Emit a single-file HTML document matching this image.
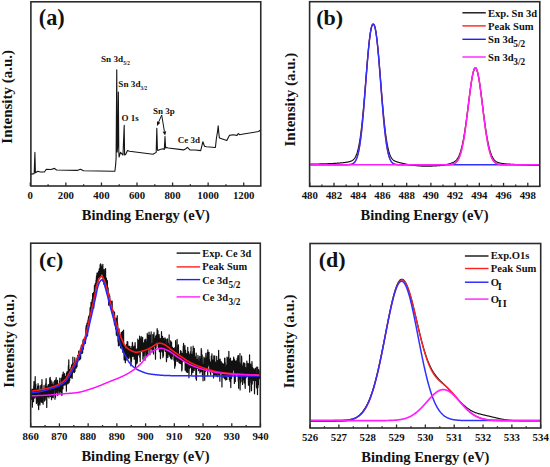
<!DOCTYPE html>
<html><head><meta charset="utf-8"><style>html,body{margin:0;padding:0;background:#fff;width:550px;height:467px;overflow:hidden}</style></head>
<body><svg width="550" height="467" viewBox="0 0 550 467" style="display:block">
<rect width="550" height="467" fill="#fff"/>
<g font-family='"Liberation Serif", serif' font-weight="bold" fill="#111">
<path d="M30.80,174.10 L34.20,173.60 L34.90,152.40 L35.40,172.80 L37.80,171.20 L40.30,172.00 L44.40,172.00 L46.30,169.20 L50.90,169.50 L54.50,168.40 L56.60,170.00 L77.10,170.40 L80.40,169.20 L83.60,170.70 L113.10,171.20 L114.90,171.30 L115.60,165.00 L116.10,158.00 L116.75,69.80 L117.20,152.00 L117.80,145.00 L118.35,92.00 L118.80,152.00 L119.10,157.00 L120.40,152.40 L123.00,155.00 L124.20,125.20 L124.60,155.00 L125.60,154.60 L127.50,150.50 L129.50,151.20 L153.00,154.30 L156.20,152.40 L156.80,128.30 L157.40,149.00 L157.80,150.50 L160.00,149.50 L163.00,148.80 L164.30,149.50 L165.00,136.50 L165.60,148.00 L166.50,147.40 L168.30,148.00 L183.50,149.90 L185.50,149.00 L187.40,147.40 L189.90,149.90 L195.00,150.00 L200.70,150.60 L202.90,141.70 L204.50,146.20 L206.50,146.80 L215.40,147.50 L216.40,138.50 L217.60,131.00 L218.20,125.80 L218.80,133.00 L219.40,137.90 L226.80,140.50 L229.40,135.40 L233.00,134.80 L237.00,135.40 L238.30,133.50 L239.50,134.70 L245.00,133.80 L258.60,131.50 L260.20,130.30" fill="none" stroke="#151515" stroke-width="1.1" stroke-linejoin="round" />
<path d="M161.70,115.00 L158.66,122.04" stroke="#111" stroke-width="1.0" fill="none"/>
<path d="M157.00,125.90 L157.01,121.33 L160.32,122.76 Z" fill="#111"/>
<path d="M161.70,115.00 L164.42,131.46" stroke="#111" stroke-width="1.0" fill="none"/>
<path d="M165.10,135.60 L162.64,131.75 L166.19,131.16 Z" fill="#111"/>
<rect x="30.9" y="1.8" width="229.85" height="184.2" fill="none" stroke="#2b2b2b" stroke-width="1.6"/>
<line x1="30.30" y1="186.0" x2="30.30" y2="182.5" stroke="#2b2b2b" stroke-width="1.3"/>
<text x="30.30" y="199.40" font-size="10.8" text-anchor="middle" >0</text>
<line x1="48.09" y1="186.0" x2="48.09" y2="184.2" stroke="#2b2b2b" stroke-width="1.3"/>
<line x1="65.87" y1="186.0" x2="65.87" y2="182.5" stroke="#2b2b2b" stroke-width="1.3"/>
<text x="65.87" y="199.40" font-size="10.8" text-anchor="middle" >200</text>
<line x1="83.66" y1="186.0" x2="83.66" y2="184.2" stroke="#2b2b2b" stroke-width="1.3"/>
<line x1="101.44" y1="186.0" x2="101.44" y2="182.5" stroke="#2b2b2b" stroke-width="1.3"/>
<text x="101.44" y="199.40" font-size="10.8" text-anchor="middle" >400</text>
<line x1="119.22" y1="186.0" x2="119.22" y2="184.2" stroke="#2b2b2b" stroke-width="1.3"/>
<line x1="137.01" y1="186.0" x2="137.01" y2="182.5" stroke="#2b2b2b" stroke-width="1.3"/>
<text x="137.01" y="199.40" font-size="10.8" text-anchor="middle" >600</text>
<line x1="154.80" y1="186.0" x2="154.80" y2="184.2" stroke="#2b2b2b" stroke-width="1.3"/>
<line x1="172.58" y1="186.0" x2="172.58" y2="182.5" stroke="#2b2b2b" stroke-width="1.3"/>
<text x="172.58" y="199.40" font-size="10.8" text-anchor="middle" >800</text>
<line x1="190.37" y1="186.0" x2="190.37" y2="184.2" stroke="#2b2b2b" stroke-width="1.3"/>
<line x1="208.15" y1="186.0" x2="208.15" y2="182.5" stroke="#2b2b2b" stroke-width="1.3"/>
<text x="208.15" y="199.40" font-size="10.8" text-anchor="middle" >1000</text>
<line x1="225.94" y1="186.0" x2="225.94" y2="184.2" stroke="#2b2b2b" stroke-width="1.3"/>
<line x1="243.72" y1="186.0" x2="243.72" y2="182.5" stroke="#2b2b2b" stroke-width="1.3"/>
<text x="243.72" y="199.40" font-size="10.8" text-anchor="middle" >1200</text>
<text x="145.90" y="219.60" font-size="14.5" text-anchor="middle" >Binding Energy (eV)</text>
<text x="0" y="0" font-size="15" text-anchor="middle" transform="translate(11.60,96.80) rotate(-90)">Intensity (a.u.)</text>
<text x="51.80" y="24.90" font-size="22.3" text-anchor="middle" >(a)</text>
<text x="101" y="61.7" font-size="9.2">Sn 3d<tspan font-size="5.2" dy="3.4">5/2</tspan></text>
<text x="118.3" y="86.8" font-size="9.2">Sn 3d<tspan font-size="5.2" dy="3.4">3/2</tspan></text>
<text x="121.40" y="121.40" font-size="9" text-anchor="start" >O 1s</text>
<text x="153.00" y="113.70" font-size="9" text-anchor="start" >Sn 3p</text>
<text x="177.70" y="143.20" font-size="9" text-anchor="start" >Ce 3d</text>
<path d="M310.40,164.15 L310.73,164.15 L311.05,164.14 L311.38,164.14 L311.71,164.13 L312.04,164.13 L312.36,164.12 L312.69,164.12 L313.02,164.11 L313.34,164.10 L313.67,164.10 L314.00,164.09 L314.32,164.09 L314.65,164.08 L314.98,164.07 L315.31,164.07 L315.63,164.06 L315.96,164.05 L316.29,164.05 L316.61,164.04 L316.94,164.03 L317.27,164.03 L317.59,164.02 L317.92,164.01 L318.25,164.00 L318.58,164.00 L318.90,163.99 L319.23,163.98 L319.56,163.97 L319.88,163.97 L320.21,163.96 L320.54,163.95 L320.87,163.94 L321.19,163.93 L321.52,163.92 L321.85,163.91 L322.17,163.90 L322.50,163.90 L322.83,163.89 L323.15,163.88 L323.48,163.87 L323.81,163.86 L324.14,163.85 L324.46,163.84 L324.79,163.83 L325.12,163.81 L325.44,163.80 L325.77,163.79 L326.10,163.78 L326.42,163.77 L326.75,163.76 L327.08,163.75 L327.41,163.73 L327.73,163.72 L328.06,163.71 L328.39,163.70 L328.71,163.68 L329.04,163.67 L329.37,163.66 L329.70,163.64 L330.02,163.63 L330.35,163.61 L330.68,163.60 L331.00,163.58 L331.33,163.57 L331.66,163.55 L331.98,163.53 L332.31,163.52 L332.64,163.50 L332.97,163.48 L333.29,163.47 L333.62,163.45 L333.95,163.43 L334.27,163.41 L334.60,163.39 L334.93,163.37 L335.25,163.35 L335.58,163.33 L335.91,163.31 L336.24,163.29 L336.56,163.27 L336.89,163.24 L337.22,163.22 L337.54,163.20 L337.87,163.17 L338.20,163.15 L338.53,163.12 L338.85,163.10 L339.18,163.07 L339.51,163.04 L339.83,163.02 L340.16,162.99 L340.49,162.96 L340.81,162.93 L341.14,162.90 L341.47,162.86 L341.80,162.83 L342.12,162.80 L342.45,162.76 L342.78,162.73 L343.10,162.69 L343.43,162.66 L343.76,162.62 L344.08,162.58 L344.41,162.54 L344.74,162.50 L345.07,162.45 L345.39,162.41 L345.72,162.36 L346.05,162.31 L346.37,162.26 L346.70,162.21 L347.03,162.15 L347.36,162.10 L347.68,162.04 L348.01,161.97 L348.34,161.90 L348.66,161.83 L348.99,161.75 L349.32,161.67 L349.64,161.58 L349.97,161.48 L350.30,161.38 L350.63,161.26 L350.95,161.13 L351.28,160.99 L351.61,160.84 L351.93,160.67 L352.26,160.47 L352.59,160.26 L352.92,160.02 L353.24,159.75 L353.57,159.45 L353.90,159.12 L354.22,158.74 L354.55,158.32 L354.88,157.85 L355.20,157.33 L355.53,156.74 L355.86,156.09 L356.19,155.37 L356.51,154.56 L356.84,153.67 L357.17,152.69 L357.49,151.61 L357.82,150.42 L358.15,149.12 L358.47,147.70 L358.80,146.15 L359.13,144.47 L359.46,142.65 L359.78,140.69 L360.11,138.58 L360.44,136.32 L360.76,133.91 L361.09,131.34 L361.42,128.62 L361.75,125.75 L362.07,122.72 L362.40,119.55 L362.73,116.24 L363.05,112.79 L363.38,109.22 L363.71,105.53 L364.03,101.74 L364.36,97.86 L364.69,93.90 L365.02,89.88 L365.34,85.82 L365.67,81.74 L366.00,77.66 L366.32,73.59 L366.65,69.56 L366.98,65.59 L367.30,61.70 L367.63,57.91 L367.96,54.24 L368.29,50.71 L368.61,47.35 L368.94,44.16 L369.27,41.17 L369.59,38.40 L369.92,35.85 L370.25,33.54 L370.58,31.48 L370.90,29.68 L371.23,28.13 L371.56,26.85 L371.88,25.83 L372.21,25.06 L372.54,24.54 L372.86,24.25 L373.19,24.17 L373.52,24.24 L373.85,24.52 L374.17,25.03 L374.50,25.79 L374.83,26.80 L375.15,28.07 L375.48,29.61 L375.81,31.40 L376.13,33.45 L376.46,35.75 L376.79,38.29 L377.12,41.05 L377.44,44.03 L377.77,47.21 L378.10,50.57 L378.42,54.09 L378.75,57.75 L379.08,61.54 L379.41,65.43 L379.73,69.40 L380.06,73.43 L380.39,77.50 L380.71,81.59 L381.04,85.67 L381.37,89.73 L381.69,93.75 L382.02,97.72 L382.35,101.61 L382.68,105.41 L383.00,109.10 L383.33,112.68 L383.66,116.14 L383.98,119.46 L384.31,122.64 L384.64,125.68 L384.96,128.56 L385.29,131.30 L385.62,133.87 L385.95,136.30 L386.27,138.57 L386.60,140.69 L386.93,142.66 L387.25,144.49 L387.58,146.18 L387.91,147.73 L388.24,149.17 L388.56,150.48 L388.89,151.67 L389.22,152.76 L389.54,153.75 L389.87,154.65 L390.20,155.46 L390.52,156.19 L390.85,156.85 L391.18,157.44 L391.51,157.97 L391.83,158.44 L392.16,158.87 L392.49,159.25 L392.81,159.59 L393.14,159.89 L393.47,160.16 L393.79,160.41 L394.12,160.62 L394.45,160.82 L394.78,161.00 L395.10,161.16 L395.43,161.30 L395.76,161.44 L396.08,161.56 L396.41,161.68 L396.74,161.79 L397.07,161.90 L397.39,162.00 L397.72,162.10 L398.05,162.19 L398.37,162.28 L398.70,162.37 L399.03,162.46 L399.35,162.55 L399.68,162.63 L400.01,162.71 L400.34,162.80 L400.66,162.88 L400.99,162.96 L401.32,163.04 L401.64,163.12 L401.97,163.20 L402.30,163.28 L402.62,163.36 L402.95,163.43 L403.28,163.51 L403.61,163.59 L403.93,163.66 L404.26,163.74 L404.59,163.81 L404.91,163.88 L405.24,163.95 L405.57,164.02 L405.90,164.09 L406.22,164.16 L406.55,164.23 L406.88,164.30 L407.20,164.36 L407.53,164.43 L407.86,164.49 L408.18,164.55 L408.51,164.61 L408.84,164.67 L409.17,164.73 L409.49,164.78 L409.82,164.84 L410.15,164.89 L410.47,164.94 L410.80,164.98 L411.13,165.03 L411.45,165.07 L411.78,165.11 L412.11,165.15 L412.44,165.19 L412.76,165.23 L413.09,165.26 L413.42,165.30 L413.74,165.34 L414.07,165.38 L414.40,165.41 L414.73,165.45 L415.05,165.48 L415.38,165.52 L415.71,165.56 L416.03,165.59 L416.36,165.62 L416.69,165.66 L417.01,165.69 L417.34,165.72 L417.67,165.75 L418.00,165.78 L418.32,165.81 L418.65,165.84 L418.98,165.87 L419.30,165.90 L419.63,165.92 L419.96,165.95 L420.28,165.97 L420.61,165.99 L420.94,166.01 L421.27,166.03 L421.59,166.05 L421.92,166.07 L422.25,166.09 L422.57,166.10 L422.90,166.12 L423.23,166.13 L423.56,166.14 L423.88,166.15 L424.21,166.15 L424.54,166.16 L424.86,166.16 L425.19,166.17 L425.52,166.17 L425.84,166.17 L426.17,166.17 L426.50,166.17 L426.83,166.16 L427.15,166.16 L427.48,166.16 L427.81,166.15 L428.13,166.15 L428.46,166.14 L428.79,166.14 L429.12,166.13 L429.44,166.12 L429.77,166.12 L430.10,166.11 L430.42,166.10 L430.75,166.09 L431.08,166.08 L431.40,166.06 L431.73,166.05 L432.06,166.04 L432.39,166.03 L432.71,166.01 L433.04,166.00 L433.37,165.98 L433.69,165.97 L434.02,165.95 L434.35,165.94 L434.67,165.92 L435.00,165.90 L435.33,165.88 L435.66,165.86 L435.98,165.84 L436.31,165.82 L436.64,165.80 L436.96,165.78 L437.29,165.76 L437.62,165.74 L437.95,165.72 L438.27,165.69 L438.60,165.67 L438.93,165.64 L439.25,165.62 L439.58,165.59 L439.91,165.57 L440.23,165.54 L440.56,165.51 L440.89,165.48 L441.22,165.44 L441.54,165.40 L441.87,165.36 L442.20,165.31 L442.52,165.27 L442.85,165.22 L443.18,165.16 L443.50,165.11 L443.83,165.05 L444.16,164.99 L444.49,164.93 L444.81,164.87 L445.14,164.80 L445.47,164.74 L445.79,164.67 L446.12,164.60 L446.45,164.52 L446.78,164.45 L447.10,164.37 L447.43,164.30 L447.76,164.22 L448.08,164.14 L448.41,164.05 L448.74,163.97 L449.06,163.88 L449.39,163.79 L449.72,163.70 L450.05,163.60 L450.37,163.50 L450.70,163.40 L451.03,163.29 L451.35,163.18 L451.68,163.06 L452.01,162.93 L452.33,162.80 L452.66,162.66 L452.99,162.51 L453.32,162.35 L453.64,162.18 L453.97,161.99 L454.30,161.79 L454.62,161.57 L454.95,161.34 L455.28,161.08 L455.61,160.80 L455.93,160.50 L456.26,160.16 L456.59,159.79 L456.91,159.38 L457.24,158.93 L457.57,158.45 L457.89,157.92 L458.22,157.34 L458.55,156.71 L458.88,156.03 L459.20,155.29 L459.53,154.48 L459.86,153.62 L460.18,152.69 L460.51,151.68 L460.84,150.61 L461.16,149.46 L461.49,148.23 L461.82,146.92 L462.15,145.53 L462.47,144.05 L462.80,142.49 L463.13,140.84 L463.45,139.11 L463.78,137.29 L464.11,135.39 L464.44,133.40 L464.76,131.33 L465.09,129.18 L465.42,126.96 L465.74,124.67 L466.07,122.31 L466.40,119.89 L466.72,117.42 L467.05,114.91 L467.38,112.35 L467.71,109.77 L468.03,107.17 L468.36,104.56 L468.69,101.95 L469.01,99.36 L469.34,96.79 L469.67,94.25 L469.99,91.77 L470.32,89.34 L470.65,86.99 L470.98,84.73 L471.30,82.57 L471.63,80.52 L471.96,78.59 L472.28,76.79 L472.61,75.14 L472.94,73.65 L473.27,72.32 L473.59,71.16 L473.92,70.19 L474.25,69.40 L474.57,68.80 L474.90,68.39 L475.23,68.19 L475.55,68.18 L475.88,68.38 L476.21,68.77 L476.54,69.36 L476.86,70.14 L477.19,71.10 L477.52,72.25 L477.84,73.57 L478.17,75.05 L478.50,76.69 L478.82,78.48 L479.15,80.40 L479.48,82.44 L479.81,84.60 L480.13,86.86 L480.46,89.20 L480.79,91.62 L481.11,94.10 L481.44,96.63 L481.77,99.20 L482.10,101.80 L482.42,104.40 L482.75,107.01 L483.08,109.61 L483.40,112.20 L483.73,114.75 L484.06,117.27 L484.38,119.74 L484.71,122.16 L485.04,124.52 L485.37,126.82 L485.69,129.04 L486.02,131.20 L486.35,133.27 L486.67,135.26 L487.00,137.17 L487.33,138.99 L487.65,140.73 L487.98,142.38 L488.31,143.95 L488.64,145.43 L488.96,146.82 L489.29,148.13 L489.62,149.37 L489.94,150.52 L490.27,151.60 L490.60,152.61 L490.93,153.54 L491.25,154.41 L491.58,155.21 L491.91,155.96 L492.23,156.64 L492.56,157.27 L492.89,157.85 L493.21,158.39 L493.54,158.88 L493.87,159.32 L494.20,159.73 L494.52,160.10 L494.85,160.44 L495.18,160.75 L495.50,161.03 L495.83,161.29 L496.16,161.52 L496.48,161.73 L496.81,161.93 L497.14,162.10 L497.47,162.26 L497.79,162.40 L498.12,162.53 L498.45,162.65 L498.77,162.76 L499.10,162.86 L499.43,162.95 L499.76,163.04 L500.08,163.11 L500.41,163.18 L500.74,163.25 L501.06,163.31 L501.39,163.37 L501.72,163.42 L502.04,163.47 L502.37,163.52 L502.70,163.56 L503.03,163.60 L503.35,163.64 L503.68,163.68 L504.01,163.71 L504.33,163.75 L504.66,163.78 L504.99,163.81 L505.32,163.84 L505.64,163.87 L505.97,163.90 L506.30,163.93 L506.62,163.96 L506.95,163.98 L507.28,164.01 L507.60,164.03 L507.93,164.06 L508.26,164.08 L508.59,164.10 L508.91,164.13 L509.24,164.15 L509.57,164.17 L509.89,164.19 L510.22,164.21 L510.55,164.23 L510.87,164.25 L511.20,164.27 L511.53,164.29 L511.86,164.31 L512.18,164.33 L512.51,164.35 L512.84,164.37 L513.16,164.39 L513.49,164.41 L513.82,164.43 L514.15,164.44 L514.47,164.46 L514.80,164.48 L515.13,164.50 L515.45,164.51 L515.78,164.53 L516.11,164.55 L516.43,164.56 L516.76,164.58 L517.09,164.59 L517.42,164.61 L517.74,164.63 L518.07,164.64 L518.40,164.66 L518.72,164.67 L519.05,164.69 L519.38,164.70 L519.70,164.72 L520.03,164.73 L520.36,164.75 L520.69,164.76 L521.01,164.78 L521.34,164.79 L521.67,164.80 L521.99,164.82 L522.32,164.83 L522.65,164.85 L522.98,164.86 L523.30,164.87 L523.63,164.89 L523.96,164.90 L524.28,164.92 L524.61,164.93 L524.94,164.94 L525.26,164.96 L525.59,164.97 L525.92,164.98 L526.25,165.00 L526.57,165.01 L526.90,165.02 L527.23,165.03 L527.55,165.05 L527.88,165.06 L528.21,165.07 L528.53,165.09 L528.86,165.10 L529.19,165.11 L529.52,165.12 L529.84,165.14 L530.17,165.15 L530.50,165.16 L530.82,165.17 L531.15,165.19 L531.48,165.20 L531.81,165.21 L532.13,165.22 L532.46,165.23 L532.79,165.25 L533.11,165.26 L533.44,165.27 L533.77,165.28 L534.09,165.29 L534.42,165.31 L534.75,165.32 L535.08,165.33 L535.40,165.34 L535.73,165.35 L536.06,165.37 L536.38,165.38 L536.71,165.39 L537.04,165.40 L537.36,165.41 L537.69,165.42 L538.02,165.43 L538.35,165.45 L538.67,165.46 L539.00,165.47" fill="none" stroke="#111" stroke-width="1.2" stroke-linejoin="round" />
<path d="M310.40,164.70 L310.73,164.70 L311.05,164.70 L311.38,164.70 L311.71,164.70 L312.04,164.70 L312.36,164.70 L312.69,164.70 L313.02,164.70 L313.34,164.70 L313.67,164.70 L314.00,164.70 L314.32,164.70 L314.65,164.70 L314.98,164.70 L315.31,164.70 L315.63,164.70 L315.96,164.70 L316.29,164.70 L316.61,164.70 L316.94,164.70 L317.27,164.70 L317.59,164.70 L317.92,164.70 L318.25,164.70 L318.58,164.70 L318.90,164.70 L319.23,164.70 L319.56,164.70 L319.88,164.70 L320.21,164.70 L320.54,164.70 L320.87,164.70 L321.19,164.70 L321.52,164.70 L321.85,164.70 L322.17,164.70 L322.50,164.70 L322.83,164.70 L323.15,164.70 L323.48,164.70 L323.81,164.70 L324.14,164.70 L324.46,164.70 L324.79,164.70 L325.12,164.70 L325.44,164.70 L325.77,164.70 L326.10,164.70 L326.42,164.70 L326.75,164.70 L327.08,164.70 L327.41,164.70 L327.73,164.70 L328.06,164.70 L328.39,164.70 L328.71,164.70 L329.04,164.70 L329.37,164.70 L329.70,164.70 L330.02,164.70 L330.35,164.70 L330.68,164.70 L331.00,164.70 L331.33,164.70 L331.66,164.70 L331.98,164.70 L332.31,164.70 L332.64,164.70 L332.97,164.70 L333.29,164.70 L333.62,164.70 L333.95,164.70 L334.27,164.70 L334.60,164.70 L334.93,164.70 L335.25,164.70 L335.58,164.70 L335.91,164.70 L336.24,164.70 L336.56,164.70 L336.89,164.70 L337.22,164.70 L337.54,164.70 L337.87,164.70 L338.20,164.70 L338.53,164.70 L338.85,164.70 L339.18,164.70 L339.51,164.70 L339.83,164.70 L340.16,164.70 L340.49,164.70 L340.81,164.70 L341.14,164.70 L341.47,164.70 L341.80,164.70 L342.12,164.70 L342.45,164.70 L342.78,164.70 L343.10,164.70 L343.43,164.70 L343.76,164.70 L344.08,164.70 L344.41,164.70 L344.74,164.70 L345.07,164.69 L345.39,164.69 L345.72,164.69 L346.05,164.69 L346.37,164.68 L346.70,164.68 L347.03,164.67 L347.36,164.67 L347.68,164.66 L348.01,164.65 L348.34,164.63 L348.66,164.62 L348.99,164.60 L349.32,164.57 L349.64,164.54 L349.97,164.50 L350.30,164.46 L350.63,164.41 L350.95,164.35 L351.28,164.27 L351.61,164.18 L351.93,164.08 L352.26,163.95 L352.59,163.81 L352.92,163.64 L353.24,163.44 L353.57,163.20 L353.90,162.94 L354.22,162.63 L354.55,162.27 L354.88,161.87 L355.20,161.40 L355.53,160.87 L355.86,160.28 L356.19,159.60 L356.51,158.84 L356.84,157.99 L357.17,157.05 L357.49,155.99 L357.82,154.83 L358.15,153.54 L358.47,152.12 L358.80,150.57 L359.13,148.87 L359.46,147.03 L359.78,145.04 L360.11,142.88 L360.44,140.57 L360.76,138.09 L361.09,135.45 L361.42,132.64 L361.75,129.66 L362.07,126.52 L362.40,123.23 L362.73,119.78 L363.05,116.20 L363.38,112.47 L363.71,108.63 L364.03,104.67 L364.36,100.62 L364.69,96.48 L365.02,92.29 L365.34,88.05 L365.67,83.79 L366.00,79.53 L366.32,75.28 L366.65,71.08 L366.98,66.94 L367.30,62.89 L367.63,58.94 L367.96,55.13 L368.29,51.47 L368.61,47.98 L368.94,44.69 L369.27,41.60 L369.59,38.74 L369.92,36.11 L370.25,33.74 L370.58,31.63 L370.90,29.78 L371.23,28.20 L371.56,26.90 L371.88,25.86 L372.21,25.09 L372.54,24.57 L372.86,24.28 L373.19,24.20 L373.52,24.27 L373.85,24.55 L374.17,25.06 L374.50,25.82 L374.83,26.84 L375.15,28.13 L375.48,29.69 L375.81,31.52 L376.13,33.62 L376.46,35.98 L376.79,38.59 L377.12,41.44 L377.44,44.52 L377.77,47.80 L378.10,51.28 L378.42,54.93 L378.75,58.74 L379.08,62.68 L379.41,66.72 L379.73,70.86 L380.06,75.06 L380.39,79.30 L380.71,83.57 L381.04,87.83 L381.37,92.07 L381.69,96.27 L382.02,100.40 L382.35,104.46 L382.68,108.42 L383.00,112.27 L383.33,116.00 L383.66,119.60 L383.98,123.05 L384.31,126.36 L384.64,129.50 L384.96,132.48 L385.29,135.30 L385.62,137.96 L385.95,140.44 L386.27,142.77 L386.60,144.93 L386.93,146.93 L387.25,148.78 L387.58,150.48 L387.91,152.04 L388.24,153.47 L388.56,154.76 L388.89,155.93 L389.22,156.99 L389.54,157.95 L389.87,158.80 L390.20,159.56 L390.52,160.24 L390.85,160.84 L391.18,161.37 L391.51,161.84 L391.83,162.25 L392.16,162.61 L392.49,162.92 L392.81,163.19 L393.14,163.42 L393.47,163.63 L393.79,163.80 L394.12,163.94 L394.45,164.07 L394.78,164.18 L395.10,164.27 L395.43,164.34 L395.76,164.41 L396.08,164.46 L396.41,164.50 L396.74,164.54 L397.07,164.57 L397.39,164.59 L397.72,164.61 L398.05,164.63 L398.37,164.65 L398.70,164.66 L399.03,164.67 L399.35,164.67 L399.68,164.68 L400.01,164.68 L400.34,164.69 L400.66,164.69 L400.99,164.69 L401.32,164.69 L401.64,164.70 L401.97,164.70 L402.30,164.70 L402.62,164.70 L402.95,164.70 L403.28,164.70 L403.61,164.70 L403.93,164.70 L404.26,164.70 L404.59,164.70 L404.91,164.70 L405.24,164.70 L405.57,164.70 L405.90,164.70 L406.22,164.70 L406.55,164.70 L406.88,164.70 L407.20,164.70 L407.53,164.70 L407.86,164.70 L408.18,164.70 L408.51,164.70 L408.84,164.70 L409.17,164.70 L409.49,164.70 L409.82,164.70 L410.15,164.70 L410.47,164.70 L410.80,164.70 L411.13,164.70 L411.45,164.70 L411.78,164.70 L412.11,164.70 L412.44,164.70 L412.76,164.70 L413.09,164.70 L413.42,164.70 L413.74,164.70 L414.07,164.70 L414.40,164.70 L414.73,164.70 L415.05,164.70 L415.38,164.70 L415.71,164.70 L416.03,164.70 L416.36,164.70 L416.69,164.70 L417.01,164.70 L417.34,164.70 L417.67,164.70 L418.00,164.70 L418.32,164.70 L418.65,164.70 L418.98,164.70 L419.30,164.70 L419.63,164.70 L419.96,164.70 L420.28,164.70 L420.61,164.70 L420.94,164.70 L421.27,164.70 L421.59,164.70 L421.92,164.70 L422.25,164.70 L422.57,164.70 L422.90,164.70 L423.23,164.70 L423.56,164.70 L423.88,164.70 L424.21,164.70 L424.54,164.70 L424.86,164.70 L425.19,164.70 L425.52,164.70 L425.84,164.70 L426.17,164.70 L426.50,164.70 L426.83,164.70 L427.15,164.70 L427.48,164.70 L427.81,164.70 L428.13,164.70 L428.46,164.70 L428.79,164.70 L429.12,164.70 L429.44,164.70 L429.77,164.70 L430.10,164.70 L430.42,164.70 L430.75,164.70 L431.08,164.70 L431.40,164.70 L431.73,164.70 L432.06,164.70 L432.39,164.70 L432.71,164.70 L433.04,164.70 L433.37,164.70 L433.69,164.70 L434.02,164.70 L434.35,164.70 L434.67,164.70 L435.00,164.70 L435.33,164.70 L435.66,164.70 L435.98,164.70 L436.31,164.70 L436.64,164.70 L436.96,164.70 L437.29,164.70 L437.62,164.70 L437.95,164.70 L438.27,164.70 L438.60,164.70 L438.93,164.70 L439.25,164.70 L439.58,164.70 L439.91,164.70 L440.23,164.70 L440.56,164.70 L440.89,164.70 L441.22,164.70 L441.54,164.70 L441.87,164.70 L442.20,164.70 L442.52,164.70 L442.85,164.70 L443.18,164.70 L443.50,164.70 L443.83,164.70 L444.16,164.69 L444.49,164.69 L444.81,164.69 L445.14,164.69 L445.47,164.69 L445.79,164.68 L446.12,164.68 L446.45,164.68 L446.78,164.67 L447.10,164.67 L447.43,164.66 L447.76,164.65 L448.08,164.64 L448.41,164.63 L448.74,164.62 L449.06,164.60 L449.39,164.58 L449.72,164.56 L450.05,164.53 L450.37,164.51 L450.70,164.47 L451.03,164.43 L451.35,164.39 L451.68,164.33 L452.01,164.27 L452.33,164.20 L452.66,164.13 L452.99,164.03 L453.32,163.93 L453.64,163.81 L453.97,163.68 L454.30,163.53 L454.62,163.36 L454.95,163.17 L455.28,162.95 L455.61,162.71 L455.93,162.44 L456.26,162.14 L456.59,161.80 L456.91,161.43 L457.24,161.02 L457.57,160.56 L457.89,160.06 L458.22,159.51 L458.55,158.90 L458.88,158.24 L459.20,157.51 L459.53,156.72 L459.86,155.87 L460.18,154.94 L460.51,153.94 L460.84,152.86 L461.16,151.70 L461.49,150.46 L461.82,149.13 L462.15,147.72 L462.47,146.21 L462.80,144.61 L463.13,142.93 L463.45,141.15 L463.78,139.28 L464.11,137.31 L464.44,135.26 L464.76,133.13 L465.09,130.91 L465.42,128.61 L465.74,126.23 L466.07,123.79 L466.40,121.28 L466.72,118.72 L467.05,116.11 L467.38,113.46 L467.71,110.78 L468.03,108.08 L468.36,105.37 L468.69,102.67 L469.01,99.97 L469.34,97.31 L469.67,94.68 L469.99,92.10 L470.32,89.59 L470.65,87.16 L470.98,84.82 L471.30,82.58 L471.63,80.45 L471.96,78.46 L472.28,76.61 L472.61,74.90 L472.94,73.36 L473.27,71.99 L473.59,70.79 L473.92,69.79 L474.25,68.97 L474.57,68.36 L474.90,67.94 L475.23,67.73 L475.55,67.72 L475.88,67.92 L476.21,68.33 L476.54,68.93 L476.86,69.74 L477.19,70.73 L477.52,71.92 L477.84,73.28 L478.17,74.81 L478.50,76.51 L478.82,78.35 L479.15,80.34 L479.48,82.46 L479.81,84.69 L480.13,87.03 L480.46,89.46 L480.79,91.96 L481.11,94.53 L481.44,97.16 L481.77,99.82 L482.10,102.52 L482.42,105.22 L482.75,107.93 L483.08,110.63 L483.40,113.31 L483.73,115.97 L484.06,118.58 L484.38,121.14 L484.71,123.65 L485.04,126.10 L485.37,128.48 L485.69,130.78 L486.02,133.01 L486.35,135.15 L486.67,137.20 L487.00,139.17 L487.33,141.05 L487.65,142.83 L487.98,144.52 L488.31,146.12 L488.64,147.64 L488.96,149.06 L489.29,150.39 L489.62,151.64 L489.94,152.80 L490.27,153.88 L490.60,154.89 L490.93,155.82 L491.25,156.68 L491.58,157.47 L491.91,158.20 L492.23,158.86 L492.56,159.47 L492.89,160.03 L493.21,160.53 L493.54,160.99 L493.87,161.41 L494.20,161.78 L494.52,162.12 L494.85,162.42 L495.18,162.70 L495.50,162.94 L495.83,163.16 L496.16,163.35 L496.48,163.52 L496.81,163.67 L497.14,163.81 L497.47,163.92 L497.79,164.03 L498.12,164.12 L498.45,164.20 L498.77,164.27 L499.10,164.33 L499.43,164.38 L499.76,164.43 L500.08,164.47 L500.41,164.50 L500.74,164.53 L501.06,164.56 L501.39,164.58 L501.72,164.60 L502.04,164.62 L502.37,164.63 L502.70,164.64 L503.03,164.65 L503.35,164.66 L503.68,164.67 L504.01,164.67 L504.33,164.68 L504.66,164.68 L504.99,164.68 L505.32,164.69 L505.64,164.69 L505.97,164.69 L506.30,164.69 L506.62,164.69 L506.95,164.70 L507.28,164.70 L507.60,164.70 L507.93,164.70 L508.26,164.70 L508.59,164.70 L508.91,164.70 L509.24,164.70 L509.57,164.70 L509.89,164.70 L510.22,164.70 L510.55,164.70 L510.87,164.70 L511.20,164.70 L511.53,164.70 L511.86,164.70 L512.18,164.70 L512.51,164.70 L512.84,164.70 L513.16,164.70 L513.49,164.70 L513.82,164.70 L514.15,164.70 L514.47,164.70 L514.80,164.70 L515.13,164.70 L515.45,164.70 L515.78,164.70 L516.11,164.70 L516.43,164.70 L516.76,164.70 L517.09,164.70 L517.42,164.70 L517.74,164.70 L518.07,164.70 L518.40,164.70 L518.72,164.70 L519.05,164.70 L519.38,164.70 L519.70,164.70 L520.03,164.70 L520.36,164.70 L520.69,164.70 L521.01,164.70 L521.34,164.70 L521.67,164.70 L521.99,164.70 L522.32,164.70 L522.65,164.70 L522.98,164.70 L523.30,164.70 L523.63,164.70 L523.96,164.70 L524.28,164.70 L524.61,164.70 L524.94,164.70 L525.26,164.70 L525.59,164.70 L525.92,164.70 L526.25,164.70 L526.57,164.70 L526.90,164.70 L527.23,164.70 L527.55,164.70 L527.88,164.70 L528.21,164.70 L528.53,164.70 L528.86,164.70 L529.19,164.70 L529.52,164.70 L529.84,164.70 L530.17,164.70 L530.50,164.70 L530.82,164.70 L531.15,164.70 L531.48,164.70 L531.81,164.70 L532.13,164.70 L532.46,164.70 L532.79,164.70 L533.11,164.70 L533.44,164.70 L533.77,164.70 L534.09,164.70 L534.42,164.70 L534.75,164.70 L535.08,164.70 L535.40,164.70 L535.73,164.70 L536.06,164.70 L536.38,164.70 L536.71,164.70 L537.04,164.70 L537.36,164.70 L537.69,164.70 L538.02,164.70 L538.35,164.70 L538.67,164.70 L539.00,164.70" fill="none" stroke="#ff2020" stroke-width="1.2" stroke-linejoin="round" />
<path d="M310.40,164.70 L310.73,164.70 L311.05,164.70 L311.38,164.70 L311.71,164.70 L312.04,164.70 L312.36,164.70 L312.69,164.70 L313.02,164.70 L313.34,164.70 L313.67,164.70 L314.00,164.70 L314.32,164.70 L314.65,164.70 L314.98,164.70 L315.31,164.70 L315.63,164.70 L315.96,164.70 L316.29,164.70 L316.61,164.70 L316.94,164.70 L317.27,164.70 L317.59,164.70 L317.92,164.70 L318.25,164.70 L318.58,164.70 L318.90,164.70 L319.23,164.70 L319.56,164.70 L319.88,164.70 L320.21,164.70 L320.54,164.70 L320.87,164.70 L321.19,164.70 L321.52,164.70 L321.85,164.70 L322.17,164.70 L322.50,164.70 L322.83,164.70 L323.15,164.70 L323.48,164.70 L323.81,164.70 L324.14,164.70 L324.46,164.70 L324.79,164.70 L325.12,164.70 L325.44,164.70 L325.77,164.70 L326.10,164.70 L326.42,164.70 L326.75,164.70 L327.08,164.70 L327.41,164.70 L327.73,164.70 L328.06,164.70 L328.39,164.70 L328.71,164.70 L329.04,164.70 L329.37,164.70 L329.70,164.70 L330.02,164.70 L330.35,164.70 L330.68,164.70 L331.00,164.70 L331.33,164.70 L331.66,164.70 L331.98,164.70 L332.31,164.70 L332.64,164.70 L332.97,164.70 L333.29,164.70 L333.62,164.70 L333.95,164.70 L334.27,164.70 L334.60,164.70 L334.93,164.70 L335.25,164.70 L335.58,164.70 L335.91,164.70 L336.24,164.70 L336.56,164.70 L336.89,164.70 L337.22,164.70 L337.54,164.70 L337.87,164.70 L338.20,164.70 L338.53,164.70 L338.85,164.70 L339.18,164.70 L339.51,164.70 L339.83,164.70 L340.16,164.70 L340.49,164.70 L340.81,164.70 L341.14,164.70 L341.47,164.70 L341.80,164.70 L342.12,164.70 L342.45,164.70 L342.78,164.70 L343.10,164.70 L343.43,164.70 L343.76,164.70 L344.08,164.70 L344.41,164.70 L344.74,164.70 L345.07,164.69 L345.39,164.69 L345.72,164.69 L346.05,164.69 L346.37,164.68 L346.70,164.68 L347.03,164.67 L347.36,164.67 L347.68,164.66 L348.01,164.65 L348.34,164.63 L348.66,164.62 L348.99,164.60 L349.32,164.57 L349.64,164.54 L349.97,164.50 L350.30,164.46 L350.63,164.41 L350.95,164.35 L351.28,164.27 L351.61,164.18 L351.93,164.08 L352.26,163.95 L352.59,163.81 L352.92,163.64 L353.24,163.44 L353.57,163.20 L353.90,162.94 L354.22,162.63 L354.55,162.27 L354.88,161.87 L355.20,161.40 L355.53,160.87 L355.86,160.28 L356.19,159.60 L356.51,158.84 L356.84,157.99 L357.17,157.05 L357.49,155.99 L357.82,154.83 L358.15,153.54 L358.47,152.12 L358.80,150.57 L359.13,148.87 L359.46,147.03 L359.78,145.04 L360.11,142.88 L360.44,140.57 L360.76,138.09 L361.09,135.45 L361.42,132.64 L361.75,129.66 L362.07,126.52 L362.40,123.23 L362.73,119.78 L363.05,116.20 L363.38,112.47 L363.71,108.63 L364.03,104.67 L364.36,100.62 L364.69,96.48 L365.02,92.29 L365.34,88.05 L365.67,83.79 L366.00,79.53 L366.32,75.28 L366.65,71.08 L366.98,66.94 L367.30,62.89 L367.63,58.94 L367.96,55.13 L368.29,51.47 L368.61,47.98 L368.94,44.69 L369.27,41.60 L369.59,38.74 L369.92,36.11 L370.25,33.74 L370.58,31.63 L370.90,29.78 L371.23,28.20 L371.56,26.90 L371.88,25.86 L372.21,25.09 L372.54,24.57 L372.86,24.28 L373.19,24.20 L373.52,24.27 L373.85,24.55 L374.17,25.06 L374.50,25.82 L374.83,26.84 L375.15,28.13 L375.48,29.69 L375.81,31.52 L376.13,33.62 L376.46,35.98 L376.79,38.59 L377.12,41.44 L377.44,44.52 L377.77,47.80 L378.10,51.28 L378.42,54.93 L378.75,58.74 L379.08,62.68 L379.41,66.72 L379.73,70.86 L380.06,75.06 L380.39,79.30 L380.71,83.57 L381.04,87.83 L381.37,92.07 L381.69,96.27 L382.02,100.40 L382.35,104.46 L382.68,108.42 L383.00,112.27 L383.33,116.00 L383.66,119.60 L383.98,123.05 L384.31,126.36 L384.64,129.50 L384.96,132.48 L385.29,135.30 L385.62,137.96 L385.95,140.44 L386.27,142.77 L386.60,144.93 L386.93,146.93 L387.25,148.78 L387.58,150.48 L387.91,152.04 L388.24,153.47 L388.56,154.76 L388.89,155.93 L389.22,156.99 L389.54,157.95 L389.87,158.80 L390.20,159.56 L390.52,160.24 L390.85,160.84 L391.18,161.37 L391.51,161.84 L391.83,162.25 L392.16,162.61 L392.49,162.92 L392.81,163.19 L393.14,163.42 L393.47,163.63 L393.79,163.80 L394.12,163.94 L394.45,164.07 L394.78,164.18 L395.10,164.27 L395.43,164.34 L395.76,164.41 L396.08,164.46 L396.41,164.50 L396.74,164.54 L397.07,164.57 L397.39,164.59 L397.72,164.61 L398.05,164.63 L398.37,164.65 L398.70,164.66 L399.03,164.67 L399.35,164.67 L399.68,164.68 L400.01,164.68 L400.34,164.69 L400.66,164.69 L400.99,164.69 L401.32,164.69 L401.64,164.70 L401.97,164.70 L402.30,164.70 L402.62,164.70 L402.95,164.70 L403.28,164.70 L403.61,164.70 L403.93,164.70 L404.26,164.70 L404.59,164.70 L404.91,164.70 L405.24,164.70 L405.57,164.70 L405.90,164.70 L406.22,164.70 L406.55,164.70 L406.88,164.70 L407.20,164.70 L407.53,164.70 L407.86,164.70 L408.18,164.70 L408.51,164.70 L408.84,164.70 L409.17,164.70 L409.49,164.70 L409.82,164.70 L410.15,164.70 L410.47,164.70 L410.80,164.70 L411.13,164.70 L411.45,164.70 L411.78,164.70 L412.11,164.70 L412.44,164.70 L412.76,164.70 L413.09,164.70 L413.42,164.70 L413.74,164.70 L414.07,164.70 L414.40,164.70 L414.73,164.70 L415.05,164.70 L415.38,164.70 L415.71,164.70 L416.03,164.70 L416.36,164.70 L416.69,164.70 L417.01,164.70 L417.34,164.70 L417.67,164.70 L418.00,164.70 L418.32,164.70 L418.65,164.70 L418.98,164.70 L419.30,164.70 L419.63,164.70 L419.96,164.70 L420.28,164.70 L420.61,164.70 L420.94,164.70 L421.27,164.70 L421.59,164.70 L421.92,164.70 L422.25,164.70 L422.57,164.70 L422.90,164.70 L423.23,164.70 L423.56,164.70 L423.88,164.70 L424.21,164.70 L424.54,164.70 L424.86,164.70 L425.19,164.70 L425.52,164.70 L425.84,164.70 L426.17,164.70 L426.50,164.70 L426.83,164.70 L427.15,164.70 L427.48,164.70 L427.81,164.70 L428.13,164.70 L428.46,164.70 L428.79,164.70 L429.12,164.70 L429.44,164.70 L429.77,164.70 L430.10,164.70 L430.42,164.70 L430.75,164.70 L431.08,164.70 L431.40,164.70 L431.73,164.70 L432.06,164.70 L432.39,164.70 L432.71,164.70 L433.04,164.70 L433.37,164.70 L433.69,164.70 L434.02,164.70 L434.35,164.70 L434.67,164.70 L435.00,164.70 L435.33,164.70 L435.66,164.70 L435.98,164.70 L436.31,164.70 L436.64,164.70 L436.96,164.70 L437.29,164.70 L437.62,164.70 L437.95,164.70 L438.27,164.70 L438.60,164.70 L438.93,164.70 L439.25,164.70 L439.58,164.70 L439.91,164.70 L440.23,164.70 L440.56,164.70 L440.89,164.70 L441.22,164.70 L441.54,164.70 L441.87,164.70 L442.20,164.70 L442.52,164.70 L442.85,164.70 L443.18,164.70 L443.50,164.70 L443.83,164.70 L444.16,164.70 L444.49,164.70 L444.81,164.70 L445.14,164.70 L445.47,164.70 L445.79,164.70 L446.12,164.70 L446.45,164.70 L446.78,164.70 L447.10,164.70 L447.43,164.70 L447.76,164.70 L448.08,164.70 L448.41,164.70 L448.74,164.70 L449.06,164.70 L449.39,164.70 L449.72,164.70 L450.05,164.70 L450.37,164.70 L450.70,164.70 L451.03,164.70 L451.35,164.70 L451.68,164.70 L452.01,164.70 L452.33,164.70 L452.66,164.70 L452.99,164.70 L453.32,164.70 L453.64,164.70 L453.97,164.70 L454.30,164.70 L454.62,164.70 L454.95,164.70 L455.28,164.70 L455.61,164.70 L455.93,164.70 L456.26,164.70 L456.59,164.70 L456.91,164.70 L457.24,164.70 L457.57,164.70 L457.89,164.70 L458.22,164.70 L458.55,164.70 L458.88,164.70 L459.20,164.70 L459.53,164.70 L459.86,164.70 L460.18,164.70 L460.51,164.70 L460.84,164.70 L461.16,164.70 L461.49,164.70 L461.82,164.70 L462.15,164.70 L462.47,164.70 L462.80,164.70 L463.13,164.70 L463.45,164.70 L463.78,164.70 L464.11,164.70 L464.44,164.70 L464.76,164.70 L465.09,164.70 L465.42,164.70 L465.74,164.70 L466.07,164.70 L466.40,164.70 L466.72,164.70 L467.05,164.70 L467.38,164.70 L467.71,164.70 L468.03,164.70 L468.36,164.70 L468.69,164.70 L469.01,164.70 L469.34,164.70 L469.67,164.70 L469.99,164.70 L470.32,164.70 L470.65,164.70 L470.98,164.70 L471.30,164.70 L471.63,164.70 L471.96,164.70 L472.28,164.70 L472.61,164.70 L472.94,164.70 L473.27,164.70 L473.59,164.70 L473.92,164.70 L474.25,164.70 L474.57,164.70 L474.90,164.70 L475.23,164.70 L475.55,164.70 L475.88,164.70 L476.21,164.70 L476.54,164.70 L476.86,164.70 L477.19,164.70 L477.52,164.70 L477.84,164.70 L478.17,164.70 L478.50,164.70 L478.82,164.70 L479.15,164.70 L479.48,164.70 L479.81,164.70 L480.13,164.70 L480.46,164.70 L480.79,164.70 L481.11,164.70 L481.44,164.70 L481.77,164.70 L482.10,164.70 L482.42,164.70 L482.75,164.70 L483.08,164.70 L483.40,164.70 L483.73,164.70 L484.06,164.70 L484.38,164.70 L484.71,164.70 L485.04,164.70 L485.37,164.70 L485.69,164.70 L486.02,164.70 L486.35,164.70 L486.67,164.70 L487.00,164.70 L487.33,164.70 L487.65,164.70 L487.98,164.70 L488.31,164.70 L488.64,164.70 L488.96,164.70 L489.29,164.70 L489.62,164.70 L489.94,164.70 L490.27,164.70 L490.60,164.70 L490.93,164.70 L491.25,164.70 L491.58,164.70 L491.91,164.70 L492.23,164.70 L492.56,164.70 L492.89,164.70 L493.21,164.70 L493.54,164.70 L493.87,164.70 L494.20,164.70 L494.52,164.70 L494.85,164.70 L495.18,164.70 L495.50,164.70 L495.83,164.70 L496.16,164.70 L496.48,164.70 L496.81,164.70 L497.14,164.70 L497.47,164.70 L497.79,164.70 L498.12,164.70 L498.45,164.70 L498.77,164.70 L499.10,164.70 L499.43,164.70 L499.76,164.70 L500.08,164.70 L500.41,164.70 L500.74,164.70 L501.06,164.70 L501.39,164.70 L501.72,164.70 L502.04,164.70 L502.37,164.70 L502.70,164.70 L503.03,164.70 L503.35,164.70 L503.68,164.70 L504.01,164.70 L504.33,164.70 L504.66,164.70 L504.99,164.70 L505.32,164.70 L505.64,164.70 L505.97,164.70 L506.30,164.70 L506.62,164.70 L506.95,164.70 L507.28,164.70 L507.60,164.70 L507.93,164.70 L508.26,164.70 L508.59,164.70 L508.91,164.70 L509.24,164.70 L509.57,164.70 L509.89,164.70 L510.22,164.70 L510.55,164.70 L510.87,164.70 L511.20,164.70 L511.53,164.70 L511.86,164.70 L512.18,164.70 L512.51,164.70 L512.84,164.70 L513.16,164.70 L513.49,164.70 L513.82,164.70 L514.15,164.70 L514.47,164.70 L514.80,164.70 L515.13,164.70 L515.45,164.70 L515.78,164.70 L516.11,164.70 L516.43,164.70 L516.76,164.70 L517.09,164.70 L517.42,164.70 L517.74,164.70 L518.07,164.70 L518.40,164.70 L518.72,164.70 L519.05,164.70 L519.38,164.70 L519.70,164.70 L520.03,164.70 L520.36,164.70 L520.69,164.70 L521.01,164.70 L521.34,164.70 L521.67,164.70 L521.99,164.70 L522.32,164.70 L522.65,164.70 L522.98,164.70 L523.30,164.70 L523.63,164.70 L523.96,164.70 L524.28,164.70 L524.61,164.70 L524.94,164.70 L525.26,164.70 L525.59,164.70 L525.92,164.70 L526.25,164.70 L526.57,164.70 L526.90,164.70 L527.23,164.70 L527.55,164.70 L527.88,164.70 L528.21,164.70 L528.53,164.70 L528.86,164.70 L529.19,164.70 L529.52,164.70 L529.84,164.70 L530.17,164.70 L530.50,164.70 L530.82,164.70 L531.15,164.70 L531.48,164.70 L531.81,164.70 L532.13,164.70 L532.46,164.70 L532.79,164.70 L533.11,164.70 L533.44,164.70 L533.77,164.70 L534.09,164.70 L534.42,164.70 L534.75,164.70 L535.08,164.70 L535.40,164.70 L535.73,164.70 L536.06,164.70 L536.38,164.70 L536.71,164.70 L537.04,164.70 L537.36,164.70 L537.69,164.70 L538.02,164.70 L538.35,164.70 L538.67,164.70 L539.00,164.70" fill="none" stroke="#3030ff" stroke-width="1.45" stroke-linejoin="round" />
<path d="M310.40,164.70 L310.73,164.70 L311.05,164.70 L311.38,164.70 L311.71,164.70 L312.04,164.70 L312.36,164.70 L312.69,164.70 L313.02,164.70 L313.34,164.70 L313.67,164.70 L314.00,164.70 L314.32,164.70 L314.65,164.70 L314.98,164.70 L315.31,164.70 L315.63,164.70 L315.96,164.70 L316.29,164.70 L316.61,164.70 L316.94,164.70 L317.27,164.70 L317.59,164.70 L317.92,164.70 L318.25,164.70 L318.58,164.70 L318.90,164.70 L319.23,164.70 L319.56,164.70 L319.88,164.70 L320.21,164.70 L320.54,164.70 L320.87,164.70 L321.19,164.70 L321.52,164.70 L321.85,164.70 L322.17,164.70 L322.50,164.70 L322.83,164.70 L323.15,164.70 L323.48,164.70 L323.81,164.70 L324.14,164.70 L324.46,164.70 L324.79,164.70 L325.12,164.70 L325.44,164.70 L325.77,164.70 L326.10,164.70 L326.42,164.70 L326.75,164.70 L327.08,164.70 L327.41,164.70 L327.73,164.70 L328.06,164.70 L328.39,164.70 L328.71,164.70 L329.04,164.70 L329.37,164.70 L329.70,164.70 L330.02,164.70 L330.35,164.70 L330.68,164.70 L331.00,164.70 L331.33,164.70 L331.66,164.70 L331.98,164.70 L332.31,164.70 L332.64,164.70 L332.97,164.70 L333.29,164.70 L333.62,164.70 L333.95,164.70 L334.27,164.70 L334.60,164.70 L334.93,164.70 L335.25,164.70 L335.58,164.70 L335.91,164.70 L336.24,164.70 L336.56,164.70 L336.89,164.70 L337.22,164.70 L337.54,164.70 L337.87,164.70 L338.20,164.70 L338.53,164.70 L338.85,164.70 L339.18,164.70 L339.51,164.70 L339.83,164.70 L340.16,164.70 L340.49,164.70 L340.81,164.70 L341.14,164.70 L341.47,164.70 L341.80,164.70 L342.12,164.70 L342.45,164.70 L342.78,164.70 L343.10,164.70 L343.43,164.70 L343.76,164.70 L344.08,164.70 L344.41,164.70 L344.74,164.70 L345.07,164.70 L345.39,164.70 L345.72,164.70 L346.05,164.70 L346.37,164.70 L346.70,164.70 L347.03,164.70 L347.36,164.70 L347.68,164.70 L348.01,164.70 L348.34,164.70 L348.66,164.70 L348.99,164.70 L349.32,164.70 L349.64,164.70 L349.97,164.70 L350.30,164.70 L350.63,164.70 L350.95,164.70 L351.28,164.70 L351.61,164.70 L351.93,164.70 L352.26,164.70 L352.59,164.70 L352.92,164.70 L353.24,164.70 L353.57,164.70 L353.90,164.70 L354.22,164.70 L354.55,164.70 L354.88,164.70 L355.20,164.70 L355.53,164.70 L355.86,164.70 L356.19,164.70 L356.51,164.70 L356.84,164.70 L357.17,164.70 L357.49,164.70 L357.82,164.70 L358.15,164.70 L358.47,164.70 L358.80,164.70 L359.13,164.70 L359.46,164.70 L359.78,164.70 L360.11,164.70 L360.44,164.70 L360.76,164.70 L361.09,164.70 L361.42,164.70 L361.75,164.70 L362.07,164.70 L362.40,164.70 L362.73,164.70 L363.05,164.70 L363.38,164.70 L363.71,164.70 L364.03,164.70 L364.36,164.70 L364.69,164.70 L365.02,164.70 L365.34,164.70 L365.67,164.70 L366.00,164.70 L366.32,164.70 L366.65,164.70 L366.98,164.70 L367.30,164.70 L367.63,164.70 L367.96,164.70 L368.29,164.70 L368.61,164.70 L368.94,164.70 L369.27,164.70 L369.59,164.70 L369.92,164.70 L370.25,164.70 L370.58,164.70 L370.90,164.70 L371.23,164.70 L371.56,164.70 L371.88,164.70 L372.21,164.70 L372.54,164.70 L372.86,164.70 L373.19,164.70 L373.52,164.70 L373.85,164.70 L374.17,164.70 L374.50,164.70 L374.83,164.70 L375.15,164.70 L375.48,164.70 L375.81,164.70 L376.13,164.70 L376.46,164.70 L376.79,164.70 L377.12,164.70 L377.44,164.70 L377.77,164.70 L378.10,164.70 L378.42,164.70 L378.75,164.70 L379.08,164.70 L379.41,164.70 L379.73,164.70 L380.06,164.70 L380.39,164.70 L380.71,164.70 L381.04,164.70 L381.37,164.70 L381.69,164.70 L382.02,164.70 L382.35,164.70 L382.68,164.70 L383.00,164.70 L383.33,164.70 L383.66,164.70 L383.98,164.70 L384.31,164.70 L384.64,164.70 L384.96,164.70 L385.29,164.70 L385.62,164.70 L385.95,164.70 L386.27,164.70 L386.60,164.70 L386.93,164.70 L387.25,164.70 L387.58,164.70 L387.91,164.70 L388.24,164.70 L388.56,164.70 L388.89,164.70 L389.22,164.70 L389.54,164.70 L389.87,164.70 L390.20,164.70 L390.52,164.70 L390.85,164.70 L391.18,164.70 L391.51,164.70 L391.83,164.70 L392.16,164.70 L392.49,164.70 L392.81,164.70 L393.14,164.70 L393.47,164.70 L393.79,164.70 L394.12,164.70 L394.45,164.70 L394.78,164.70 L395.10,164.70 L395.43,164.70 L395.76,164.70 L396.08,164.70 L396.41,164.70 L396.74,164.70 L397.07,164.70 L397.39,164.70 L397.72,164.70 L398.05,164.70 L398.37,164.70 L398.70,164.70 L399.03,164.70 L399.35,164.70 L399.68,164.70 L400.01,164.70 L400.34,164.70 L400.66,164.70 L400.99,164.70 L401.32,164.70 L401.64,164.70 L401.97,164.70 L402.30,164.70 L402.62,164.70 L402.95,164.70 L403.28,164.70 L403.61,164.70 L403.93,164.70 L404.26,164.70 L404.59,164.70 L404.91,164.70 L405.24,164.70 L405.57,164.70 L405.90,164.70 L406.22,164.70 L406.55,164.70 L406.88,164.70 L407.20,164.70 L407.53,164.70 L407.86,164.70 L408.18,164.70 L408.51,164.70 L408.84,164.70 L409.17,164.70 L409.49,164.70 L409.82,164.70 L410.15,164.70 L410.47,164.70 L410.80,164.70 L411.13,164.70 L411.45,164.70 L411.78,164.70 L412.11,164.70 L412.44,164.70 L412.76,164.70 L413.09,164.70 L413.42,164.70 L413.74,164.70 L414.07,164.70 L414.40,164.70 L414.73,164.70 L415.05,164.70 L415.38,164.70 L415.71,164.70 L416.03,164.70 L416.36,164.70 L416.69,164.70 L417.01,164.70 L417.34,164.70 L417.67,164.70 L418.00,164.70 L418.32,164.70 L418.65,164.70 L418.98,164.70 L419.30,164.70 L419.63,164.70 L419.96,164.70 L420.28,164.70 L420.61,164.70 L420.94,164.70 L421.27,164.70 L421.59,164.70 L421.92,164.70 L422.25,164.70 L422.57,164.70 L422.90,164.70 L423.23,164.70 L423.56,164.70 L423.88,164.70 L424.21,164.70 L424.54,164.70 L424.86,164.70 L425.19,164.70 L425.52,164.70 L425.84,164.70 L426.17,164.70 L426.50,164.70 L426.83,164.70 L427.15,164.70 L427.48,164.70 L427.81,164.70 L428.13,164.70 L428.46,164.70 L428.79,164.70 L429.12,164.70 L429.44,164.70 L429.77,164.70 L430.10,164.70 L430.42,164.70 L430.75,164.70 L431.08,164.70 L431.40,164.70 L431.73,164.70 L432.06,164.70 L432.39,164.70 L432.71,164.70 L433.04,164.70 L433.37,164.70 L433.69,164.70 L434.02,164.70 L434.35,164.70 L434.67,164.70 L435.00,164.70 L435.33,164.70 L435.66,164.70 L435.98,164.70 L436.31,164.70 L436.64,164.70 L436.96,164.70 L437.29,164.70 L437.62,164.70 L437.95,164.70 L438.27,164.70 L438.60,164.70 L438.93,164.70 L439.25,164.70 L439.58,164.70 L439.91,164.70 L440.23,164.70 L440.56,164.70 L440.89,164.70 L441.22,164.70 L441.54,164.70 L441.87,164.70 L442.20,164.70 L442.52,164.70 L442.85,164.70 L443.18,164.70 L443.50,164.70 L443.83,164.70 L444.16,164.69 L444.49,164.69 L444.81,164.69 L445.14,164.69 L445.47,164.69 L445.79,164.68 L446.12,164.68 L446.45,164.68 L446.78,164.67 L447.10,164.67 L447.43,164.66 L447.76,164.65 L448.08,164.64 L448.41,164.63 L448.74,164.62 L449.06,164.60 L449.39,164.58 L449.72,164.56 L450.05,164.53 L450.37,164.51 L450.70,164.47 L451.03,164.43 L451.35,164.39 L451.68,164.33 L452.01,164.27 L452.33,164.20 L452.66,164.13 L452.99,164.03 L453.32,163.93 L453.64,163.81 L453.97,163.68 L454.30,163.53 L454.62,163.36 L454.95,163.17 L455.28,162.95 L455.61,162.71 L455.93,162.44 L456.26,162.14 L456.59,161.80 L456.91,161.43 L457.24,161.02 L457.57,160.56 L457.89,160.06 L458.22,159.51 L458.55,158.90 L458.88,158.24 L459.20,157.51 L459.53,156.72 L459.86,155.87 L460.18,154.94 L460.51,153.94 L460.84,152.86 L461.16,151.70 L461.49,150.46 L461.82,149.13 L462.15,147.72 L462.47,146.21 L462.80,144.61 L463.13,142.93 L463.45,141.15 L463.78,139.28 L464.11,137.31 L464.44,135.26 L464.76,133.13 L465.09,130.91 L465.42,128.61 L465.74,126.23 L466.07,123.79 L466.40,121.28 L466.72,118.72 L467.05,116.11 L467.38,113.46 L467.71,110.78 L468.03,108.08 L468.36,105.37 L468.69,102.67 L469.01,99.97 L469.34,97.31 L469.67,94.68 L469.99,92.10 L470.32,89.59 L470.65,87.16 L470.98,84.82 L471.30,82.58 L471.63,80.45 L471.96,78.46 L472.28,76.61 L472.61,74.90 L472.94,73.36 L473.27,71.99 L473.59,70.79 L473.92,69.79 L474.25,68.97 L474.57,68.36 L474.90,67.94 L475.23,67.73 L475.55,67.72 L475.88,67.92 L476.21,68.33 L476.54,68.93 L476.86,69.74 L477.19,70.73 L477.52,71.92 L477.84,73.28 L478.17,74.81 L478.50,76.51 L478.82,78.35 L479.15,80.34 L479.48,82.46 L479.81,84.69 L480.13,87.03 L480.46,89.46 L480.79,91.96 L481.11,94.53 L481.44,97.16 L481.77,99.82 L482.10,102.52 L482.42,105.22 L482.75,107.93 L483.08,110.63 L483.40,113.31 L483.73,115.97 L484.06,118.58 L484.38,121.14 L484.71,123.65 L485.04,126.10 L485.37,128.48 L485.69,130.78 L486.02,133.01 L486.35,135.15 L486.67,137.20 L487.00,139.17 L487.33,141.05 L487.65,142.83 L487.98,144.52 L488.31,146.12 L488.64,147.64 L488.96,149.06 L489.29,150.39 L489.62,151.64 L489.94,152.80 L490.27,153.88 L490.60,154.89 L490.93,155.82 L491.25,156.68 L491.58,157.47 L491.91,158.20 L492.23,158.86 L492.56,159.47 L492.89,160.03 L493.21,160.53 L493.54,160.99 L493.87,161.41 L494.20,161.78 L494.52,162.12 L494.85,162.42 L495.18,162.70 L495.50,162.94 L495.83,163.16 L496.16,163.35 L496.48,163.52 L496.81,163.67 L497.14,163.81 L497.47,163.92 L497.79,164.03 L498.12,164.12 L498.45,164.20 L498.77,164.27 L499.10,164.33 L499.43,164.38 L499.76,164.43 L500.08,164.47 L500.41,164.50 L500.74,164.53 L501.06,164.56 L501.39,164.58 L501.72,164.60 L502.04,164.62 L502.37,164.63 L502.70,164.64 L503.03,164.65 L503.35,164.66 L503.68,164.67 L504.01,164.67 L504.33,164.68 L504.66,164.68 L504.99,164.68 L505.32,164.69 L505.64,164.69 L505.97,164.69 L506.30,164.69 L506.62,164.69 L506.95,164.70 L507.28,164.70 L507.60,164.70 L507.93,164.70 L508.26,164.70 L508.59,164.70 L508.91,164.70 L509.24,164.70 L509.57,164.70 L509.89,164.70 L510.22,164.70 L510.55,164.70 L510.87,164.70 L511.20,164.70 L511.53,164.70 L511.86,164.70 L512.18,164.70 L512.51,164.70 L512.84,164.70 L513.16,164.70 L513.49,164.70 L513.82,164.70 L514.15,164.70 L514.47,164.70 L514.80,164.70 L515.13,164.70 L515.45,164.70 L515.78,164.70 L516.11,164.70 L516.43,164.70 L516.76,164.70 L517.09,164.70 L517.42,164.70 L517.74,164.70 L518.07,164.70 L518.40,164.70 L518.72,164.70 L519.05,164.70 L519.38,164.70 L519.70,164.70 L520.03,164.70 L520.36,164.70 L520.69,164.70 L521.01,164.70 L521.34,164.70 L521.67,164.70 L521.99,164.70 L522.32,164.70 L522.65,164.70 L522.98,164.70 L523.30,164.70 L523.63,164.70 L523.96,164.70 L524.28,164.70 L524.61,164.70 L524.94,164.70 L525.26,164.70 L525.59,164.70 L525.92,164.70 L526.25,164.70 L526.57,164.70 L526.90,164.70 L527.23,164.70 L527.55,164.70 L527.88,164.70 L528.21,164.70 L528.53,164.70 L528.86,164.70 L529.19,164.70 L529.52,164.70 L529.84,164.70 L530.17,164.70 L530.50,164.70 L530.82,164.70 L531.15,164.70 L531.48,164.70 L531.81,164.70 L532.13,164.70 L532.46,164.70 L532.79,164.70 L533.11,164.70 L533.44,164.70 L533.77,164.70 L534.09,164.70 L534.42,164.70 L534.75,164.70 L535.08,164.70 L535.40,164.70 L535.73,164.70 L536.06,164.70 L536.38,164.70 L536.71,164.70 L537.04,164.70 L537.36,164.70 L537.69,164.70 L538.02,164.70 L538.35,164.70 L538.67,164.70 L539.00,164.70" fill="none" stroke="#ff20ff" stroke-width="1.5" stroke-linejoin="round" />
<rect x="309.6" y="1.7" width="230.19999999999993" height="184.65" fill="none" stroke="#2b2b2b" stroke-width="1.6"/>
<line x1="309.80" y1="186.35" x2="309.80" y2="182.85" stroke="#2b2b2b" stroke-width="1.3"/>
<text x="309.80" y="199.10" font-size="10.8" text-anchor="middle" >480</text>
<line x1="321.91" y1="186.35" x2="321.91" y2="184.54999999999998" stroke="#2b2b2b" stroke-width="1.3"/>
<line x1="334.02" y1="186.35" x2="334.02" y2="182.85" stroke="#2b2b2b" stroke-width="1.3"/>
<text x="334.02" y="199.10" font-size="10.8" text-anchor="middle" >482</text>
<line x1="346.13" y1="186.35" x2="346.13" y2="184.54999999999998" stroke="#2b2b2b" stroke-width="1.3"/>
<line x1="358.24" y1="186.35" x2="358.24" y2="182.85" stroke="#2b2b2b" stroke-width="1.3"/>
<text x="358.24" y="199.10" font-size="10.8" text-anchor="middle" >484</text>
<line x1="370.35" y1="186.35" x2="370.35" y2="184.54999999999998" stroke="#2b2b2b" stroke-width="1.3"/>
<line x1="382.46" y1="186.35" x2="382.46" y2="182.85" stroke="#2b2b2b" stroke-width="1.3"/>
<text x="382.46" y="199.10" font-size="10.8" text-anchor="middle" >486</text>
<line x1="394.57" y1="186.35" x2="394.57" y2="184.54999999999998" stroke="#2b2b2b" stroke-width="1.3"/>
<line x1="406.68" y1="186.35" x2="406.68" y2="182.85" stroke="#2b2b2b" stroke-width="1.3"/>
<text x="406.68" y="199.10" font-size="10.8" text-anchor="middle" >488</text>
<line x1="418.79" y1="186.35" x2="418.79" y2="184.54999999999998" stroke="#2b2b2b" stroke-width="1.3"/>
<line x1="430.90" y1="186.35" x2="430.90" y2="182.85" stroke="#2b2b2b" stroke-width="1.3"/>
<text x="430.90" y="199.10" font-size="10.8" text-anchor="middle" >490</text>
<line x1="443.01" y1="186.35" x2="443.01" y2="184.54999999999998" stroke="#2b2b2b" stroke-width="1.3"/>
<line x1="455.12" y1="186.35" x2="455.12" y2="182.85" stroke="#2b2b2b" stroke-width="1.3"/>
<text x="455.12" y="199.10" font-size="10.8" text-anchor="middle" >492</text>
<line x1="467.23" y1="186.35" x2="467.23" y2="184.54999999999998" stroke="#2b2b2b" stroke-width="1.3"/>
<line x1="479.34" y1="186.35" x2="479.34" y2="182.85" stroke="#2b2b2b" stroke-width="1.3"/>
<text x="479.34" y="199.10" font-size="10.8" text-anchor="middle" >494</text>
<line x1="491.45" y1="186.35" x2="491.45" y2="184.54999999999998" stroke="#2b2b2b" stroke-width="1.3"/>
<line x1="503.56" y1="186.35" x2="503.56" y2="182.85" stroke="#2b2b2b" stroke-width="1.3"/>
<text x="503.56" y="199.10" font-size="10.8" text-anchor="middle" >496</text>
<line x1="515.67" y1="186.35" x2="515.67" y2="184.54999999999998" stroke="#2b2b2b" stroke-width="1.3"/>
<line x1="527.78" y1="186.35" x2="527.78" y2="182.85" stroke="#2b2b2b" stroke-width="1.3"/>
<text x="527.78" y="199.10" font-size="10.8" text-anchor="middle" >498</text>
<line x1="539.89" y1="186.35" x2="539.89" y2="184.54999999999998" stroke="#2b2b2b" stroke-width="1.3"/>
<text x="424.60" y="219.80" font-size="14.5" text-anchor="middle" >Binding Energy (eV)</text>
<text x="0" y="0" font-size="15" text-anchor="middle" transform="translate(294.60,99.60) rotate(-90)">Intensity (a.u.)</text>
<text x="329.60" y="24.90" font-size="22" text-anchor="middle" >(b)</text>
<line x1="462.4" y1="12.8" x2="485.8" y2="12.8" stroke="#111" stroke-width="1.4"/>
<text transform="translate(488.0,16.9) scale(0.93,1)" x="0" y="0" font-size="11.4">Exp. Sn 3d</text>
<line x1="462.4" y1="25.9" x2="485.8" y2="25.9" stroke="#ff2020" stroke-width="1.4"/>
<text transform="translate(488.0,30.3) scale(0.93,1)" x="0" y="0" font-size="11.4">Peak Sum</text>
<line x1="462.4" y1="39.3" x2="485.8" y2="39.3" stroke="#2020ff" stroke-width="1.4"/>
<text transform="translate(488.0,43.4) scale(0.93,1)" x="0" y="0" font-size="11.4">Sn 3d</text>
<text x="513.3" y="47.0" font-size="9.3" letter-spacing="0">5/2</text>
<line x1="462.4" y1="57.0" x2="485.8" y2="57.0" stroke="#ff20ff" stroke-width="1.4"/>
<text transform="translate(488.0,60.6) scale(0.93,1)" x="0" y="0" font-size="11.4">Sn 3d</text>
<text x="513.3" y="65.0" font-size="9.3" letter-spacing="0">3/2</text>
<path d="M31.30,396.97 L31.45,399.28 L31.60,394.72 L31.75,389.83 L31.90,393.23 L32.05,388.98 L32.20,397.19 L32.35,407.16 L32.50,392.79 L32.65,391.76 L32.80,400.37 L32.95,399.29 L33.10,397.29 L33.25,389.21 L33.40,396.16 L33.55,401.72 L33.70,385.92 L33.85,392.73 L34.00,381.58 L34.15,386.26 L34.30,381.99 L34.45,394.29 L34.60,386.35 L34.75,398.08 L34.90,397.16 L35.05,394.49 L35.20,376.72 L35.35,391.74 L35.50,395.42 L35.65,396.60 L35.80,384.13 L35.95,392.05 L36.10,388.23 L36.25,389.48 L36.40,403.50 L36.55,389.42 L36.70,395.19 L36.85,402.01 L37.00,390.98 L37.15,394.47 L37.30,396.08 L37.45,395.69 L37.60,386.07 L37.75,395.69 L37.90,405.14 L38.05,383.59 L38.20,401.33 L38.35,395.82 L38.50,390.17 L38.65,409.56 L38.80,400.40 L38.95,385.97 L39.10,395.26 L39.25,398.88 L39.40,393.24 L39.55,399.55 L39.70,394.05 L39.85,399.33 L40.00,404.87 L40.15,389.50 L40.30,395.81 L40.45,390.96 L40.60,395.17 L40.75,385.67 L40.90,390.00 L41.05,392.71 L41.20,400.50 L41.35,402.21 L41.50,384.53 L41.65,388.26 L41.80,398.48 L41.95,379.68 L42.10,390.50 L42.25,393.05 L42.40,402.58 L42.55,398.51 L42.70,391.29 L42.85,390.96 L43.00,391.75 L43.15,404.14 L43.30,390.42 L43.45,391.24 L43.60,395.78 L43.75,392.43 L43.90,391.85 L44.05,385.44 L44.20,393.05 L44.35,390.01 L44.50,401.10 L44.65,397.49 L44.80,392.77 L44.95,397.49 L45.10,390.51 L45.25,400.01 L45.40,392.71 L45.55,396.68 L45.70,383.84 L45.85,394.96 L46.00,381.07 L46.15,378.68 L46.30,390.39 L46.45,386.31 L46.60,393.46 L46.75,407.43 L46.90,386.65 L47.05,388.00 L47.20,393.52 L47.35,395.39 L47.50,390.86 L47.65,390.61 L47.80,396.61 L47.95,395.33 L48.10,384.96 L48.25,391.24 L48.40,391.95 L48.55,384.69 L48.70,393.32 L48.85,385.90 L49.00,397.88 L49.15,392.70 L49.30,391.96 L49.45,387.45 L49.60,390.49 L49.75,378.18 L49.90,383.78 L50.05,393.45 L50.20,377.23 L50.35,396.45 L50.50,379.63 L50.65,395.73 L50.80,385.34 L50.95,395.74 L51.10,391.51 L51.25,380.76 L51.40,398.54 L51.55,399.69 L51.70,390.00 L51.85,388.61 L52.00,389.28 L52.15,384.04 L52.30,397.12 L52.45,386.67 L52.60,389.71 L52.75,384.97 L52.90,385.97 L53.05,381.81 L53.20,397.66 L53.35,388.74 L53.50,395.68 L53.65,389.65 L53.80,385.18 L53.95,387.40 L54.10,385.89 L54.25,389.34 L54.40,386.90 L54.55,387.30 L54.70,380.58 L54.85,384.04 L55.00,399.12 L55.15,384.74 L55.30,382.33 L55.45,390.78 L55.60,397.25 L55.75,379.70 L55.90,387.22 L56.05,384.57 L56.20,377.65 L56.35,392.72 L56.50,388.04 L56.65,388.54 L56.80,383.49 L56.95,390.69 L57.10,384.62 L57.25,386.93 L57.40,381.06 L57.55,380.34 L57.70,395.51 L57.85,384.43 L58.00,389.10 L58.15,387.08 L58.30,384.57 L58.45,384.09 L58.60,390.74 L58.75,385.14 L58.90,385.95 L59.05,386.88 L59.20,393.57 L59.35,390.56 L59.50,388.71 L59.65,383.08 L59.80,378.22 L59.95,391.72 L60.10,391.71 L60.25,385.18 L60.40,389.03 L60.55,390.31 L60.70,390.49 L60.85,390.90 L61.00,382.87 L61.15,394.08 L61.30,378.13 L61.45,390.10 L61.60,387.89 L61.75,389.94 L61.90,395.54 L62.05,393.16 L62.20,378.13 L62.35,374.95 L62.50,389.00 L62.65,378.55 L62.80,384.09 L62.95,388.75 L63.10,374.71 L63.25,372.00 L63.40,385.12 L63.55,383.79 L63.70,382.05 L63.85,383.51 L64.00,378.40 L64.15,374.67 L64.30,381.98 L64.45,377.42 L64.60,373.61 L64.75,385.26 L64.90,382.02 L65.05,384.43 L65.20,376.67 L65.35,378.31 L65.50,376.30 L65.65,376.73 L65.80,382.38 L65.95,376.91 L66.10,382.81 L66.25,382.50 L66.40,391.27 L66.55,372.80 L66.70,384.70 L66.85,379.27 L67.00,379.42 L67.15,371.59 L67.30,376.57 L67.45,382.63 L67.60,378.04 L67.75,378.64 L67.90,376.44 L68.05,383.69 L68.20,377.33 L68.35,365.82 L68.50,373.36 L68.65,366.57 L68.80,359.78 L68.95,373.47 L69.10,382.71 L69.25,375.90 L69.40,369.47 L69.55,370.40 L69.70,380.57 L69.85,375.40 L70.00,374.58 L70.15,373.81 L70.30,373.99 L70.45,377.51 L70.60,375.98 L70.75,374.03 L70.90,367.60 L71.05,374.90 L71.20,368.82 L71.35,377.13 L71.50,365.47 L71.65,370.63 L71.80,370.96 L71.95,364.46 L72.10,378.51 L72.25,376.95 L72.40,367.70 L72.55,373.12 L72.70,371.01 L72.85,357.08 L73.00,369.82 L73.15,368.13 L73.30,368.48 L73.45,363.05 L73.60,366.35 L73.75,366.46 L73.90,372.11 L74.05,368.11 L74.20,366.35 L74.35,372.59 L74.50,363.45 L74.65,363.87 L74.80,357.66 L74.95,371.40 L75.10,368.58 L75.25,368.07 L75.40,366.74 L75.55,364.18 L75.70,364.30 L75.85,362.14 L76.00,362.04 L76.15,362.74 L76.30,368.08 L76.45,364.05 L76.60,361.37 L76.75,359.08 L76.90,358.57 L77.05,366.65 L77.20,362.20 L77.35,360.23 L77.50,358.37 L77.65,355.25 L77.80,358.73 L77.95,361.80 L78.10,356.86 L78.25,357.10 L78.40,356.77 L78.55,357.58 L78.70,351.16 L78.85,355.61 L79.00,353.05 L79.15,358.81 L79.30,352.60 L79.45,356.95 L79.60,359.87 L79.75,353.04 L79.90,351.64 L80.05,354.02 L80.20,352.94 L80.35,349.06 L80.50,353.75 L80.65,358.79 L80.80,350.40 L80.95,350.18 L81.10,346.80 L81.25,351.17 L81.40,345.22 L81.55,345.28 L81.70,353.28 L81.85,345.12 L82.00,351.72 L82.15,352.86 L82.30,347.92 L82.45,348.52 L82.60,353.08 L82.75,344.92 L82.90,343.03 L83.05,339.81 L83.20,344.36 L83.35,349.09 L83.50,346.73 L83.65,339.30 L83.80,339.10 L83.95,339.87 L84.10,342.28 L84.25,339.91 L84.40,340.93 L84.55,340.70 L84.70,337.93 L84.85,338.34 L85.00,338.70 L85.15,337.03 L85.30,338.67 L85.45,343.29 L85.60,337.84 L85.75,335.19 L85.90,327.88 L86.05,335.23 L86.20,325.56 L86.35,326.98 L86.50,335.14 L86.65,333.91 L86.80,329.87 L86.95,323.02 L87.10,327.59 L87.25,325.64 L87.40,330.14 L87.55,335.90 L87.70,326.98 L87.85,322.21 L88.00,319.86 L88.15,323.61 L88.30,322.35 L88.45,317.60 L88.60,322.03 L88.75,316.05 L88.90,324.65 L89.05,323.71 L89.20,323.09 L89.35,315.86 L89.50,319.27 L89.65,315.83 L89.80,314.02 L89.95,313.51 L90.10,308.71 L90.25,307.36 L90.40,316.19 L90.55,311.26 L90.70,312.30 L90.85,314.97 L91.00,302.44 L91.15,305.82 L91.30,309.27 L91.45,309.50 L91.60,305.43 L91.75,310.86 L91.90,306.56 L92.05,299.58 L92.20,300.09 L92.35,307.03 L92.50,304.79 L92.65,293.59 L92.80,307.26 L92.95,303.20 L93.10,305.79 L93.25,297.34 L93.40,296.99 L93.55,292.52 L93.70,308.17 L93.85,295.27 L94.00,302.42 L94.15,291.62 L94.30,294.50 L94.45,285.48 L94.60,290.49 L94.75,295.84 L94.90,284.95 L95.05,294.57 L95.20,290.41 L95.35,283.33 L95.50,284.92 L95.65,284.26 L95.80,285.27 L95.95,282.26 L96.10,280.15 L96.25,281.74 L96.40,277.76 L96.55,275.88 L96.70,280.82 L96.85,284.42 L97.00,272.98 L97.15,279.30 L97.30,275.80 L97.45,273.78 L97.60,281.48 L97.75,274.80 L97.90,283.39 L98.05,272.68 L98.20,277.49 L98.35,274.32 L98.50,271.58 L98.65,277.28 L98.80,273.64 L98.95,276.79 L99.10,273.64 L99.25,268.75 L99.40,272.95 L99.55,273.44 L99.70,277.31 L99.85,268.71 L100.00,272.42 L100.15,264.67 L100.30,275.17 L100.45,267.21 L100.60,263.80 L100.75,271.52 L100.90,276.64 L101.05,264.70 L101.20,266.57 L101.35,268.05 L101.50,266.26 L101.65,273.02 L101.80,267.67 L101.95,268.08 L102.10,274.03 L102.25,268.14 L102.40,273.68 L102.55,267.61 L102.70,266.81 L102.85,264.32 L103.00,281.36 L103.15,271.91 L103.30,274.88 L103.45,274.07 L103.60,275.39 L103.75,275.35 L103.90,284.25 L104.05,271.32 L104.20,269.41 L104.35,272.38 L104.50,271.41 L104.65,281.47 L104.80,282.37 L104.95,274.76 L105.10,273.37 L105.25,278.75 L105.40,287.44 L105.55,268.56 L105.70,284.71 L105.85,277.90 L106.00,288.41 L106.15,279.16 L106.30,283.53 L106.45,278.46 L106.60,281.62 L106.75,293.47 L106.90,291.50 L107.05,286.41 L107.20,284.87 L107.35,280.68 L107.50,288.54 L107.65,290.98 L107.80,291.42 L107.95,292.06 L108.10,287.78 L108.25,293.58 L108.40,294.42 L108.55,301.61 L108.70,305.17 L108.85,296.09 L109.00,293.72 L109.15,297.90 L109.30,295.95 L109.45,296.01 L109.60,300.13 L109.75,295.95 L109.90,304.90 L110.05,302.08 L110.20,304.58 L110.35,303.12 L110.50,301.08 L110.65,300.66 L110.80,304.94 L110.95,304.04 L111.10,308.70 L111.25,308.14 L111.40,301.81 L111.55,309.81 L111.70,303.14 L111.85,307.52 L112.00,309.82 L112.15,301.09 L112.30,313.08 L112.45,314.01 L112.60,312.99 L112.75,312.18 L112.90,313.05 L113.05,310.41 L113.20,314.81 L113.35,313.88 L113.50,317.97 L113.65,311.48 L113.80,319.96 L113.95,320.04 L114.10,319.05 L114.25,317.96 L114.40,324.08 L114.55,312.18 L114.70,324.71 L114.85,324.04 L115.00,324.83 L115.15,325.95 L115.30,320.54 L115.45,323.34 L115.60,329.08 L115.75,328.42 L115.90,327.66 L116.05,318.07 L116.20,330.68 L116.35,334.96 L116.50,334.55 L116.65,330.46 L116.80,320.22 L116.95,335.76 L117.10,329.69 L117.25,315.70 L117.40,333.88 L117.55,322.95 L117.70,324.60 L117.85,329.14 L118.00,341.40 L118.15,331.71 L118.30,336.17 L118.45,345.87 L118.60,345.41 L118.75,335.23 L118.90,334.82 L119.05,328.83 L119.20,332.84 L119.35,340.39 L119.50,340.65 L119.65,339.27 L119.80,345.36 L119.95,334.48 L120.10,339.50 L120.25,344.98 L120.40,344.46 L120.55,348.02 L120.70,344.08 L120.85,339.91 L121.00,344.66 L121.15,336.20 L121.30,332.45 L121.45,347.23 L121.60,343.47 L121.75,346.19 L121.90,333.51 L122.05,342.51 L122.20,341.32 L122.35,339.94 L122.50,331.23 L122.65,344.04 L122.80,352.36 L122.95,349.32 L123.10,343.25 L123.25,347.35 L123.40,352.63 L123.55,330.11 L123.70,347.45 L123.85,352.02 L124.00,353.15 L124.15,359.94 L124.30,356.47 L124.45,351.33 L124.60,351.42 L124.75,354.68 L124.90,346.27 L125.05,349.62 L125.20,355.82 L125.35,362.68 L125.50,349.22 L125.65,350.04 L125.80,351.72 L125.95,359.14 L126.10,350.46 L126.25,360.11 L126.40,344.68 L126.55,349.73 L126.70,349.74 L126.85,356.06 L127.00,357.77 L127.15,341.67 L127.30,345.50 L127.45,353.47 L127.60,347.25 L127.75,341.88 L127.90,358.04 L128.05,354.66 L128.20,354.70 L128.35,348.68 L128.50,358.13 L128.65,350.24 L128.80,358.61 L128.95,346.14 L129.10,346.53 L129.25,353.14 L129.40,347.55 L129.55,356.11 L129.70,353.56 L129.85,346.28 L130.00,352.45 L130.15,349.86 L130.30,357.67 L130.45,348.18 L130.60,349.39 L130.75,359.53 L130.90,365.83 L131.05,364.37 L131.20,352.56 L131.35,353.53 L131.50,361.55 L131.65,351.48 L131.80,346.32 L131.95,352.98 L132.10,355.02 L132.25,347.28 L132.40,342.35 L132.55,343.64 L132.70,356.36 L132.85,347.77 L133.00,351.50 L133.15,353.64 L133.30,356.09 L133.45,350.35 L133.60,355.37 L133.75,347.01 L133.90,350.18 L134.05,346.20 L134.20,359.14 L134.35,352.16 L134.50,347.87 L134.65,350.18 L134.80,350.94 L134.95,356.45 L135.10,342.64 L135.25,345.96 L135.40,349.88 L135.55,367.31 L135.70,357.81 L135.85,351.36 L136.00,356.25 L136.15,364.27 L136.30,350.46 L136.45,349.60 L136.60,359.02 L136.75,354.65 L136.90,355.65 L137.05,348.49 L137.20,363.04 L137.35,361.68 L137.50,354.74 L137.65,355.37 L137.80,338.99 L137.95,354.94 L138.10,349.86 L138.25,353.55 L138.40,354.96 L138.55,348.71 L138.70,340.48 L138.85,352.78 L139.00,345.99 L139.15,348.37 L139.30,346.60 L139.45,348.08 L139.60,336.08 L139.75,357.26 L139.90,351.32 L140.05,356.39 L140.20,361.52 L140.35,349.57 L140.50,338.40 L140.65,343.78 L140.80,341.75 L140.95,345.90 L141.10,349.30 L141.25,336.55 L141.40,350.65 L141.55,339.28 L141.70,350.13 L141.85,347.54 L142.00,346.18 L142.15,347.52 L142.30,344.57 L142.45,344.01 L142.60,337.38 L142.75,347.34 L142.90,358.67 L143.05,359.39 L143.20,355.28 L143.35,351.42 L143.50,342.88 L143.65,355.75 L143.80,346.50 L143.95,346.34 L144.10,344.90 L144.25,347.17 L144.40,343.87 L144.55,345.97 L144.70,339.76 L144.85,344.07 L145.00,360.33 L145.15,345.83 L145.30,344.73 L145.45,349.43 L145.60,350.46 L145.75,339.18 L145.90,344.72 L146.05,351.61 L146.20,347.56 L146.35,346.59 L146.50,355.40 L146.65,341.54 L146.80,346.20 L146.95,342.41 L147.10,354.83 L147.25,333.41 L147.40,341.32 L147.55,342.14 L147.70,349.51 L147.85,349.11 L148.00,353.98 L148.15,335.43 L148.30,349.88 L148.45,343.32 L148.60,340.95 L148.75,348.44 L148.90,339.27 L149.05,331.99 L149.20,342.63 L149.35,335.52 L149.50,340.80 L149.65,347.16 L149.80,346.75 L149.95,354.73 L150.10,343.47 L150.25,335.05 L150.40,339.90 L150.55,338.82 L150.70,336.90 L150.85,347.28 L151.00,340.41 L151.15,331.95 L151.30,348.79 L151.45,343.64 L151.60,346.55 L151.75,344.91 L151.90,348.19 L152.05,344.37 L152.20,351.91 L152.35,346.71 L152.50,346.45 L152.65,346.50 L152.80,334.58 L152.95,342.73 L153.10,342.07 L153.25,344.98 L153.40,334.93 L153.55,353.95 L153.70,344.13 L153.85,335.67 L154.00,332.42 L154.15,341.48 L154.30,342.64 L154.45,338.55 L154.60,343.67 L154.75,338.91 L154.90,346.49 L155.05,338.24 L155.20,342.58 L155.35,349.05 L155.50,359.23 L155.65,336.18 L155.80,339.62 L155.95,337.15 L156.10,347.55 L156.25,335.06 L156.40,339.29 L156.55,342.18 L156.70,336.03 L156.85,336.13 L157.00,339.20 L157.15,328.68 L157.30,332.88 L157.45,339.53 L157.60,343.14 L157.75,340.96 L157.90,330.67 L158.05,339.14 L158.20,347.31 L158.35,345.74 L158.50,341.64 L158.65,336.40 L158.80,346.26 L158.95,338.43 L159.10,334.62 L159.25,337.03 L159.40,351.67 L159.55,343.73 L159.70,349.87 L159.85,339.27 L160.00,348.53 L160.15,338.57 L160.30,341.51 L160.45,358.77 L160.60,347.64 L160.75,339.45 L160.90,342.22 L161.05,344.97 L161.20,350.80 L161.35,339.80 L161.50,331.71 L161.65,341.32 L161.80,343.32 L161.95,344.02 L162.10,351.98 L162.25,345.54 L162.40,348.87 L162.55,336.46 L162.70,349.41 L162.85,357.53 L163.00,348.99 L163.15,345.69 L163.30,345.14 L163.45,355.93 L163.60,338.28 L163.75,343.72 L163.90,347.57 L164.05,349.54 L164.20,341.91 L164.35,346.90 L164.50,343.18 L164.65,345.91 L164.80,344.37 L164.95,337.87 L165.10,345.33 L165.25,351.34 L165.40,339.36 L165.55,344.25 L165.70,350.31 L165.85,339.05 L166.00,347.40 L166.15,339.36 L166.30,353.90 L166.45,361.77 L166.60,359.99 L166.75,345.38 L166.90,351.82 L167.05,347.87 L167.20,347.87 L167.35,357.52 L167.50,338.77 L167.65,354.53 L167.80,347.39 L167.95,357.12 L168.10,349.20 L168.25,343.66 L168.40,350.05 L168.55,353.20 L168.70,348.71 L168.85,351.82 L169.00,345.28 L169.15,334.77 L169.30,354.92 L169.45,353.72 L169.60,350.20 L169.75,349.80 L169.90,356.32 L170.05,346.57 L170.20,345.04 L170.35,348.58 L170.50,357.82 L170.65,340.89 L170.80,358.08 L170.95,346.08 L171.10,343.14 L171.25,358.89 L171.40,350.02 L171.55,342.17 L171.70,348.52 L171.85,357.19 L172.00,359.04 L172.15,348.42 L172.30,354.06 L172.45,356.22 L172.60,347.32 L172.75,354.07 L172.90,351.61 L173.05,348.38 L173.20,348.78 L173.35,352.60 L173.50,352.47 L173.65,348.62 L173.80,349.65 L173.95,359.99 L174.10,354.12 L174.25,358.69 L174.40,360.90 L174.55,356.92 L174.70,368.23 L174.85,347.71 L175.00,358.69 L175.15,351.28 L175.30,365.86 L175.45,364.93 L175.60,340.66 L175.75,347.31 L175.90,358.30 L176.05,359.22 L176.20,358.95 L176.35,353.65 L176.50,357.25 L176.65,358.65 L176.80,353.86 L176.95,361.32 L177.10,339.45 L177.25,358.87 L177.40,347.81 L177.55,361.22 L177.70,353.36 L177.85,349.04 L178.00,357.57 L178.15,349.06 L178.30,349.14 L178.45,344.84 L178.60,355.24 L178.75,358.84 L178.90,362.45 L179.05,354.74 L179.20,362.80 L179.35,355.99 L179.50,355.33 L179.65,359.89 L179.80,363.24 L179.95,353.94 L180.10,354.68 L180.25,355.33 L180.40,357.06 L180.55,350.55 L180.70,363.58 L180.85,354.09 L181.00,359.97 L181.15,351.41 L181.30,359.46 L181.45,359.77 L181.60,354.40 L181.75,370.90 L181.90,359.91 L182.05,369.45 L182.20,364.04 L182.35,353.23 L182.50,355.21 L182.65,360.80 L182.80,358.37 L182.95,358.38 L183.10,356.21 L183.25,346.05 L183.40,356.80 L183.55,343.47 L183.70,361.00 L183.85,353.70 L184.00,353.86 L184.15,357.29 L184.30,360.69 L184.45,349.29 L184.60,347.24 L184.75,351.93 L184.90,345.44 L185.05,352.78 L185.20,370.12 L185.35,352.34 L185.50,363.95 L185.65,350.38 L185.80,361.74 L185.95,357.65 L186.10,359.48 L186.25,363.81 L186.40,371.91 L186.55,361.44 L186.70,361.04 L186.85,353.70 L187.00,364.29 L187.15,358.76 L187.30,366.12 L187.45,360.28 L187.60,372.41 L187.75,347.30 L187.90,358.78 L188.05,366.81 L188.20,358.55 L188.35,355.62 L188.50,359.25 L188.65,351.77 L188.80,361.98 L188.95,377.75 L189.10,369.05 L189.25,353.84 L189.40,355.50 L189.55,358.73 L189.70,368.33 L189.85,356.01 L190.00,356.95 L190.15,367.68 L190.30,367.59 L190.45,359.25 L190.60,354.25 L190.75,351.37 L190.90,357.18 L191.05,346.84 L191.20,367.09 L191.35,357.78 L191.50,365.36 L191.65,374.81 L191.80,370.13 L191.95,354.41 L192.10,368.15 L192.25,370.15 L192.40,357.27 L192.55,355.91 L192.70,361.67 L192.85,351.58 L193.00,372.47 L193.15,346.20 L193.30,355.05 L193.45,360.76 L193.60,361.09 L193.75,363.79 L193.90,364.54 L194.05,361.28 L194.20,370.49 L194.35,348.27 L194.50,362.83 L194.65,358.01 L194.80,363.79 L194.95,364.42 L195.10,356.76 L195.25,358.63 L195.40,368.40 L195.55,365.42 L195.70,358.45 L195.85,376.96 L196.00,378.82 L196.15,353.22 L196.30,365.24 L196.45,380.27 L196.60,368.57 L196.75,364.77 L196.90,361.88 L197.05,359.64 L197.20,361.90 L197.35,359.63 L197.50,368.46 L197.65,360.71 L197.80,360.44 L197.95,355.29 L198.10,363.15 L198.25,357.44 L198.40,362.31 L198.55,370.65 L198.70,366.07 L198.85,367.04 L199.00,366.05 L199.15,364.05 L199.30,362.81 L199.45,361.60 L199.60,368.88 L199.75,356.37 L199.90,372.88 L200.05,364.01 L200.20,358.71 L200.35,360.50 L200.50,359.24 L200.65,364.95 L200.80,359.00 L200.95,371.67 L201.10,358.61 L201.25,348.49 L201.40,358.99 L201.55,350.32 L201.70,363.73 L201.85,371.22 L202.00,368.44 L202.15,354.96 L202.30,358.89 L202.45,376.19 L202.60,366.28 L202.75,364.16 L202.90,371.33 L203.05,380.85 L203.20,373.01 L203.35,365.16 L203.50,366.64 L203.65,368.44 L203.80,360.10 L203.95,357.08 L204.10,364.66 L204.25,357.88 L204.40,363.92 L204.55,365.01 L204.70,380.29 L204.85,358.61 L205.00,363.58 L205.15,363.31 L205.30,367.42 L205.45,371.59 L205.60,361.15 L205.75,358.92 L205.90,353.37 L206.05,358.25 L206.20,368.21 L206.35,364.90 L206.50,357.70 L206.65,362.10 L206.80,364.87 L206.95,368.10 L207.10,360.66 L207.25,363.02 L207.40,352.38 L207.55,356.94 L207.70,375.79 L207.85,349.93 L208.00,362.54 L208.15,366.35 L208.30,362.34 L208.45,359.42 L208.60,364.52 L208.75,364.93 L208.90,364.43 L209.05,352.25 L209.20,364.04 L209.35,359.25 L209.50,361.37 L209.65,366.67 L209.80,369.51 L209.95,371.28 L210.10,361.84 L210.25,371.52 L210.40,373.25 L210.55,373.03 L210.70,374.78 L210.85,364.37 L211.00,364.21 L211.15,371.03 L211.30,356.16 L211.45,366.91 L211.60,361.91 L211.75,363.04 L211.90,353.74 L212.05,359.56 L212.20,365.51 L212.35,371.73 L212.50,372.45 L212.65,365.21 L212.80,364.50 L212.95,360.18 L213.10,368.60 L213.25,364.21 L213.40,370.05 L213.55,377.88 L213.70,365.79 L213.85,355.86 L214.00,360.23 L214.15,356.21 L214.30,358.02 L214.45,375.07 L214.60,367.78 L214.75,355.93 L214.90,370.75 L215.05,374.92 L215.20,363.93 L215.35,361.82 L215.50,364.16 L215.65,368.42 L215.80,370.88 L215.95,374.60 L216.10,374.84 L216.25,374.69 L216.40,375.93 L216.55,371.20 L216.70,356.32 L216.85,365.88 L217.00,368.93 L217.15,364.23 L217.30,373.06 L217.45,364.45 L217.60,360.64 L217.75,376.78 L217.90,371.52 L218.05,368.52 L218.20,373.36 L218.35,374.31 L218.50,369.43 L218.65,350.43 L218.80,362.58 L218.95,364.10 L219.10,360.54 L219.25,368.61 L219.40,375.40 L219.55,364.02 L219.70,359.63 L219.85,381.16 L220.00,364.33 L220.15,359.04 L220.30,369.06 L220.45,370.37 L220.60,362.70 L220.75,372.90 L220.90,364.24 L221.05,361.30 L221.20,368.82 L221.35,372.87 L221.50,363.34 L221.65,369.93 L221.80,367.07 L221.95,386.94 L222.10,362.94 L222.25,377.20 L222.40,367.45 L222.55,366.97 L222.70,372.77 L222.85,373.97 L223.00,376.53 L223.15,370.17 L223.30,363.88 L223.45,364.33 L223.60,371.48 L223.75,371.99 L223.90,377.57 L224.05,370.94 L224.20,375.33 L224.35,378.46 L224.50,369.29 L224.65,358.09 L224.80,360.20 L224.95,358.47 L225.10,379.09 L225.25,362.53 L225.40,376.70 L225.55,372.33 L225.70,380.04 L225.85,375.22 L226.00,367.73 L226.15,367.09 L226.30,369.05 L226.45,369.69 L226.60,364.91 L226.75,368.33 L226.90,379.52 L227.05,357.02 L227.20,370.38 L227.35,362.48 L227.50,369.95 L227.65,374.41 L227.80,368.33 L227.95,374.01 L228.10,357.96 L228.25,376.33 L228.40,364.72 L228.55,373.08 L228.70,370.12 L228.85,351.32 L229.00,363.78 L229.15,370.45 L229.30,379.54 L229.45,370.95 L229.60,370.78 L229.75,359.44 L229.90,378.81 L230.05,381.39 L230.20,369.32 L230.35,367.66 L230.50,358.17 L230.65,375.21 L230.80,387.60 L230.95,374.13 L231.10,377.87 L231.25,372.98 L231.40,362.63 L231.55,378.44 L231.70,360.98 L231.85,367.96 L232.00,371.32 L232.15,375.45 L232.30,372.30 L232.45,372.13 L232.60,364.34 L232.75,360.78 L232.90,369.99 L233.05,364.76 L233.20,360.72 L233.35,361.03 L233.50,366.33 L233.65,357.09 L233.80,360.55 L233.95,358.62 L234.10,371.00 L234.25,372.56 L234.40,383.46 L234.55,359.65 L234.70,365.24 L234.85,376.09 L235.00,368.44 L235.15,367.71 L235.30,381.58 L235.45,367.68 L235.60,362.14 L235.75,361.07 L235.90,372.34 L236.05,372.15 L236.20,360.77 L236.35,363.42 L236.50,373.79 L236.65,374.10 L236.80,365.82 L236.95,374.45 L237.10,374.13 L237.25,358.14 L237.40,368.17 L237.55,373.14 L237.70,366.44 L237.85,355.82 L238.00,368.46 L238.15,375.52 L238.30,381.18 L238.45,355.56 L238.60,388.25 L238.75,362.84 L238.90,377.04 L239.05,378.94 L239.20,377.26 L239.35,371.62 L239.50,362.72 L239.65,374.91 L239.80,365.81 L239.95,353.54 L240.10,389.95 L240.25,375.56 L240.40,383.13 L240.55,364.60 L240.70,380.80 L240.85,381.67 L241.00,381.46 L241.15,370.77 L241.30,362.77 L241.45,369.78 L241.60,356.04 L241.75,359.48 L241.90,371.73 L242.05,364.40 L242.20,370.06 L242.35,370.48 L242.50,384.40 L242.65,380.14 L242.80,371.05 L242.95,379.63 L243.10,366.14 L243.25,369.20 L243.40,377.74 L243.55,363.13 L243.70,369.74 L243.85,362.69 L244.00,372.54 L244.15,382.91 L244.30,366.72 L244.45,373.43 L244.60,365.83 L244.75,364.17 L244.90,363.63 L245.05,382.03 L245.20,388.28 L245.35,375.52 L245.50,367.39 L245.65,377.14 L245.80,370.11 L245.95,377.92 L246.10,374.49 L246.25,374.48 L246.40,376.77 L246.55,368.73 L246.70,369.98 L246.85,361.04 L247.00,369.84 L247.15,363.20 L247.30,371.99 L247.45,366.49 L247.60,373.79 L247.75,376.25 L247.90,363.50 L248.05,367.71 L248.20,366.87 L248.35,378.50 L248.50,385.13 L248.65,379.33 L248.80,371.17 L248.95,383.65 L249.10,363.30 L249.25,384.01 L249.40,369.29 L249.55,354.78 L249.70,392.08 L249.85,384.78 L250.00,366.93 L250.15,375.23 L250.30,372.65 L250.45,374.87 L250.60,364.04 L250.75,369.60 L250.90,377.54 L251.05,375.91 L251.20,382.67 L251.35,375.03 L251.50,390.69 L251.65,369.65 L251.80,376.41 L251.95,361.48 L252.10,366.09 L252.25,383.91 L252.40,368.31 L252.55,378.50 L252.70,374.46 L252.85,367.73 L253.00,372.57 L253.15,371.46 L253.30,371.68 L253.45,380.28 L253.60,379.62 L253.75,371.16 L253.90,368.92 L254.05,377.16 L254.20,374.55 L254.35,382.38 L254.50,393.66 L254.65,381.16 L254.80,375.11 L254.95,374.18 L255.10,369.47 L255.25,369.14 L255.40,368.49 L255.55,372.72 L255.70,372.52 L255.85,380.66 L256.00,372.76 L256.15,374.17 L256.30,367.11 L256.45,387.00 L256.60,379.12 L256.75,388.05 L256.90,381.18 L257.05,386.01 L257.20,373.95 L257.35,380.68 L257.50,394.53 L257.65,367.22 L257.80,383.93 L257.95,387.58 L258.10,378.71 L258.25,381.13 L258.40,384.73 L258.55,371.16 L258.70,378.75 L258.85,369.67 L259.00,371.05 L259.15,371.48 L259.30,374.87 L259.45,376.95 L259.60,379.15" fill="none" stroke="#111" stroke-width="1.2" stroke-linejoin="round" />
<path d="M31.50,391.13 L31.75,391.10 L32.01,391.07 L32.26,391.04 L32.51,391.00 L32.77,390.97 L33.02,390.94 L33.28,390.90 L33.53,390.87 L33.78,390.83 L34.04,390.80 L34.29,390.76 L34.54,390.73 L34.80,390.69 L35.05,390.65 L35.30,390.61 L35.56,390.57 L35.81,390.54 L36.07,390.50 L36.32,390.46 L36.57,390.42 L36.83,390.37 L37.08,390.33 L37.33,390.29 L37.59,390.25 L37.84,390.21 L38.09,390.16 L38.35,390.12 L38.60,390.08 L38.85,390.03 L39.11,389.99 L39.36,389.95 L39.62,389.90 L39.87,389.86 L40.12,389.81 L40.38,389.76 L40.63,389.72 L40.88,389.67 L41.14,389.62 L41.39,389.58 L41.64,389.53 L41.90,389.48 L42.15,389.43 L42.41,389.39 L42.66,389.34 L42.91,389.29 L43.17,389.24 L43.42,389.19 L43.67,389.14 L43.93,389.09 L44.18,389.04 L44.43,388.99 L44.69,388.94 L44.94,388.89 L45.20,388.84 L45.45,388.78 L45.70,388.73 L45.96,388.67 L46.21,388.62 L46.46,388.56 L46.72,388.51 L46.97,388.45 L47.22,388.39 L47.48,388.34 L47.73,388.28 L47.98,388.22 L48.24,388.16 L48.49,388.09 L48.75,388.03 L49.00,387.97 L49.25,387.90 L49.51,387.84 L49.76,387.77 L50.01,387.70 L50.27,387.63 L50.52,387.56 L50.77,387.49 L51.03,387.42 L51.28,387.34 L51.54,387.27 L51.79,387.19 L52.04,387.11 L52.30,387.03 L52.55,386.95 L52.80,386.87 L53.06,386.78 L53.31,386.70 L53.56,386.61 L53.82,386.52 L54.07,386.43 L54.33,386.34 L54.58,386.25 L54.83,386.15 L55.09,386.05 L55.34,385.95 L55.59,385.85 L55.85,385.75 L56.10,385.64 L56.35,385.53 L56.61,385.42 L56.86,385.30 L57.12,385.19 L57.37,385.07 L57.62,384.94 L57.88,384.82 L58.13,384.69 L58.38,384.56 L58.64,384.43 L58.89,384.29 L59.14,384.15 L59.40,384.01 L59.65,383.86 L59.90,383.71 L60.16,383.56 L60.41,383.40 L60.67,383.24 L60.92,383.08 L61.17,382.91 L61.43,382.74 L61.68,382.57 L61.93,382.39 L62.19,382.21 L62.44,382.02 L62.69,381.83 L62.95,381.64 L63.20,381.44 L63.46,381.24 L63.71,381.03 L63.96,380.82 L64.22,380.60 L64.47,380.38 L64.72,380.16 L64.98,379.93 L65.23,379.67 L65.48,379.38 L65.74,379.07 L65.99,378.72 L66.25,378.36 L66.50,377.98 L66.75,377.58 L67.01,377.16 L67.26,376.74 L67.51,376.31 L67.77,375.88 L68.02,375.44 L68.27,375.01 L68.53,374.59 L68.78,374.17 L69.04,373.74 L69.29,373.31 L69.54,372.88 L69.80,372.43 L70.05,371.98 L70.30,371.53 L70.56,371.07 L70.81,370.60 L71.06,370.13 L71.32,369.66 L71.57,369.18 L71.82,368.71 L72.08,368.22 L72.33,367.74 L72.59,367.26 L72.84,366.77 L73.09,366.29 L73.35,365.80 L73.60,365.32 L73.85,364.83 L74.11,364.35 L74.36,363.87 L74.61,363.38 L74.87,362.90 L75.12,362.41 L75.38,361.91 L75.63,361.42 L75.88,360.91 L76.14,360.41 L76.39,359.89 L76.64,359.37 L76.90,358.84 L77.15,358.30 L77.40,357.75 L77.66,357.19 L77.91,356.62 L78.17,356.04 L78.42,355.44 L78.67,354.83 L78.93,354.21 L79.18,353.58 L79.43,352.94 L79.69,352.29 L79.94,351.64 L80.19,350.98 L80.45,350.31 L80.70,349.65 L80.95,348.98 L81.21,348.31 L81.46,347.65 L81.72,346.98 L81.97,346.31 L82.22,345.63 L82.48,344.95 L82.73,344.26 L82.98,343.55 L83.24,342.84 L83.49,342.12 L83.74,341.37 L84.00,340.62 L84.25,339.84 L84.51,339.04 L84.76,338.23 L85.01,337.40 L85.27,336.55 L85.52,335.68 L85.77,334.79 L86.03,333.87 L86.28,332.93 L86.53,331.97 L86.79,330.96 L87.04,329.92 L87.30,328.83 L87.55,327.72 L87.80,326.59 L88.06,325.44 L88.31,324.29 L88.56,323.14 L88.82,321.99 L89.07,320.87 L89.32,319.76 L89.58,318.66 L89.83,317.57 L90.09,316.48 L90.34,315.39 L90.59,314.30 L90.85,313.20 L91.10,312.11 L91.35,311.00 L91.61,309.89 L91.86,308.78 L92.11,307.65 L92.37,306.52 L92.62,305.39 L92.87,304.26 L93.13,303.12 L93.38,301.97 L93.64,300.81 L93.89,299.65 L94.14,298.47 L94.40,297.29 L94.65,296.08 L94.90,294.80 L95.16,293.47 L95.41,292.12 L95.66,290.77 L95.92,289.46 L96.17,288.20 L96.43,287.03 L96.68,285.96 L96.93,285.01 L97.19,284.09 L97.44,283.18 L97.69,282.31 L97.95,281.50 L98.20,280.75 L98.45,280.08 L98.71,279.52 L98.96,279.06 L99.22,278.68 L99.47,278.32 L99.72,277.96 L99.98,277.63 L100.23,277.32 L100.48,277.04 L100.74,276.80 L100.99,276.60 L101.24,276.45 L101.50,276.34 L101.75,276.30 L102.01,276.35 L102.26,276.53 L102.51,276.82 L102.77,277.21 L103.02,277.68 L103.27,278.20 L103.53,278.75 L103.78,279.31 L104.03,279.86 L104.29,280.41 L104.54,281.03 L104.79,281.70 L105.05,282.43 L105.30,283.21 L105.56,284.03 L105.81,284.89 L106.06,285.78 L106.32,286.69 L106.57,287.61 L106.82,288.56 L107.08,289.50 L107.33,290.45 L107.58,291.39 L107.84,292.32 L108.09,293.23 L108.35,294.16 L108.60,295.11 L108.85,296.08 L109.11,297.07 L109.36,298.07 L109.61,299.07 L109.87,300.08 L110.12,301.09 L110.37,302.10 L110.63,303.10 L110.88,304.09 L111.14,305.07 L111.39,306.04 L111.64,307.00 L111.90,307.96 L112.15,308.92 L112.40,309.88 L112.66,310.84 L112.91,311.80 L113.16,312.74 L113.42,313.68 L113.67,314.61 L113.92,315.53 L114.18,316.44 L114.43,317.33 L114.69,318.21 L114.94,319.07 L115.19,319.93 L115.45,320.78 L115.70,321.62 L115.95,322.45 L116.21,323.28 L116.46,324.10 L116.71,324.92 L116.97,325.72 L117.22,326.52 L117.48,327.31 L117.73,328.09 L117.98,328.86 L118.24,329.62 L118.49,330.38 L118.74,331.12 L119.00,331.85 L119.25,332.58 L119.50,333.29 L119.76,334.00 L120.01,334.70 L120.27,335.40 L120.52,336.08 L120.77,336.75 L121.03,337.40 L121.28,338.05 L121.53,338.67 L121.79,339.28 L122.04,339.87 L122.29,340.44 L122.55,341.02 L122.80,341.59 L123.06,342.16 L123.31,342.70 L123.56,343.23 L123.82,343.72 L124.07,344.18 L124.32,344.60 L124.58,344.97 L124.83,345.30 L125.08,345.62 L125.34,345.94 L125.59,346.24 L125.84,346.54 L126.10,346.82 L126.35,347.10 L126.61,347.36 L126.86,347.62 L127.11,347.87 L127.37,348.11 L127.62,348.33 L127.87,348.55 L128.13,348.76 L128.38,348.96 L128.63,349.15 L128.89,349.33 L129.14,349.50 L129.40,349.66 L129.65,349.81 L129.90,349.95 L130.16,350.08 L130.41,350.21 L130.66,350.34 L130.92,350.48 L131.17,350.61 L131.42,350.73 L131.68,350.86 L131.93,350.98 L132.19,351.10 L132.44,351.22 L132.69,351.33 L132.95,351.44 L133.20,351.54 L133.45,351.64 L133.71,351.73 L133.96,351.81 L134.21,351.89 L134.47,351.96 L134.72,352.02 L134.97,352.08 L135.23,352.12 L135.48,352.16 L135.74,352.18 L135.99,352.20 L136.24,352.20 L136.50,352.20 L136.75,352.19 L137.00,352.17 L137.26,352.16 L137.51,352.13 L137.76,352.11 L138.02,352.08 L138.27,352.04 L138.53,352.00 L138.78,351.96 L139.03,351.92 L139.29,351.87 L139.54,351.82 L139.79,351.76 L140.05,351.71 L140.30,351.65 L140.55,351.59 L140.81,351.52 L141.06,351.46 L141.32,351.39 L141.57,351.32 L141.82,351.25 L142.08,351.18 L142.33,351.11 L142.58,351.03 L142.84,350.96 L143.09,350.88 L143.34,350.81 L143.60,350.73 L143.85,350.66 L144.11,350.59 L144.36,350.51 L144.61,350.44 L144.87,350.35 L145.12,350.27 L145.37,350.17 L145.63,350.07 L145.88,349.97 L146.13,349.86 L146.39,349.75 L146.64,349.64 L146.89,349.52 L147.15,349.40 L147.40,349.28 L147.66,349.15 L147.91,349.03 L148.16,348.90 L148.42,348.78 L148.67,348.65 L148.92,348.52 L149.18,348.40 L149.43,348.27 L149.68,348.15 L149.94,348.03 L150.19,347.91 L150.45,347.78 L150.70,347.65 L150.95,347.50 L151.21,347.36 L151.46,347.21 L151.71,347.05 L151.97,346.89 L152.22,346.73 L152.47,346.57 L152.73,346.40 L152.98,346.23 L153.24,346.06 L153.49,345.90 L153.74,345.73 L154.00,345.56 L154.25,345.39 L154.50,345.23 L154.76,345.06 L155.01,344.90 L155.26,344.75 L155.52,344.60 L155.77,344.45 L156.03,344.31 L156.28,344.17 L156.53,344.04 L156.79,343.92 L157.04,343.81 L157.29,343.70 L157.55,343.60 L157.80,343.51 L158.05,343.44 L158.31,343.37 L158.56,343.31 L158.81,343.26 L159.07,343.23 L159.32,343.21 L159.58,343.20 L159.83,343.20 L160.08,343.22 L160.34,343.24 L160.59,343.27 L160.84,343.31 L161.10,343.35 L161.35,343.41 L161.60,343.47 L161.86,343.54 L162.11,343.62 L162.37,343.70 L162.62,343.79 L162.87,343.89 L163.13,343.99 L163.38,344.10 L163.63,344.22 L163.89,344.34 L164.14,344.47 L164.39,344.60 L164.65,344.74 L164.90,344.89 L165.16,345.04 L165.41,345.19 L165.66,345.35 L165.92,345.51 L166.17,345.68 L166.42,345.85 L166.68,346.02 L166.93,346.20 L167.18,346.38 L167.44,346.56 L167.69,346.75 L167.94,346.94 L168.20,347.13 L168.45,347.33 L168.71,347.52 L168.96,347.72 L169.21,347.92 L169.47,348.12 L169.72,348.32 L169.97,348.53 L170.23,348.73 L170.48,348.94 L170.73,349.14 L170.99,349.35 L171.24,349.55 L171.50,349.76 L171.75,349.96 L172.00,350.17 L172.26,350.37 L172.51,350.57 L172.76,350.77 L173.02,350.97 L173.27,351.17 L173.52,351.37 L173.78,351.56 L174.03,351.75 L174.29,351.94 L174.54,352.13 L174.79,352.31 L175.05,352.49 L175.30,352.67 L175.55,352.85 L175.81,353.02 L176.06,353.18 L176.31,353.35 L176.57,353.51 L176.82,353.67 L177.08,353.83 L177.33,353.99 L177.58,354.16 L177.84,354.33 L178.09,354.49 L178.34,354.66 L178.60,354.84 L178.85,355.01 L179.10,355.18 L179.36,355.35 L179.61,355.53 L179.86,355.70 L180.12,355.88 L180.37,356.05 L180.63,356.23 L180.88,356.41 L181.13,356.59 L181.39,356.76 L181.64,356.94 L181.89,357.12 L182.15,357.30 L182.40,357.47 L182.65,357.65 L182.91,357.83 L183.16,358.01 L183.42,358.18 L183.67,358.36 L183.92,358.53 L184.18,358.71 L184.43,358.88 L184.68,359.05 L184.94,359.23 L185.19,359.40 L185.44,359.57 L185.70,359.74 L185.95,359.90 L186.21,360.07 L186.46,360.23 L186.71,360.40 L186.97,360.56 L187.22,360.72 L187.47,360.88 L187.73,361.03 L187.98,361.19 L188.23,361.34 L188.49,361.49 L188.74,361.64 L188.99,361.78 L189.25,361.93 L189.50,362.07 L189.76,362.21 L190.01,362.34 L190.26,362.48 L190.52,362.61 L190.77,362.74 L191.02,362.86 L191.28,362.99 L191.53,363.11 L191.78,363.23 L192.04,363.35 L192.29,363.47 L192.55,363.59 L192.80,363.71 L193.05,363.83 L193.31,363.94 L193.56,364.06 L193.81,364.18 L194.07,364.29 L194.32,364.40 L194.57,364.52 L194.83,364.63 L195.08,364.74 L195.34,364.85 L195.59,364.96 L195.84,365.07 L196.10,365.17 L196.35,365.28 L196.60,365.39 L196.86,365.49 L197.11,365.59 L197.36,365.70 L197.62,365.80 L197.87,365.90 L198.13,366.00 L198.38,366.10 L198.63,366.20 L198.89,366.30 L199.14,366.40 L199.39,366.49 L199.65,366.59 L199.90,366.69 L200.15,366.78 L200.41,366.87 L200.66,366.97 L200.91,367.06 L201.17,367.15 L201.42,367.24 L201.68,367.33 L201.93,367.42 L202.18,367.51 L202.44,367.60 L202.69,367.68 L202.94,367.77 L203.20,367.86 L203.45,367.94 L203.70,368.02 L203.96,368.11 L204.21,368.19 L204.47,368.27 L204.72,368.35 L204.97,368.43 L205.23,368.51 L205.48,368.59 L205.73,368.67 L205.99,368.75 L206.24,368.83 L206.49,368.91 L206.75,368.99 L207.00,369.07 L207.26,369.14 L207.51,369.22 L207.76,369.30 L208.02,369.38 L208.27,369.46 L208.52,369.53 L208.78,369.61 L209.03,369.69 L209.28,369.76 L209.54,369.84 L209.79,369.91 L210.05,369.99 L210.30,370.06 L210.55,370.14 L210.81,370.21 L211.06,370.28 L211.31,370.36 L211.57,370.43 L211.82,370.50 L212.07,370.57 L212.33,370.64 L212.58,370.71 L212.83,370.78 L213.09,370.85 L213.34,370.91 L213.60,370.98 L213.85,371.04 L214.10,371.11 L214.36,371.17 L214.61,371.24 L214.86,371.30 L215.12,371.36 L215.37,371.42 L215.62,371.48 L215.88,371.53 L216.13,371.59 L216.39,371.65 L216.64,371.70 L216.89,371.75 L217.15,371.81 L217.40,371.86 L217.65,371.91 L217.91,371.95 L218.16,372.00 L218.41,372.05 L218.67,372.09 L218.92,372.13 L219.18,372.18 L219.43,372.22 L219.68,372.25 L219.94,372.29 L220.19,372.33 L220.44,372.36 L220.70,372.40 L220.95,372.43 L221.20,372.47 L221.46,372.50 L221.71,372.54 L221.96,372.57 L222.22,372.60 L222.47,372.63 L222.73,372.67 L222.98,372.70 L223.23,372.73 L223.49,372.76 L223.74,372.79 L223.99,372.83 L224.25,372.86 L224.50,372.89 L224.75,372.92 L225.01,372.95 L225.26,372.98 L225.52,373.00 L225.77,373.03 L226.02,373.06 L226.28,373.09 L226.53,373.12 L226.78,373.14 L227.04,373.17 L227.29,373.20 L227.54,373.23 L227.80,373.25 L228.05,373.28 L228.31,373.30 L228.56,373.33 L228.81,373.35 L229.07,373.38 L229.32,373.40 L229.57,373.43 L229.83,373.45 L230.08,373.48 L230.33,373.50 L230.59,373.52 L230.84,373.55 L231.10,373.57 L231.35,373.59 L231.60,373.61 L231.86,373.63 L232.11,373.66 L232.36,373.68 L232.62,373.70 L232.87,373.72 L233.12,373.74 L233.38,373.76 L233.63,373.78 L233.88,373.80 L234.14,373.82 L234.39,373.84 L234.65,373.86 L234.90,373.88 L235.15,373.89 L235.41,373.91 L235.66,373.93 L235.91,373.95 L236.17,373.96 L236.42,373.98 L236.67,374.00 L236.93,374.02 L237.18,374.03 L237.44,374.05 L237.69,374.06 L237.94,374.08 L238.20,374.10 L238.45,374.11 L238.70,374.13 L238.96,374.14 L239.21,374.16 L239.46,374.17 L239.72,374.18 L239.97,374.20 L240.23,374.21 L240.48,374.23 L240.73,374.24 L240.99,374.25 L241.24,374.27 L241.49,374.28 L241.75,374.29 L242.00,374.31 L242.25,374.32 L242.51,374.34 L242.76,374.35 L243.02,374.36 L243.27,374.38 L243.52,374.39 L243.78,374.40 L244.03,374.42 L244.28,374.43 L244.54,374.44 L244.79,374.45 L245.04,374.47 L245.30,374.48 L245.55,374.49 L245.80,374.51 L246.06,374.52 L246.31,374.53 L246.57,374.54 L246.82,374.55 L247.07,374.57 L247.33,374.58 L247.58,374.59 L247.83,374.60 L248.09,374.61 L248.34,374.63 L248.59,374.64 L248.85,374.65 L249.10,374.66 L249.36,374.67 L249.61,374.68 L249.86,374.69 L250.12,374.70 L250.37,374.71 L250.62,374.72 L250.88,374.74 L251.13,374.75 L251.38,374.76 L251.64,374.77 L251.89,374.77 L252.15,374.78 L252.40,374.79 L252.65,374.80 L252.91,374.81 L253.16,374.82 L253.41,374.83 L253.67,374.84 L253.92,374.85 L254.17,374.86 L254.43,374.86 L254.68,374.87 L254.93,374.88 L255.19,374.89 L255.44,374.89 L255.70,374.90 L255.95,374.91 L256.20,374.91 L256.46,374.92 L256.71,374.93 L256.96,374.93 L257.22,374.94 L257.47,374.94 L257.72,374.95 L257.98,374.96 L258.23,374.96 L258.49,374.97 L258.74,374.97 L258.99,374.97 L259.25,374.98 L259.50,374.98" fill="none" stroke="#ff1818" stroke-width="1.6" stroke-linejoin="round" />
<path d="M31.50,392.67 L31.75,392.66 L32.01,392.65 L32.26,392.64 L32.51,392.63 L32.77,392.61 L33.02,392.59 L33.28,392.58 L33.53,392.56 L33.78,392.53 L34.04,392.51 L34.29,392.49 L34.54,392.46 L34.80,392.44 L35.05,392.41 L35.30,392.38 L35.56,392.35 L35.81,392.32 L36.07,392.29 L36.32,392.25 L36.57,392.22 L36.83,392.18 L37.08,392.15 L37.33,392.11 L37.59,392.07 L37.84,392.03 L38.09,391.99 L38.35,391.94 L38.60,391.90 L38.85,391.86 L39.11,391.81 L39.36,391.76 L39.62,391.72 L39.87,391.67 L40.12,391.62 L40.38,391.57 L40.63,391.52 L40.88,391.46 L41.14,391.41 L41.39,391.36 L41.64,391.30 L41.90,391.24 L42.15,391.19 L42.41,391.13 L42.66,391.07 L42.91,391.01 L43.17,390.95 L43.42,390.89 L43.67,390.83 L43.93,390.77 L44.18,390.71 L44.43,390.64 L44.69,390.58 L44.94,390.51 L45.20,390.45 L45.45,390.38 L45.70,390.31 L45.96,390.25 L46.21,390.18 L46.46,390.11 L46.72,390.04 L46.97,389.97 L47.22,389.90 L47.48,389.83 L47.73,389.76 L47.98,389.68 L48.24,389.61 L48.49,389.54 L48.75,389.47 L49.00,389.39 L49.25,389.32 L49.51,389.24 L49.76,389.17 L50.01,389.09 L50.27,389.02 L50.52,388.94 L50.77,388.87 L51.03,388.79 L51.28,388.71 L51.54,388.64 L51.79,388.56 L52.04,388.48 L52.30,388.40 L52.55,388.32 L52.80,388.25 L53.06,388.17 L53.31,388.09 L53.56,388.01 L53.82,387.93 L54.07,387.85 L54.33,387.77 L54.58,387.68 L54.83,387.59 L55.09,387.50 L55.34,387.41 L55.59,387.32 L55.85,387.22 L56.10,387.12 L56.35,387.02 L56.61,386.91 L56.86,386.81 L57.12,386.70 L57.37,386.59 L57.62,386.47 L57.88,386.35 L58.13,386.23 L58.38,386.11 L58.64,385.99 L58.89,385.86 L59.14,385.73 L59.40,385.59 L59.65,385.45 L59.90,385.31 L60.16,385.17 L60.41,385.02 L60.67,384.87 L60.92,384.72 L61.17,384.57 L61.43,384.41 L61.68,384.24 L61.93,384.08 L62.19,383.91 L62.44,383.73 L62.69,383.56 L62.95,383.38 L63.20,383.19 L63.46,383.00 L63.71,382.81 L63.96,382.62 L64.22,382.42 L64.47,382.22 L64.72,382.01 L64.98,381.80 L65.23,381.59 L65.48,381.37 L65.74,381.14 L65.99,380.92 L66.25,380.66 L66.50,380.37 L66.75,380.05 L67.01,379.71 L67.26,379.34 L67.51,378.96 L67.77,378.56 L68.02,378.14 L68.27,377.72 L68.53,377.29 L68.78,376.85 L69.04,376.42 L69.29,375.99 L69.54,375.56 L69.80,375.14 L70.05,374.72 L70.30,374.29 L70.56,373.85 L70.81,373.41 L71.06,372.96 L71.32,372.50 L71.57,372.04 L71.82,371.57 L72.08,371.11 L72.33,370.63 L72.59,370.16 L72.84,369.68 L73.09,369.20 L73.35,368.71 L73.60,368.23 L73.85,367.75 L74.11,367.26 L74.36,366.77 L74.61,366.29 L74.87,365.81 L75.12,365.32 L75.38,364.84 L75.63,364.36 L75.88,363.87 L76.14,363.38 L76.39,362.89 L76.64,362.39 L76.90,361.89 L77.15,361.38 L77.40,360.86 L77.66,360.34 L77.91,359.81 L78.17,359.27 L78.42,358.72 L78.67,358.16 L78.93,357.59 L79.18,357.00 L79.43,356.40 L79.69,355.79 L79.94,355.17 L80.19,354.54 L80.45,353.90 L80.70,353.25 L80.95,352.60 L81.21,351.94 L81.46,351.28 L81.72,350.61 L81.97,349.94 L82.22,349.28 L82.48,348.61 L82.73,347.94 L82.98,347.27 L83.24,346.59 L83.49,345.91 L83.74,345.22 L84.00,344.51 L84.25,343.80 L84.51,343.07 L84.76,342.33 L85.01,341.57 L85.27,340.79 L85.52,340.00 L85.77,339.19 L86.03,338.35 L86.28,337.50 L86.53,336.63 L86.79,335.73 L87.04,334.82 L87.30,333.88 L87.55,332.91 L87.80,331.91 L88.06,330.86 L88.31,329.77 L88.56,328.66 L88.82,327.52 L89.07,326.38 L89.32,325.22 L89.58,324.07 L89.83,322.93 L90.09,321.80 L90.34,320.70 L90.59,319.60 L90.85,318.51 L91.10,317.41 L91.35,316.32 L91.61,315.23 L91.86,314.14 L92.11,313.04 L92.37,311.94 L92.62,310.83 L92.87,309.71 L93.13,308.58 L93.38,307.45 L93.64,306.31 L93.89,305.17 L94.14,304.02 L94.40,302.86 L94.65,301.71 L94.90,300.54 L95.16,299.38 L95.41,298.21 L95.66,297.02 L95.92,295.77 L96.17,294.47 L96.43,293.16 L96.68,291.86 L96.93,290.60 L97.19,289.42 L97.44,288.33 L97.69,287.36 L97.95,286.53 L98.20,285.73 L98.45,284.97 L98.71,284.25 L98.96,283.58 L99.22,282.97 L99.47,282.42 L99.72,281.94 L99.98,281.53 L100.23,281.17 L100.48,280.82 L100.74,280.48 L100.99,280.18 L101.24,279.94 L101.50,279.78 L101.75,279.70 L102.01,279.75 L102.26,279.92 L102.51,280.17 L102.77,280.46 L103.02,280.80 L103.27,281.24 L103.53,281.80 L103.78,282.44 L104.03,283.16 L104.29,283.96 L104.54,284.81 L104.79,285.71 L105.05,286.65 L105.30,287.61 L105.56,288.59 L105.81,289.58 L106.06,290.55 L106.32,291.51 L106.57,292.44 L106.82,293.34 L107.08,294.26 L107.33,295.20 L107.58,296.17 L107.84,297.16 L108.09,298.16 L108.35,299.17 L108.60,300.18 L108.85,301.20 L109.11,302.21 L109.36,303.22 L109.61,304.22 L109.87,305.19 L110.12,306.16 L110.37,307.11 L110.63,308.06 L110.88,309.01 L111.14,309.95 L111.39,310.89 L111.64,311.82 L111.90,312.75 L112.15,313.68 L112.40,314.61 L112.66,315.54 L112.91,316.46 L113.16,317.38 L113.42,318.30 L113.67,319.22 L113.92,320.13 L114.18,321.03 L114.43,321.92 L114.69,322.81 L114.94,323.70 L115.19,324.58 L115.45,325.47 L115.70,326.36 L115.95,327.25 L116.21,328.15 L116.46,329.06 L116.71,329.97 L116.97,330.90 L117.22,331.83 L117.48,332.79 L117.73,333.78 L117.98,334.82 L118.24,335.89 L118.49,336.97 L118.74,338.06 L119.00,339.14 L119.25,340.19 L119.50,341.20 L119.76,342.17 L120.01,343.07 L120.27,343.89 L120.52,344.65 L120.77,345.39 L121.03,346.10 L121.28,346.79 L121.53,347.46 L121.79,348.11 L122.04,348.74 L122.29,349.35 L122.55,349.95 L122.80,350.53 L123.06,351.09 L123.31,351.65 L123.56,352.19 L123.82,352.72 L124.07,353.24 L124.32,353.75 L124.58,354.25 L124.83,354.75 L125.08,355.25 L125.34,355.75 L125.59,356.24 L125.84,356.73 L126.10,357.21 L126.35,357.68 L126.61,358.15 L126.86,358.61 L127.11,359.07 L127.37,359.51 L127.62,359.95 L127.87,360.37 L128.13,360.79 L128.38,361.19 L128.63,361.58 L128.89,361.96 L129.14,362.32 L129.40,362.67 L129.65,363.01 L129.90,363.32 L130.16,363.63 L130.41,363.91 L130.66,364.18 L130.92,364.45 L131.17,364.71 L131.42,364.97 L131.68,365.22 L131.93,365.47 L132.19,365.71 L132.44,365.95 L132.69,366.18 L132.95,366.41 L133.20,366.63 L133.45,366.85 L133.71,367.06 L133.96,367.26 L134.21,367.46 L134.47,367.66 L134.72,367.85 L134.97,368.04 L135.23,368.22 L135.48,368.39 L135.74,368.56 L135.99,368.72 L136.24,368.88 L136.50,369.04 L136.75,369.19 L137.00,369.33 L137.26,369.47 L137.51,369.60 L137.76,369.73 L138.02,369.86 L138.27,369.98 L138.53,370.11 L138.78,370.23 L139.03,370.35 L139.29,370.48 L139.54,370.59 L139.79,370.71 L140.05,370.83 L140.30,370.95 L140.55,371.06 L140.81,371.17 L141.06,371.28 L141.32,371.39 L141.57,371.50 L141.82,371.61 L142.08,371.72 L142.33,371.82 L142.58,371.92 L142.84,372.02 L143.09,372.12 L143.34,372.22 L143.60,372.31 L143.85,372.40 L144.11,372.50 L144.36,372.58 L144.61,372.67 L144.87,372.76 L145.12,372.84 L145.37,372.92 L145.63,373.00 L145.88,373.08 L146.13,373.15 L146.39,373.23 L146.64,373.30 L146.89,373.36 L147.15,373.43 L147.40,373.49 L147.66,373.55 L147.91,373.61 L148.16,373.67 L148.42,373.72 L148.67,373.77 L148.92,373.82 L149.18,373.87 L149.43,373.91 L149.68,373.95 L149.94,373.99 L150.19,374.03 L150.45,374.06 L150.70,374.10 L150.95,374.13 L151.21,374.17 L151.46,374.20 L151.71,374.24 L151.97,374.27 L152.22,374.30 L152.47,374.33 L152.73,374.37 L152.98,374.40 L153.24,374.43 L153.49,374.46 L153.74,374.49 L154.00,374.52 L154.25,374.55 L154.50,374.58 L154.76,374.61 L155.01,374.64 L155.26,374.67 L155.52,374.70 L155.77,374.73 L156.03,374.76 L156.28,374.78 L156.53,374.81 L156.79,374.84 L157.04,374.86 L157.29,374.89 L157.55,374.91 L157.80,374.94 L158.05,374.96 L158.31,374.99 L158.56,375.01 L158.81,375.03 L159.07,375.06 L159.32,375.08 L159.58,375.10 L159.83,375.12 L160.08,375.14 L160.34,375.16 L160.59,375.18 L160.84,375.20 L161.10,375.22 L161.35,375.24 L161.60,375.26 L161.86,375.28 L162.11,375.30 L162.37,375.31 L162.62,375.33 L162.87,375.35 L163.13,375.36 L163.38,375.38 L163.63,375.39 L163.89,375.41 L164.14,375.42 L164.39,375.43 L164.65,375.45 L164.90,375.46 L165.16,375.47 L165.41,375.48 L165.66,375.50 L165.92,375.51 L166.17,375.52 L166.42,375.53 L166.68,375.54 L166.93,375.55 L167.18,375.55 L167.44,375.56 L167.69,375.57 L167.94,375.58 L168.20,375.58 L168.45,375.59 L168.71,375.59 L168.96,375.60 L169.21,375.60 L169.47,375.61 L169.72,375.61 L169.97,375.62 L170.23,375.62 L170.48,375.63 L170.73,375.63 L170.99,375.64 L171.24,375.64 L171.50,375.64 L171.75,375.65 L172.00,375.65 L172.26,375.66 L172.51,375.66 L172.76,375.67 L173.02,375.67 L173.27,375.67 L173.52,375.68 L173.78,375.68 L174.03,375.69 L174.29,375.69 L174.54,375.69 L174.79,375.70 L175.05,375.70 L175.30,375.71 L175.55,375.71 L175.81,375.71 L176.06,375.72 L176.31,375.72 L176.57,375.73 L176.82,375.73 L177.08,375.73 L177.33,375.74 L177.58,375.74 L177.84,375.74 L178.09,375.75 L178.34,375.75 L178.60,375.75 L178.85,375.76 L179.10,375.76 L179.36,375.76 L179.61,375.77 L179.86,375.77 L180.12,375.77 L180.37,375.78 L180.63,375.78 L180.88,375.78 L181.13,375.79 L181.39,375.79 L181.64,375.79 L181.89,375.79 L182.15,375.80 L182.40,375.80 L182.65,375.80 L182.91,375.81 L183.16,375.81 L183.42,375.81 L183.67,375.81 L183.92,375.82 L184.18,375.82 L184.43,375.82 L184.68,375.82 L184.94,375.83 L185.19,375.83 L185.44,375.83 L185.70,375.83 L185.95,375.84 L186.21,375.84 L186.46,375.84 L186.71,375.84 L186.97,375.84 L187.22,375.85 L187.47,375.85 L187.73,375.85 L187.98,375.85 L188.23,375.85 L188.49,375.86 L188.74,375.86 L188.99,375.86 L189.25,375.86 L189.50,375.86 L189.76,375.87 L190.01,375.87 L190.26,375.87 L190.52,375.87 L190.77,375.87 L191.02,375.87 L191.28,375.87 L191.53,375.88 L191.78,375.88 L192.04,375.88 L192.29,375.88 L192.55,375.88 L192.80,375.88 L193.05,375.88 L193.31,375.89 L193.56,375.89 L193.81,375.89 L194.07,375.89 L194.32,375.89 L194.57,375.89 L194.83,375.89 L195.08,375.89 L195.34,375.89 L195.59,375.89 L195.84,375.89 L196.10,375.89 L196.35,375.90 L196.60,375.90 L196.86,375.90 L197.11,375.90 L197.36,375.90 L197.62,375.90 L197.87,375.90 L198.13,375.90 L198.38,375.90 L198.63,375.90 L198.89,375.90 L199.14,375.90 L199.39,375.90 L199.65,375.90 L199.90,375.90 L200.15,375.90 L200.41,375.90 L200.66,375.90 L200.91,375.90 L201.17,375.90 L201.42,375.90 L201.68,375.90 L201.93,375.90 L202.18,375.90 L202.44,375.90 L202.69,375.90 L202.94,375.90 L203.20,375.90 L203.45,375.90 L203.70,375.90 L203.96,375.90 L204.21,375.90 L204.47,375.90 L204.72,375.90 L204.97,375.90 L205.23,375.90 L205.48,375.90 L205.73,375.90 L205.99,375.90 L206.24,375.90 L206.49,375.90 L206.75,375.90 L207.00,375.90 L207.26,375.90 L207.51,375.90 L207.76,375.90 L208.02,375.90 L208.27,375.90 L208.52,375.90 L208.78,375.90 L209.03,375.90 L209.28,375.90 L209.54,375.90 L209.79,375.90 L210.05,375.90 L210.30,375.90 L210.55,375.90 L210.81,375.90 L211.06,375.90 L211.31,375.90 L211.57,375.90 L211.82,375.90 L212.07,375.90 L212.33,375.90 L212.58,375.90 L212.83,375.90 L213.09,375.90 L213.34,375.90 L213.60,375.90 L213.85,375.90 L214.10,375.90 L214.36,375.90 L214.61,375.90 L214.86,375.90 L215.12,375.90 L215.37,375.90 L215.62,375.90 L215.88,375.90 L216.13,375.90 L216.39,375.90 L216.64,375.90 L216.89,375.90 L217.15,375.90 L217.40,375.90 L217.65,375.90 L217.91,375.90 L218.16,375.90 L218.41,375.90 L218.67,375.90 L218.92,375.90 L219.18,375.90 L219.43,375.90 L219.68,375.90 L219.94,375.90 L220.19,375.90 L220.44,375.90 L220.70,375.90 L220.95,375.90 L221.20,375.90 L221.46,375.90 L221.71,375.90 L221.96,375.90 L222.22,375.90 L222.47,375.90 L222.73,375.90 L222.98,375.90 L223.23,375.90 L223.49,375.90 L223.74,375.90 L223.99,375.90 L224.25,375.90 L224.50,375.90 L224.75,375.90 L225.01,375.90 L225.26,375.90 L225.52,375.90 L225.77,375.90 L226.02,375.90 L226.28,375.90 L226.53,375.90 L226.78,375.90 L227.04,375.90 L227.29,375.90 L227.54,375.90 L227.80,375.90 L228.05,375.90 L228.31,375.90 L228.56,375.90 L228.81,375.90 L229.07,375.90 L229.32,375.90 L229.57,375.90 L229.83,375.90 L230.08,375.90 L230.33,375.90 L230.59,375.90 L230.84,375.90 L231.10,375.90 L231.35,375.90 L231.60,375.90 L231.86,375.90 L232.11,375.90 L232.36,375.90 L232.62,375.90 L232.87,375.90 L233.12,375.90 L233.38,375.90 L233.63,375.90 L233.88,375.90 L234.14,375.90 L234.39,375.90 L234.65,375.90 L234.90,375.90 L235.15,375.90 L235.41,375.90 L235.66,375.90 L235.91,375.90 L236.17,375.90 L236.42,375.90 L236.67,375.90 L236.93,375.90 L237.18,375.90 L237.44,375.90 L237.69,375.90 L237.94,375.90 L238.20,375.90 L238.45,375.90 L238.70,375.90 L238.96,375.90 L239.21,375.90 L239.46,375.90 L239.72,375.90 L239.97,375.90 L240.23,375.90 L240.48,375.90 L240.73,375.90 L240.99,375.90 L241.24,375.90 L241.49,375.90 L241.75,375.90 L242.00,375.90 L242.25,375.90 L242.51,375.90 L242.76,375.90 L243.02,375.90 L243.27,375.90 L243.52,375.90 L243.78,375.90 L244.03,375.90 L244.28,375.90 L244.54,375.90 L244.79,375.90 L245.04,375.90 L245.30,375.90 L245.55,375.90 L245.80,375.90 L246.06,375.90 L246.31,375.90 L246.57,375.90 L246.82,375.90 L247.07,375.90 L247.33,375.90 L247.58,375.90 L247.83,375.90 L248.09,375.90 L248.34,375.90 L248.59,375.90 L248.85,375.90 L249.10,375.90 L249.36,375.90 L249.61,375.90 L249.86,375.90 L250.12,375.90 L250.37,375.90 L250.62,375.90 L250.88,375.90 L251.13,375.90 L251.38,375.90 L251.64,375.90 L251.89,375.90 L252.15,375.90 L252.40,375.90 L252.65,375.90 L252.91,375.90 L253.16,375.90 L253.41,375.90 L253.67,375.90 L253.92,375.90 L254.17,375.90 L254.43,375.90 L254.68,375.90 L254.93,375.90 L255.19,375.90 L255.44,375.90 L255.70,375.90 L255.95,375.90 L256.20,375.90 L256.46,375.90 L256.71,375.90 L256.96,375.90 L257.22,375.90 L257.47,375.90 L257.72,375.90 L257.98,375.90 L258.23,375.90 L258.49,375.90 L258.74,375.90 L258.99,375.90 L259.25,375.90 L259.50,375.90" fill="none" stroke="#2a2aff" stroke-width="1.5" stroke-linejoin="round" />
<path d="M31.50,395.78 L31.75,395.78 L32.01,395.78 L32.26,395.77 L32.51,395.77 L32.77,395.76 L33.02,395.76 L33.28,395.75 L33.53,395.75 L33.78,395.74 L34.04,395.73 L34.29,395.73 L34.54,395.72 L34.80,395.71 L35.05,395.71 L35.30,395.70 L35.56,395.69 L35.81,395.68 L36.07,395.68 L36.32,395.67 L36.57,395.66 L36.83,395.65 L37.08,395.64 L37.33,395.63 L37.59,395.62 L37.84,395.62 L38.09,395.61 L38.35,395.60 L38.60,395.59 L38.85,395.58 L39.11,395.57 L39.36,395.56 L39.62,395.55 L39.87,395.53 L40.12,395.52 L40.38,395.51 L40.63,395.50 L40.88,395.49 L41.14,395.48 L41.39,395.47 L41.64,395.46 L41.90,395.45 L42.15,395.43 L42.41,395.42 L42.66,395.41 L42.91,395.40 L43.17,395.39 L43.42,395.38 L43.67,395.36 L43.93,395.35 L44.18,395.34 L44.43,395.33 L44.69,395.32 L44.94,395.30 L45.20,395.29 L45.45,395.28 L45.70,395.26 L45.96,395.25 L46.21,395.23 L46.46,395.22 L46.72,395.20 L46.97,395.19 L47.22,395.17 L47.48,395.15 L47.73,395.13 L47.98,395.11 L48.24,395.09 L48.49,395.07 L48.75,395.05 L49.00,395.03 L49.25,395.01 L49.51,394.99 L49.76,394.97 L50.01,394.95 L50.27,394.92 L50.52,394.90 L50.77,394.88 L51.03,394.86 L51.28,394.83 L51.54,394.81 L51.79,394.78 L52.04,394.76 L52.30,394.73 L52.55,394.71 L52.80,394.69 L53.06,394.66 L53.31,394.64 L53.56,394.61 L53.82,394.59 L54.07,394.56 L54.33,394.53 L54.58,394.51 L54.83,394.48 L55.09,394.46 L55.34,394.43 L55.59,394.41 L55.85,394.38 L56.10,394.36 L56.35,394.33 L56.61,394.31 L56.86,394.28 L57.12,394.26 L57.37,394.24 L57.62,394.21 L57.88,394.19 L58.13,394.16 L58.38,394.14 L58.64,394.12 L58.89,394.10 L59.14,394.07 L59.40,394.05 L59.65,394.03 L59.90,394.01 L60.16,393.99 L60.41,393.97 L60.67,393.95 L60.92,393.93 L61.17,393.91 L61.43,393.89 L61.68,393.87 L61.93,393.85 L62.19,393.83 L62.44,393.81 L62.69,393.80 L62.95,393.78 L63.20,393.76 L63.46,393.74 L63.71,393.73 L63.96,393.71 L64.22,393.69 L64.47,393.68 L64.72,393.66 L64.98,393.64 L65.23,393.63 L65.48,393.61 L65.74,393.59 L65.99,393.58 L66.25,393.56 L66.50,393.54 L66.75,393.53 L67.01,393.51 L67.26,393.49 L67.51,393.48 L67.77,393.46 L68.02,393.44 L68.27,393.43 L68.53,393.41 L68.78,393.39 L69.04,393.37 L69.29,393.36 L69.54,393.34 L69.80,393.32 L70.05,393.30 L70.30,393.28 L70.56,393.26 L70.81,393.24 L71.06,393.22 L71.32,393.20 L71.57,393.18 L71.82,393.16 L72.08,393.14 L72.33,393.12 L72.59,393.10 L72.84,393.07 L73.09,393.05 L73.35,393.03 L73.60,393.00 L73.85,392.98 L74.11,392.95 L74.36,392.93 L74.61,392.90 L74.87,392.88 L75.12,392.85 L75.38,392.82 L75.63,392.79 L75.88,392.76 L76.14,392.73 L76.39,392.70 L76.64,392.67 L76.90,392.64 L77.15,392.60 L77.40,392.56 L77.66,392.52 L77.91,392.48 L78.17,392.44 L78.42,392.39 L78.67,392.35 L78.93,392.30 L79.18,392.25 L79.43,392.20 L79.69,392.15 L79.94,392.09 L80.19,392.04 L80.45,391.98 L80.70,391.93 L80.95,391.87 L81.21,391.81 L81.46,391.74 L81.72,391.68 L81.97,391.62 L82.22,391.55 L82.48,391.48 L82.73,391.42 L82.98,391.35 L83.24,391.28 L83.49,391.21 L83.74,391.14 L84.00,391.06 L84.25,390.99 L84.51,390.92 L84.76,390.84 L85.01,390.77 L85.27,390.69 L85.52,390.61 L85.77,390.54 L86.03,390.46 L86.28,390.38 L86.53,390.30 L86.79,390.22 L87.04,390.14 L87.30,390.06 L87.55,389.98 L87.80,389.90 L88.06,389.81 L88.31,389.73 L88.56,389.65 L88.82,389.57 L89.07,389.48 L89.32,389.40 L89.58,389.32 L89.83,389.24 L90.09,389.15 L90.34,389.07 L90.59,388.99 L90.85,388.90 L91.10,388.82 L91.35,388.74 L91.61,388.65 L91.86,388.57 L92.11,388.49 L92.37,388.41 L92.62,388.33 L92.87,388.24 L93.13,388.16 L93.38,388.08 L93.64,387.99 L93.89,387.91 L94.14,387.82 L94.40,387.73 L94.65,387.64 L94.90,387.55 L95.16,387.46 L95.41,387.37 L95.66,387.28 L95.92,387.19 L96.17,387.09 L96.43,387.00 L96.68,386.90 L96.93,386.81 L97.19,386.71 L97.44,386.61 L97.69,386.51 L97.95,386.42 L98.20,386.32 L98.45,386.22 L98.71,386.12 L98.96,386.02 L99.22,385.91 L99.47,385.81 L99.72,385.71 L99.98,385.61 L100.23,385.50 L100.48,385.40 L100.74,385.29 L100.99,385.19 L101.24,385.09 L101.50,384.98 L101.75,384.87 L102.01,384.77 L102.26,384.66 L102.51,384.56 L102.77,384.45 L103.02,384.34 L103.27,384.24 L103.53,384.13 L103.78,384.02 L104.03,383.92 L104.29,383.81 L104.54,383.70 L104.79,383.60 L105.05,383.49 L105.30,383.38 L105.56,383.27 L105.81,383.17 L106.06,383.06 L106.32,382.95 L106.57,382.85 L106.82,382.74 L107.08,382.64 L107.33,382.53 L107.58,382.42 L107.84,382.32 L108.09,382.21 L108.35,382.11 L108.60,382.01 L108.85,381.90 L109.11,381.80 L109.36,381.69 L109.61,381.59 L109.87,381.49 L110.12,381.39 L110.37,381.29 L110.63,381.19 L110.88,381.08 L111.14,380.98 L111.39,380.88 L111.64,380.78 L111.90,380.69 L112.15,380.59 L112.40,380.49 L112.66,380.39 L112.91,380.29 L113.16,380.19 L113.42,380.09 L113.67,379.99 L113.92,379.89 L114.18,379.79 L114.43,379.70 L114.69,379.60 L114.94,379.50 L115.19,379.40 L115.45,379.30 L115.70,379.20 L115.95,379.10 L116.21,379.00 L116.46,378.90 L116.71,378.79 L116.97,378.69 L117.22,378.59 L117.48,378.49 L117.73,378.39 L117.98,378.28 L118.24,378.18 L118.49,378.07 L118.74,377.97 L119.00,377.86 L119.25,377.76 L119.50,377.65 L119.76,377.54 L120.01,377.43 L120.27,377.32 L120.52,377.21 L120.77,377.10 L121.03,376.99 L121.28,376.88 L121.53,376.76 L121.79,376.65 L122.04,376.53 L122.29,376.42 L122.55,376.30 L122.80,376.18 L123.06,376.06 L123.31,375.94 L123.56,375.81 L123.82,375.69 L124.07,375.57 L124.32,375.44 L124.58,375.31 L124.83,375.18 L125.08,375.05 L125.34,374.92 L125.59,374.79 L125.84,374.65 L126.10,374.52 L126.35,374.38 L126.61,374.24 L126.86,374.10 L127.11,373.96 L127.37,373.82 L127.62,373.67 L127.87,373.53 L128.13,373.38 L128.38,373.23 L128.63,373.08 L128.89,372.93 L129.14,372.78 L129.40,372.62 L129.65,372.47 L129.90,372.31 L130.16,372.15 L130.41,371.99 L130.66,371.83 L130.92,371.67 L131.17,371.50 L131.42,371.34 L131.68,371.17 L131.93,371.00 L132.19,370.83 L132.44,370.66 L132.69,370.48 L132.95,370.31 L133.20,370.13 L133.45,369.95 L133.71,369.77 L133.96,369.59 L134.21,369.41 L134.47,369.22 L134.72,369.04 L134.97,368.85 L135.23,368.65 L135.48,368.46 L135.74,368.26 L135.99,368.06 L136.24,367.85 L136.50,367.64 L136.75,367.43 L137.00,367.22 L137.26,367.00 L137.51,366.78 L137.76,366.56 L138.02,366.34 L138.27,366.11 L138.53,365.88 L138.78,365.65 L139.03,365.41 L139.29,365.17 L139.54,364.93 L139.79,364.69 L140.05,364.45 L140.30,364.20 L140.55,363.95 L140.81,363.69 L141.06,363.44 L141.32,363.17 L141.57,362.90 L141.82,362.61 L142.08,362.32 L142.33,362.02 L142.58,361.72 L142.84,361.40 L143.09,361.09 L143.34,360.77 L143.60,360.44 L143.85,360.12 L144.11,359.79 L144.36,359.47 L144.61,359.14 L144.87,358.82 L145.12,358.50 L145.37,358.18 L145.63,357.87 L145.88,357.57 L146.13,357.27 L146.39,356.98 L146.64,356.69 L146.89,356.42 L147.15,356.15 L147.40,355.90 L147.66,355.64 L147.91,355.39 L148.16,355.13 L148.42,354.87 L148.67,354.62 L148.92,354.36 L149.18,354.10 L149.43,353.85 L149.68,353.60 L149.94,353.35 L150.19,353.10 L150.45,352.86 L150.70,352.63 L150.95,352.40 L151.21,352.18 L151.46,351.96 L151.71,351.75 L151.97,351.55 L152.22,351.36 L152.47,351.17 L152.73,351.00 L152.98,350.84 L153.24,350.68 L153.49,350.54 L153.74,350.42 L154.00,350.30 L154.25,350.19 L154.50,350.09 L154.76,349.98 L155.01,349.87 L155.26,349.77 L155.52,349.67 L155.77,349.56 L156.03,349.46 L156.28,349.37 L156.53,349.27 L156.79,349.18 L157.04,349.09 L157.29,349.01 L157.55,348.92 L157.80,348.85 L158.05,348.77 L158.31,348.70 L158.56,348.64 L158.81,348.58 L159.07,348.52 L159.32,348.47 L159.58,348.43 L159.83,348.39 L160.08,348.36 L160.34,348.33 L160.59,348.32 L160.84,348.30 L161.10,348.30 L161.35,348.30 L161.60,348.32 L161.86,348.34 L162.11,348.37 L162.37,348.41 L162.62,348.46 L162.87,348.52 L163.13,348.58 L163.38,348.64 L163.63,348.72 L163.89,348.80 L164.14,348.88 L164.39,348.97 L164.65,349.06 L164.90,349.16 L165.16,349.26 L165.41,349.37 L165.66,349.47 L165.92,349.58 L166.17,349.69 L166.42,349.80 L166.68,349.92 L166.93,350.03 L167.18,350.14 L167.44,350.25 L167.69,350.37 L167.94,350.48 L168.20,350.59 L168.45,350.71 L168.71,350.84 L168.96,350.97 L169.21,351.11 L169.47,351.26 L169.72,351.42 L169.97,351.58 L170.23,351.75 L170.48,351.92 L170.73,352.09 L170.99,352.27 L171.24,352.46 L171.50,352.64 L171.75,352.83 L172.00,353.02 L172.26,353.22 L172.51,353.41 L172.76,353.61 L173.02,353.81 L173.27,354.00 L173.52,354.20 L173.78,354.40 L174.03,354.59 L174.29,354.79 L174.54,354.98 L174.79,355.17 L175.05,355.36 L175.30,355.54 L175.55,355.73 L175.81,355.90 L176.06,356.08 L176.31,356.24 L176.57,356.41 L176.82,356.57 L177.08,356.74 L177.33,356.90 L177.58,357.07 L177.84,357.24 L178.09,357.40 L178.34,357.57 L178.60,357.74 L178.85,357.90 L179.10,358.07 L179.36,358.24 L179.61,358.40 L179.86,358.57 L180.12,358.74 L180.37,358.90 L180.63,359.07 L180.88,359.24 L181.13,359.40 L181.39,359.57 L181.64,359.73 L181.89,359.90 L182.15,360.06 L182.40,360.23 L182.65,360.39 L182.91,360.55 L183.16,360.71 L183.42,360.87 L183.67,361.03 L183.92,361.19 L184.18,361.35 L184.43,361.51 L184.68,361.66 L184.94,361.82 L185.19,361.97 L185.44,362.12 L185.70,362.27 L185.95,362.42 L186.21,362.57 L186.46,362.72 L186.71,362.86 L186.97,363.01 L187.22,363.15 L187.47,363.29 L187.73,363.43 L187.98,363.56 L188.23,363.70 L188.49,363.83 L188.74,363.96 L188.99,364.09 L189.25,364.22 L189.50,364.35 L189.76,364.47 L190.01,364.59 L190.26,364.71 L190.52,364.83 L190.77,364.94 L191.02,365.05 L191.28,365.17 L191.53,365.28 L191.78,365.39 L192.04,365.49 L192.29,365.60 L192.55,365.71 L192.80,365.82 L193.05,365.92 L193.31,366.03 L193.56,366.13 L193.81,366.23 L194.07,366.34 L194.32,366.44 L194.57,366.54 L194.83,366.64 L195.08,366.74 L195.34,366.84 L195.59,366.93 L195.84,367.03 L196.10,367.13 L196.35,367.22 L196.60,367.32 L196.86,367.41 L197.11,367.50 L197.36,367.60 L197.62,367.69 L197.87,367.78 L198.13,367.87 L198.38,367.95 L198.63,368.04 L198.89,368.13 L199.14,368.22 L199.39,368.30 L199.65,368.38 L199.90,368.47 L200.15,368.55 L200.41,368.63 L200.66,368.71 L200.91,368.79 L201.17,368.87 L201.42,368.95 L201.68,369.03 L201.93,369.11 L202.18,369.18 L202.44,369.26 L202.69,369.33 L202.94,369.41 L203.20,369.48 L203.45,369.55 L203.70,369.62 L203.96,369.69 L204.21,369.76 L204.47,369.83 L204.72,369.90 L204.97,369.96 L205.23,370.03 L205.48,370.09 L205.73,370.16 L205.99,370.22 L206.24,370.29 L206.49,370.35 L206.75,370.41 L207.00,370.48 L207.26,370.54 L207.51,370.60 L207.76,370.66 L208.02,370.73 L208.27,370.79 L208.52,370.85 L208.78,370.91 L209.03,370.97 L209.28,371.03 L209.54,371.09 L209.79,371.15 L210.05,371.21 L210.30,371.26 L210.55,371.32 L210.81,371.38 L211.06,371.44 L211.31,371.49 L211.57,371.55 L211.82,371.60 L212.07,371.66 L212.33,371.71 L212.58,371.76 L212.83,371.82 L213.09,371.87 L213.34,371.92 L213.60,371.97 L213.85,372.02 L214.10,372.07 L214.36,372.12 L214.61,372.17 L214.86,372.21 L215.12,372.26 L215.37,372.31 L215.62,372.35 L215.88,372.40 L216.13,372.44 L216.39,372.48 L216.64,372.53 L216.89,372.57 L217.15,372.61 L217.40,372.65 L217.65,372.68 L217.91,372.72 L218.16,372.76 L218.41,372.80 L218.67,372.83 L218.92,372.87 L219.18,372.90 L219.43,372.93 L219.68,372.96 L219.94,372.99 L220.19,373.02 L220.44,373.05 L220.70,373.08 L220.95,373.11 L221.20,373.14 L221.46,373.17 L221.71,373.19 L221.96,373.22 L222.22,373.25 L222.47,373.28 L222.73,373.31 L222.98,373.33 L223.23,373.36 L223.49,373.39 L223.74,373.41 L223.99,373.44 L224.25,373.46 L224.50,373.49 L224.75,373.51 L225.01,373.54 L225.26,373.57 L225.52,373.59 L225.77,373.61 L226.02,373.64 L226.28,373.66 L226.53,373.69 L226.78,373.71 L227.04,373.73 L227.29,373.76 L227.54,373.78 L227.80,373.80 L228.05,373.82 L228.31,373.85 L228.56,373.87 L228.81,373.89 L229.07,373.91 L229.32,373.93 L229.57,373.95 L229.83,373.97 L230.08,373.99 L230.33,374.01 L230.59,374.03 L230.84,374.05 L231.10,374.07 L231.35,374.09 L231.60,374.11 L231.86,374.13 L232.11,374.15 L232.36,374.17 L232.62,374.18 L232.87,374.20 L233.12,374.22 L233.38,374.24 L233.63,374.25 L233.88,374.27 L234.14,374.29 L234.39,374.30 L234.65,374.32 L234.90,374.33 L235.15,374.35 L235.41,374.37 L235.66,374.38 L235.91,374.40 L236.17,374.41 L236.42,374.42 L236.67,374.44 L236.93,374.45 L237.18,374.47 L237.44,374.48 L237.69,374.49 L237.94,374.50 L238.20,374.52 L238.45,374.53 L238.70,374.54 L238.96,374.55 L239.21,374.57 L239.46,374.58 L239.72,374.59 L239.97,374.60 L240.23,374.61 L240.48,374.62 L240.73,374.63 L240.99,374.64 L241.24,374.65 L241.49,374.66 L241.75,374.67 L242.00,374.68 L242.25,374.69 L242.51,374.71 L242.76,374.72 L243.02,374.73 L243.27,374.74 L243.52,374.75 L243.78,374.76 L244.03,374.77 L244.28,374.78 L244.54,374.79 L244.79,374.80 L245.04,374.81 L245.30,374.82 L245.55,374.83 L245.80,374.84 L246.06,374.85 L246.31,374.86 L246.57,374.87 L246.82,374.88 L247.07,374.89 L247.33,374.90 L247.58,374.91 L247.83,374.91 L248.09,374.92 L248.34,374.93 L248.59,374.94 L248.85,374.95 L249.10,374.96 L249.36,374.97 L249.61,374.98 L249.86,374.98 L250.12,374.99 L250.37,375.00 L250.62,375.01 L250.88,375.02 L251.13,375.02 L251.38,375.03 L251.64,375.04 L251.89,375.05 L252.15,375.05 L252.40,375.06 L252.65,375.07 L252.91,375.08 L253.16,375.08 L253.41,375.09 L253.67,375.10 L253.92,375.10 L254.17,375.11 L254.43,375.11 L254.68,375.12 L254.93,375.12 L255.19,375.13 L255.44,375.14 L255.70,375.14 L255.95,375.15 L256.20,375.15 L256.46,375.15 L256.71,375.16 L256.96,375.16 L257.22,375.17 L257.47,375.17 L257.72,375.17 L257.98,375.18 L258.23,375.18 L258.49,375.18 L258.74,375.19 L258.99,375.19 L259.25,375.19 L259.50,375.19" fill="none" stroke="#ff10ff" stroke-width="1.5" stroke-linejoin="round" />
<rect x="30.7" y="243.2" width="229.60000000000002" height="183.60000000000002" fill="none" stroke="#2b2b2b" stroke-width="1.6"/>
<line x1="30.70" y1="426.8" x2="30.70" y2="423.3" stroke="#2b2b2b" stroke-width="1.3"/>
<text x="30.70" y="440.00" font-size="10.8" text-anchor="middle" >860</text>
<line x1="45.06" y1="426.8" x2="45.06" y2="425.0" stroke="#2b2b2b" stroke-width="1.3"/>
<line x1="59.42" y1="426.8" x2="59.42" y2="423.3" stroke="#2b2b2b" stroke-width="1.3"/>
<text x="59.42" y="440.00" font-size="10.8" text-anchor="middle" >870</text>
<line x1="73.79" y1="426.8" x2="73.79" y2="425.0" stroke="#2b2b2b" stroke-width="1.3"/>
<line x1="88.15" y1="426.8" x2="88.15" y2="423.3" stroke="#2b2b2b" stroke-width="1.3"/>
<text x="88.15" y="440.00" font-size="10.8" text-anchor="middle" >880</text>
<line x1="102.51" y1="426.8" x2="102.51" y2="425.0" stroke="#2b2b2b" stroke-width="1.3"/>
<line x1="116.88" y1="426.8" x2="116.88" y2="423.3" stroke="#2b2b2b" stroke-width="1.3"/>
<text x="116.88" y="440.00" font-size="10.8" text-anchor="middle" >890</text>
<line x1="131.24" y1="426.8" x2="131.24" y2="425.0" stroke="#2b2b2b" stroke-width="1.3"/>
<line x1="145.60" y1="426.8" x2="145.60" y2="423.3" stroke="#2b2b2b" stroke-width="1.3"/>
<text x="145.60" y="440.00" font-size="10.8" text-anchor="middle" >900</text>
<line x1="159.96" y1="426.8" x2="159.96" y2="425.0" stroke="#2b2b2b" stroke-width="1.3"/>
<line x1="174.32" y1="426.8" x2="174.32" y2="423.3" stroke="#2b2b2b" stroke-width="1.3"/>
<text x="174.32" y="440.00" font-size="10.8" text-anchor="middle" >910</text>
<line x1="188.69" y1="426.8" x2="188.69" y2="425.0" stroke="#2b2b2b" stroke-width="1.3"/>
<line x1="203.05" y1="426.8" x2="203.05" y2="423.3" stroke="#2b2b2b" stroke-width="1.3"/>
<text x="203.05" y="440.00" font-size="10.8" text-anchor="middle" >920</text>
<line x1="217.41" y1="426.8" x2="217.41" y2="425.0" stroke="#2b2b2b" stroke-width="1.3"/>
<line x1="231.78" y1="426.8" x2="231.78" y2="423.3" stroke="#2b2b2b" stroke-width="1.3"/>
<text x="231.78" y="440.00" font-size="10.8" text-anchor="middle" >930</text>
<line x1="246.14" y1="426.8" x2="246.14" y2="425.0" stroke="#2b2b2b" stroke-width="1.3"/>
<line x1="260.50" y1="426.8" x2="260.50" y2="423.3" stroke="#2b2b2b" stroke-width="1.3"/>
<text x="260.50" y="440.00" font-size="10.8" text-anchor="middle" >940</text>
<text x="145.50" y="461.40" font-size="14.5" text-anchor="middle" >Binding Energy (eV)</text>
<text x="0" y="0" font-size="15" text-anchor="middle" transform="translate(14.20,340.80) rotate(-90)">Intensity (a.u.)</text>
<text x="51.10" y="266.80" font-size="22" text-anchor="middle" >(c)</text>
<line x1="176.6" y1="253.1" x2="200.2" y2="253.1" stroke="#111" stroke-width="1.4"/>
<text transform="translate(202.3,257.3) scale(0.915,1)" x="0" y="0" font-size="11.4">Exp. Ce 3d</text>
<line x1="176.6" y1="266.9" x2="200.2" y2="266.9" stroke="#ff2020" stroke-width="1.4"/>
<text transform="translate(202.3,270.1) scale(0.915,1)" x="0" y="0" font-size="11.4">Peak Sum</text>
<line x1="176.6" y1="279.6" x2="200.2" y2="279.6" stroke="#2020ff" stroke-width="1.4"/>
<text transform="translate(202.3,284.0) scale(0.915,1)" x="0" y="0" font-size="11.4">Ce 3d</text>
<text x="228.5" y="287.6" font-size="9.3" letter-spacing="0">5/2</text>
<line x1="176.6" y1="296.9" x2="200.2" y2="296.9" stroke="#ff20ff" stroke-width="1.4"/>
<text transform="translate(202.3,301.0) scale(0.915,1)" x="0" y="0" font-size="11.4">Ce 3d</text>
<text x="228.5" y="304.5" font-size="9.3" letter-spacing="0">3/2</text>
<path d="M310.85,421.40 L311.18,421.40 L311.51,421.40 L311.83,421.40 L312.16,421.40 L312.49,421.40 L312.82,421.40 L313.14,421.40 L313.47,421.40 L313.80,421.40 L314.13,421.40 L314.45,421.40 L314.78,421.40 L315.11,421.40 L315.44,421.40 L315.77,421.40 L316.09,421.39 L316.42,421.39 L316.75,421.39 L317.08,421.39 L317.40,421.39 L317.73,421.39 L318.06,421.39 L318.39,421.39 L318.71,421.39 L319.04,421.39 L319.37,421.39 L319.70,421.39 L320.03,421.39 L320.35,421.39 L320.68,421.39 L321.01,421.38 L321.34,421.38 L321.66,421.38 L321.99,421.38 L322.32,421.38 L322.65,421.38 L322.97,421.38 L323.30,421.38 L323.63,421.38 L323.96,421.38 L324.28,421.37 L324.61,421.37 L324.94,421.37 L325.27,421.37 L325.60,421.37 L325.92,421.37 L326.25,421.37 L326.58,421.36 L326.91,421.36 L327.23,421.36 L327.56,421.36 L327.89,421.36 L328.22,421.35 L328.54,421.35 L328.87,421.35 L329.20,421.35 L329.53,421.35 L329.86,421.34 L330.18,421.34 L330.51,421.34 L330.84,421.34 L331.17,421.33 L331.49,421.33 L331.82,421.33 L332.15,421.32 L332.48,421.32 L332.80,421.32 L333.13,421.31 L333.46,421.31 L333.79,421.31 L334.12,421.30 L334.44,421.30 L334.77,421.29 L335.10,421.29 L335.43,421.28 L335.75,421.28 L336.08,421.27 L336.41,421.27 L336.74,421.26 L337.06,421.25 L337.39,421.24 L337.72,421.24 L338.05,421.23 L338.38,421.22 L338.70,421.21 L339.03,421.20 L339.36,421.19 L339.69,421.18 L340.01,421.17 L340.34,421.16 L340.67,421.15 L341.00,421.13 L341.32,421.12 L341.65,421.10 L341.98,421.09 L342.31,421.07 L342.64,421.05 L342.96,421.03 L343.29,421.01 L343.62,420.99 L343.95,420.97 L344.27,420.95 L344.60,420.92 L344.93,420.89 L345.26,420.87 L345.58,420.84 L345.91,420.80 L346.24,420.77 L346.57,420.73 L346.90,420.70 L347.22,420.66 L347.55,420.61 L347.88,420.57 L348.21,420.52 L348.53,420.47 L348.86,420.42 L349.19,420.36 L349.52,420.31 L349.84,420.24 L350.17,420.18 L350.50,420.10 L350.83,420.02 L351.15,419.94 L351.48,419.84 L351.81,419.74 L352.14,419.63 L352.47,419.51 L352.79,419.39 L353.12,419.26 L353.45,419.12 L353.78,418.97 L354.10,418.82 L354.43,418.65 L354.76,418.48 L355.09,418.30 L355.41,418.12 L355.74,417.92 L356.07,417.72 L356.40,417.51 L356.73,417.29 L357.05,417.06 L357.38,416.82 L357.71,416.57 L358.04,416.31 L358.36,416.05 L358.69,415.77 L359.02,415.48 L359.35,415.19 L359.67,414.88 L360.00,414.56 L360.33,414.23 L360.66,413.90 L360.99,413.54 L361.31,413.18 L361.64,412.81 L361.97,412.42 L362.30,412.03 L362.62,411.62 L362.95,411.19 L363.28,410.76 L363.61,410.31 L363.93,409.85 L364.26,409.37 L364.59,408.88 L364.92,408.37 L365.25,407.85 L365.57,407.32 L365.90,406.76 L366.23,406.18 L366.56,405.59 L366.88,404.97 L367.21,404.34 L367.54,403.68 L367.87,403.00 L368.19,402.30 L368.52,401.58 L368.85,400.84 L369.18,400.08 L369.51,399.29 L369.83,398.48 L370.16,397.64 L370.49,396.79 L370.82,395.91 L371.14,395.00 L371.47,394.07 L371.80,393.12 L372.13,392.14 L372.45,391.14 L372.78,390.11 L373.11,389.06 L373.44,387.98 L373.77,386.88 L374.09,385.75 L374.42,384.60 L374.75,383.42 L375.08,382.22 L375.40,381.00 L375.73,379.75 L376.06,378.48 L376.39,377.18 L376.71,375.86 L377.04,374.52 L377.37,373.15 L377.70,371.76 L378.02,370.35 L378.35,368.92 L378.68,367.47 L379.01,366.00 L379.34,364.50 L379.66,362.99 L379.99,361.46 L380.32,359.92 L380.65,358.35 L380.97,356.77 L381.30,355.18 L381.63,353.57 L381.96,351.95 L382.28,350.32 L382.61,348.67 L382.94,347.02 L383.27,345.35 L383.60,343.68 L383.92,342.00 L384.25,340.32 L384.58,338.63 L384.91,336.94 L385.23,335.24 L385.56,333.55 L385.89,331.85 L386.22,330.16 L386.54,328.47 L386.87,326.79 L387.20,325.11 L387.53,323.43 L387.86,321.77 L388.18,320.12 L388.51,318.47 L388.84,316.84 L389.17,315.23 L389.49,313.63 L389.82,312.05 L390.15,310.49 L390.48,308.95 L390.80,307.43 L391.13,305.94 L391.46,304.47 L391.79,303.03 L392.12,301.61 L392.44,300.23 L392.77,298.88 L393.10,297.57 L393.43,296.29 L393.75,295.04 L394.08,293.84 L394.41,292.67 L394.74,291.55 L395.06,290.47 L395.39,289.43 L395.72,288.44 L396.05,287.49 L396.38,286.60 L396.70,285.75 L397.03,284.95 L397.36,284.20 L397.69,283.50 L398.01,282.85 L398.34,282.26 L398.67,281.72 L399.00,281.23 L399.32,280.79 L399.65,280.41 L399.98,280.08 L400.31,279.81 L400.63,279.59 L400.96,279.43 L401.29,279.31 L401.62,279.26 L401.95,279.25 L402.27,279.30 L402.60,279.40 L402.93,279.55 L403.26,279.75 L403.58,280.01 L403.91,280.31 L404.24,280.67 L404.57,281.07 L404.89,281.52 L405.22,282.02 L405.55,282.57 L405.88,283.16 L406.21,283.80 L406.53,284.48 L406.86,285.21 L407.19,285.98 L407.52,286.78 L407.84,287.63 L408.17,288.52 L408.50,289.45 L408.83,290.41 L409.15,291.40 L409.48,292.44 L409.81,293.50 L410.14,294.59 L410.47,295.72 L410.79,296.87 L411.12,298.05 L411.45,299.26 L411.78,300.49 L412.10,301.74 L412.43,303.01 L412.76,304.31 L413.09,305.62 L413.41,306.94 L413.74,308.28 L414.07,309.64 L414.40,311.01 L414.73,312.38 L415.05,313.77 L415.38,315.16 L415.71,316.55 L416.04,317.95 L416.36,319.36 L416.69,320.76 L417.02,322.16 L417.35,323.57 L417.67,324.96 L418.00,326.36 L418.33,327.74 L418.66,329.12 L418.99,330.49 L419.31,331.85 L419.64,333.20 L419.97,334.54 L420.30,335.86 L420.62,337.17 L420.95,338.46 L421.28,339.74 L421.61,341.00 L421.93,342.24 L422.26,343.47 L422.59,344.67 L422.92,345.85 L423.25,347.02 L423.57,348.16 L423.90,349.28 L424.23,350.38 L424.56,351.45 L424.88,352.51 L425.21,353.54 L425.54,354.54 L425.87,355.53 L426.19,356.49 L426.52,357.43 L426.85,358.34 L427.18,359.23 L427.50,360.10 L427.83,360.95 L428.16,361.77 L428.49,362.57 L428.82,363.35 L429.14,364.11 L429.47,364.85 L429.80,365.57 L430.13,366.27 L430.45,366.94 L430.78,367.60 L431.11,368.24 L431.44,368.86 L431.76,369.47 L432.09,370.06 L432.42,370.63 L432.75,371.18 L433.08,371.72 L433.40,372.25 L433.73,372.76 L434.06,373.26 L434.39,373.74 L434.71,374.22 L435.04,374.68 L435.37,375.12 L435.70,375.56 L436.02,375.99 L436.35,376.41 L436.68,376.81 L437.01,377.21 L437.34,377.60 L437.66,377.98 L437.99,378.36 L438.32,378.73 L438.65,379.09 L438.97,379.44 L439.30,379.79 L439.63,380.13 L439.96,380.47 L440.28,380.80 L440.61,381.13 L440.94,381.46 L441.27,381.78 L441.60,382.10 L441.92,382.42 L442.25,382.74 L442.58,383.05 L442.91,383.37 L443.23,383.68 L443.56,383.99 L443.89,384.30 L444.22,384.62 L444.54,384.93 L444.87,385.25 L445.20,385.57 L445.53,385.89 L445.86,386.21 L446.18,386.53 L446.51,386.86 L446.84,387.19 L447.17,387.53 L447.49,387.86 L447.82,388.21 L448.15,388.55 L448.48,388.90 L448.80,389.25 L449.13,389.60 L449.46,389.96 L449.79,390.32 L450.12,390.69 L450.44,391.05 L450.77,391.42 L451.10,391.80 L451.43,392.17 L451.75,392.54 L452.08,392.92 L452.41,393.29 L452.74,393.67 L453.06,394.04 L453.39,394.42 L453.72,394.79 L454.05,395.16 L454.37,395.54 L454.70,395.90 L455.03,396.27 L455.36,396.64 L455.69,397.00 L456.01,397.36 L456.34,397.71 L456.67,398.07 L457.00,398.42 L457.32,398.77 L457.65,399.11 L457.98,399.45 L458.31,399.79 L458.63,400.13 L458.96,400.46 L459.29,400.79 L459.62,401.12 L459.95,401.45 L460.27,401.77 L460.60,402.09 L460.93,402.41 L461.26,402.72 L461.58,403.04 L461.91,403.35 L462.24,403.66 L462.57,403.96 L462.89,404.27 L463.22,404.57 L463.55,404.86 L463.88,405.16 L464.21,405.45 L464.53,405.74 L464.86,406.02 L465.19,406.30 L465.52,406.58 L465.84,406.85 L466.17,407.12 L466.50,407.38 L466.83,407.64 L467.15,407.90 L467.48,408.15 L467.81,408.39 L468.14,408.63 L468.47,408.87 L468.79,409.10 L469.12,409.32 L469.45,409.54 L469.78,409.75 L470.10,409.96 L470.43,410.16 L470.76,410.36 L471.09,410.55 L471.41,410.73 L471.74,410.92 L472.07,411.09 L472.40,411.26 L472.73,411.43 L473.05,411.59 L473.38,411.74 L473.71,411.89 L474.04,412.04 L474.36,412.18 L474.69,412.32 L475.02,412.45 L475.35,412.58 L475.67,412.70 L476.00,412.82 L476.33,412.94 L476.66,413.05 L476.98,413.17 L477.31,413.27 L477.64,413.38 L477.97,413.48 L478.30,413.58 L478.62,413.67 L478.95,413.77 L479.28,413.86 L479.61,413.95 L479.93,414.03 L480.26,414.12 L480.59,414.20 L480.92,414.28 L481.24,414.37 L481.57,414.45 L481.90,414.52 L482.23,414.60 L482.56,414.68 L482.88,414.76 L483.21,414.83 L483.54,414.91 L483.87,414.98 L484.19,415.06 L484.52,415.13 L484.85,415.20 L485.18,415.28 L485.50,415.35 L485.83,415.43 L486.16,415.50 L486.49,415.57 L486.82,415.65 L487.14,415.72 L487.47,415.80 L487.80,415.87 L488.13,415.95 L488.45,416.03 L488.78,416.10 L489.11,416.18 L489.44,416.26 L489.76,416.33 L490.09,416.41 L490.42,416.49 L490.75,416.57 L491.08,416.65 L491.40,416.73 L491.73,416.81 L492.06,416.89 L492.39,416.97 L492.71,417.05 L493.04,417.13 L493.37,417.21 L493.70,417.29 L494.02,417.37 L494.35,417.45 L494.68,417.53 L495.01,417.61 L495.34,417.68 L495.66,417.76 L495.99,417.84 L496.32,417.92 L496.65,418.00 L496.97,418.07 L497.30,418.15 L497.63,418.23 L497.96,418.30 L498.28,418.38 L498.61,418.45 L498.94,418.52 L499.27,418.59 L499.60,418.67 L499.92,418.74 L500.25,418.80 L500.58,418.87 L500.91,418.94 L501.23,419.00 L501.56,419.07 L501.89,419.13 L502.22,419.19 L502.54,419.26 L502.87,419.31 L503.20,419.37 L503.53,419.43 L503.85,419.49 L504.18,419.54 L504.51,419.59 L504.84,419.64 L505.17,419.69 L505.49,419.74 L505.82,419.79 L506.15,419.84 L506.48,419.88 L506.80,419.93 L507.13,419.97 L507.46,420.01 L507.79,420.05 L508.11,420.09 L508.44,420.12 L508.77,420.16 L509.10,420.19 L509.43,420.23 L509.75,420.26 L510.08,420.29 L510.41,420.32 L510.74,420.35 L511.06,420.38 L511.39,420.40 L511.72,420.43 L512.05,420.45 L512.37,420.48 L512.70,420.50 L513.03,420.52 L513.36,420.54 L513.69,420.56 L514.01,420.58 L514.34,420.60 L514.67,420.61 L515.00,420.63 L515.32,420.64 L515.65,420.66 L515.98,420.67 L516.31,420.69 L516.63,420.70 L516.96,420.71 L517.29,420.72 L517.62,420.73 L517.95,420.74 L518.27,420.75 L518.60,420.76 L518.93,420.77 L519.26,420.78 L519.58,420.79 L519.91,420.79 L520.24,420.80 L520.57,420.81 L520.89,420.81 L521.22,420.82 L521.55,420.82 L521.88,420.83 L522.21,420.83 L522.53,420.84 L522.86,420.84 L523.19,420.85 L523.52,420.85 L523.84,420.85 L524.17,420.86 L524.50,420.86 L524.83,420.86 L525.15,420.86 L525.48,420.87 L525.81,420.87 L526.14,420.87 L526.47,420.87 L526.79,420.88 L527.12,420.88 L527.45,420.88 L527.78,420.88 L528.10,420.88 L528.43,420.88 L528.76,420.88 L529.09,420.89 L529.41,420.89 L529.74,420.89 L530.07,420.89 L530.40,420.89 L530.72,420.89 L531.05,420.89 L531.38,420.89 L531.71,420.89 L532.04,420.89 L532.36,420.89 L532.69,420.89 L533.02,420.90 L533.35,420.90 L533.67,420.90 L534.00,420.90 L534.33,420.90 L534.66,420.90 L534.98,420.90 L535.31,420.90 L535.64,420.90 L535.97,420.90 L536.30,420.90 L536.62,420.90 L536.95,420.90 L537.28,420.90 L537.61,420.90 L537.93,420.90 L538.26,420.90 L538.59,420.90 L538.92,420.90 L539.24,420.90 L539.57,420.90 L539.90,420.90" fill="none" stroke="#111" stroke-width="1.2" stroke-linejoin="round" />
<path d="M310.85,420.60 L311.18,420.60 L311.51,420.60 L311.83,420.60 L312.16,420.60 L312.49,420.60 L312.82,420.60 L313.14,420.60 L313.47,420.60 L313.80,420.60 L314.13,420.60 L314.45,420.60 L314.78,420.60 L315.11,420.60 L315.44,420.60 L315.77,420.60 L316.09,420.60 L316.42,420.60 L316.75,420.60 L317.08,420.60 L317.40,420.60 L317.73,420.60 L318.06,420.60 L318.39,420.60 L318.71,420.60 L319.04,420.60 L319.37,420.60 L319.70,420.60 L320.03,420.60 L320.35,420.60 L320.68,420.60 L321.01,420.60 L321.34,420.60 L321.66,420.60 L321.99,420.60 L322.32,420.60 L322.65,420.60 L322.97,420.60 L323.30,420.60 L323.63,420.60 L323.96,420.60 L324.28,420.60 L324.61,420.60 L324.94,420.60 L325.27,420.60 L325.60,420.60 L325.92,420.60 L326.25,420.60 L326.58,420.60 L326.91,420.60 L327.23,420.60 L327.56,420.59 L327.89,420.59 L328.22,420.59 L328.54,420.59 L328.87,420.59 L329.20,420.59 L329.53,420.59 L329.86,420.59 L330.18,420.59 L330.51,420.59 L330.84,420.59 L331.17,420.59 L331.49,420.58 L331.82,420.58 L332.15,420.58 L332.48,420.58 L332.80,420.58 L333.13,420.58 L333.46,420.58 L333.79,420.57 L334.12,420.57 L334.44,420.57 L334.77,420.57 L335.10,420.56 L335.43,420.56 L335.75,420.56 L336.08,420.55 L336.41,420.55 L336.74,420.54 L337.06,420.54 L337.39,420.53 L337.72,420.53 L338.05,420.52 L338.38,420.52 L338.70,420.51 L339.03,420.50 L339.36,420.50 L339.69,420.49 L340.01,420.48 L340.34,420.47 L340.67,420.46 L341.00,420.45 L341.32,420.44 L341.65,420.43 L341.98,420.41 L342.31,420.40 L342.64,420.38 L342.96,420.37 L343.29,420.35 L343.62,420.33 L343.95,420.31 L344.27,420.29 L344.60,420.27 L344.93,420.24 L345.26,420.22 L345.58,420.19 L345.91,420.16 L346.24,420.13 L346.57,420.10 L346.90,420.07 L347.22,420.03 L347.55,419.99 L347.88,419.95 L348.21,419.90 L348.53,419.86 L348.86,419.81 L349.19,419.76 L349.52,419.70 L349.84,419.64 L350.17,419.58 L350.50,419.51 L350.83,419.44 L351.15,419.37 L351.48,419.29 L351.81,419.21 L352.14,419.12 L352.47,419.03 L352.79,418.94 L353.12,418.83 L353.45,418.73 L353.78,418.62 L354.10,418.50 L354.43,418.37 L354.76,418.24 L355.09,418.10 L355.41,417.96 L355.74,417.80 L356.07,417.64 L356.40,417.48 L356.73,417.30 L357.05,417.12 L357.38,416.92 L357.71,416.72 L358.04,416.51 L358.36,416.28 L358.69,416.05 L359.02,415.81 L359.35,415.55 L359.67,415.29 L360.00,415.01 L360.33,414.72 L360.66,414.42 L360.99,414.11 L361.31,413.78 L361.64,413.44 L361.97,413.08 L362.30,412.71 L362.62,412.32 L362.95,411.92 L363.28,411.51 L363.61,411.07 L363.93,410.63 L364.26,410.16 L364.59,409.68 L364.92,409.17 L365.25,408.65 L365.57,408.12 L365.90,407.56 L366.23,406.98 L366.56,406.38 L366.88,405.77 L367.21,405.13 L367.54,404.47 L367.87,403.79 L368.19,403.09 L368.52,402.36 L368.85,401.62 L369.18,400.85 L369.51,400.06 L369.83,399.24 L370.16,398.40 L370.49,397.54 L370.82,396.66 L371.14,395.75 L371.47,394.81 L371.80,393.85 L372.13,392.87 L372.45,391.86 L372.78,390.83 L373.11,389.77 L373.44,388.69 L373.77,387.58 L374.09,386.45 L374.42,385.29 L374.75,384.11 L375.08,382.90 L375.40,381.67 L375.73,380.42 L376.06,379.14 L376.39,377.83 L376.71,376.51 L377.04,375.16 L377.37,373.79 L377.70,372.40 L378.02,370.98 L378.35,369.54 L378.68,368.09 L379.01,366.61 L379.34,365.11 L379.66,363.60 L379.99,362.07 L380.32,360.52 L380.65,358.95 L380.97,357.37 L381.30,355.77 L381.63,354.16 L381.96,352.53 L382.28,350.90 L382.61,349.25 L382.94,347.59 L383.27,345.93 L383.60,344.25 L383.92,342.57 L384.25,340.89 L384.58,339.20 L384.91,337.51 L385.23,335.81 L385.56,334.12 L385.89,332.43 L386.22,330.74 L386.54,329.05 L386.87,327.37 L387.20,325.70 L387.53,324.03 L387.86,322.38 L388.18,320.73 L388.51,319.10 L388.84,317.48 L389.17,315.88 L389.49,314.30 L389.82,312.73 L390.15,311.19 L390.48,309.66 L390.80,308.16 L391.13,306.69 L391.46,305.24 L391.79,303.81 L392.12,302.42 L392.44,301.06 L392.77,299.73 L393.10,298.43 L393.43,297.17 L393.75,295.94 L394.08,294.75 L394.41,293.60 L394.74,292.49 L395.06,291.42 L395.39,290.39 L395.72,289.40 L396.05,288.46 L396.38,287.56 L396.70,286.71 L397.03,285.91 L397.36,285.15 L397.69,284.45 L398.01,283.79 L398.34,283.18 L398.67,282.62 L399.00,282.12 L399.32,281.66 L399.65,281.26 L399.98,280.91 L400.31,280.61 L400.63,280.36 L400.96,280.17 L401.29,280.03 L401.62,279.94 L401.95,279.91 L402.27,279.93 L402.60,280.00 L402.93,280.13 L403.26,280.30 L403.58,280.53 L403.91,280.81 L404.24,281.14 L404.57,281.52 L404.89,281.95 L405.22,282.43 L405.55,282.95 L405.88,283.53 L406.21,284.15 L406.53,284.81 L406.86,285.52 L407.19,286.27 L407.52,287.07 L407.84,287.91 L408.17,288.78 L408.50,289.70 L408.83,290.65 L409.15,291.64 L409.48,292.66 L409.81,293.71 L410.14,294.80 L410.47,295.92 L410.79,297.07 L411.12,298.24 L411.45,299.45 L411.78,300.67 L412.10,301.92 L412.43,303.19 L412.76,304.48 L413.09,305.79 L413.41,307.11 L413.74,308.46 L414.07,309.81 L414.40,311.18 L414.73,312.55 L415.05,313.94 L415.38,315.33 L415.71,316.73 L416.04,318.14 L416.36,319.55 L416.69,320.95 L417.02,322.36 L417.35,323.77 L417.67,325.18 L418.00,326.58 L418.33,327.98 L418.66,329.37 L418.99,330.75 L419.31,332.12 L419.64,333.49 L419.97,334.84 L420.30,336.18 L420.62,337.51 L420.95,338.82 L421.28,340.12 L421.61,341.40 L421.93,342.67 L422.26,343.92 L422.59,345.15 L422.92,346.36 L423.25,347.55 L423.57,348.72 L423.90,349.88 L424.23,351.01 L424.56,352.11 L424.88,353.20 L425.21,354.26 L425.54,355.31 L425.87,356.33 L426.19,357.32 L426.52,358.29 L426.85,359.24 L427.18,360.17 L427.50,361.07 L427.83,361.95 L428.16,362.81 L428.49,363.64 L428.82,364.45 L429.14,365.23 L429.47,366.00 L429.80,366.74 L430.13,367.46 L430.45,368.16 L430.78,368.84 L431.11,369.49 L431.44,370.13 L431.76,370.74 L432.09,371.34 L432.42,371.91 L432.75,372.47 L433.08,373.01 L433.40,373.53 L433.73,374.04 L434.06,374.53 L434.39,375.00 L434.71,375.46 L435.04,375.90 L435.37,376.33 L435.70,376.75 L436.02,377.15 L436.35,377.54 L436.68,377.92 L437.01,378.29 L437.34,378.65 L437.66,378.99 L437.99,379.33 L438.32,379.67 L438.65,379.99 L438.97,380.31 L439.30,380.62 L439.63,380.92 L439.96,381.22 L440.28,381.52 L440.61,381.81 L440.94,382.09 L441.27,382.38 L441.60,382.66 L441.92,382.94 L442.25,383.22 L442.58,383.49 L442.91,383.77 L443.23,384.04 L443.56,384.32 L443.89,384.60 L444.22,384.87 L444.54,385.15 L444.87,385.43 L445.20,385.71 L445.53,386.00 L445.86,386.29 L446.18,386.57 L446.51,386.87 L446.84,387.16 L447.17,387.46 L447.49,387.76 L447.82,388.07 L448.15,388.38 L448.48,388.69 L448.80,389.00 L449.13,389.32 L449.46,389.65 L449.79,389.98 L450.12,390.31 L450.44,390.65 L450.77,390.99 L451.10,391.33 L451.43,391.68 L451.75,392.03 L452.08,392.39 L452.41,392.74 L452.74,393.11 L453.06,393.47 L453.39,393.84 L453.72,394.21 L454.05,394.59 L454.37,394.97 L454.70,395.35 L455.03,395.73 L455.36,396.11 L455.69,396.50 L456.01,396.89 L456.34,397.28 L456.67,397.67 L457.00,398.06 L457.32,398.45 L457.65,398.85 L457.98,399.24 L458.31,399.63 L458.63,400.03 L458.96,400.42 L459.29,400.82 L459.62,401.21 L459.95,401.60 L460.27,401.99 L460.60,402.38 L460.93,402.77 L461.26,403.15 L461.58,403.54 L461.91,403.92 L462.24,404.30 L462.57,404.67 L462.89,405.05 L463.22,405.42 L463.55,405.78 L463.88,406.15 L464.21,406.51 L464.53,406.86 L464.86,407.21 L465.19,407.56 L465.52,407.90 L465.84,408.24 L466.17,408.58 L466.50,408.91 L466.83,409.23 L467.15,409.56 L467.48,409.87 L467.81,410.18 L468.14,410.49 L468.47,410.79 L468.79,411.08 L469.12,411.37 L469.45,411.66 L469.78,411.94 L470.10,412.21 L470.43,412.48 L470.76,412.74 L471.09,413.00 L471.41,413.25 L471.74,413.49 L472.07,413.74 L472.40,413.97 L472.73,414.20 L473.05,414.42 L473.38,414.64 L473.71,414.85 L474.04,415.06 L474.36,415.26 L474.69,415.46 L475.02,415.65 L475.35,415.84 L475.67,416.02 L476.00,416.19 L476.33,416.36 L476.66,416.53 L476.98,416.69 L477.31,416.85 L477.64,417.00 L477.97,417.14 L478.30,417.29 L478.62,417.42 L478.95,417.56 L479.28,417.68 L479.61,417.81 L479.93,417.93 L480.26,418.04 L480.59,418.15 L480.92,418.26 L481.24,418.37 L481.57,418.47 L481.90,418.56 L482.23,418.65 L482.56,418.74 L482.88,418.83 L483.21,418.91 L483.54,418.99 L483.87,419.07 L484.19,419.14 L484.52,419.21 L484.85,419.28 L485.18,419.34 L485.50,419.40 L485.83,419.46 L486.16,419.52 L486.49,419.58 L486.82,419.63 L487.14,419.68 L487.47,419.72 L487.80,419.77 L488.13,419.81 L488.45,419.85 L488.78,419.89 L489.11,419.93 L489.44,419.97 L489.76,420.00 L490.09,420.03 L490.42,420.07 L490.75,420.09 L491.08,420.12 L491.40,420.15 L491.73,420.18 L492.06,420.20 L492.39,420.22 L492.71,420.24 L493.04,420.26 L493.37,420.28 L493.70,420.30 L494.02,420.32 L494.35,420.34 L494.68,420.35 L495.01,420.37 L495.34,420.38 L495.66,420.39 L495.99,420.41 L496.32,420.42 L496.65,420.43 L496.97,420.44 L497.30,420.45 L497.63,420.46 L497.96,420.47 L498.28,420.48 L498.61,420.49 L498.94,420.49 L499.27,420.50 L499.60,420.51 L499.92,420.51 L500.25,420.52 L500.58,420.52 L500.91,420.53 L501.23,420.53 L501.56,420.54 L501.89,420.54 L502.22,420.55 L502.54,420.55 L502.87,420.55 L503.20,420.56 L503.53,420.56 L503.85,420.56 L504.18,420.56 L504.51,420.57 L504.84,420.57 L505.17,420.57 L505.49,420.57 L505.82,420.58 L506.15,420.58 L506.48,420.58 L506.80,420.58 L507.13,420.58 L507.46,420.58 L507.79,420.58 L508.11,420.59 L508.44,420.59 L508.77,420.59 L509.10,420.59 L509.43,420.59 L509.75,420.59 L510.08,420.59 L510.41,420.59 L510.74,420.59 L511.06,420.59 L511.39,420.59 L511.72,420.59 L512.05,420.59 L512.37,420.60 L512.70,420.60 L513.03,420.60 L513.36,420.60 L513.69,420.60 L514.01,420.60 L514.34,420.60 L514.67,420.60 L515.00,420.60 L515.32,420.60 L515.65,420.60 L515.98,420.60 L516.31,420.60 L516.63,420.60 L516.96,420.60 L517.29,420.60 L517.62,420.60 L517.95,420.60 L518.27,420.60 L518.60,420.60 L518.93,420.60 L519.26,420.60 L519.58,420.60 L519.91,420.60 L520.24,420.60 L520.57,420.60 L520.89,420.60 L521.22,420.60 L521.55,420.60 L521.88,420.60 L522.21,420.60 L522.53,420.60 L522.86,420.60 L523.19,420.60 L523.52,420.60 L523.84,420.60 L524.17,420.60 L524.50,420.60 L524.83,420.60 L525.15,420.60 L525.48,420.60 L525.81,420.60 L526.14,420.60 L526.47,420.60 L526.79,420.60 L527.12,420.60 L527.45,420.60 L527.78,420.60 L528.10,420.60 L528.43,420.60 L528.76,420.60 L529.09,420.60 L529.41,420.60 L529.74,420.60 L530.07,420.60 L530.40,420.60 L530.72,420.60 L531.05,420.60 L531.38,420.60 L531.71,420.60 L532.04,420.60 L532.36,420.60 L532.69,420.60 L533.02,420.60 L533.35,420.60 L533.67,420.60 L534.00,420.60 L534.33,420.60 L534.66,420.60 L534.98,420.60 L535.31,420.60 L535.64,420.60 L535.97,420.60 L536.30,420.60 L536.62,420.60 L536.95,420.60 L537.28,420.60 L537.61,420.60 L537.93,420.60 L538.26,420.60 L538.59,420.60 L538.92,420.60 L539.24,420.60 L539.57,420.60 L539.90,420.60" fill="none" stroke="#ff2020" stroke-width="1.4" stroke-linejoin="round" />
<path d="M310.85,420.60 L311.18,420.60 L311.51,420.60 L311.83,420.60 L312.16,420.60 L312.49,420.60 L312.82,420.60 L313.14,420.60 L313.47,420.60 L313.80,420.60 L314.13,420.60 L314.45,420.60 L314.78,420.60 L315.11,420.60 L315.44,420.60 L315.77,420.60 L316.09,420.60 L316.42,420.60 L316.75,420.60 L317.08,420.60 L317.40,420.60 L317.73,420.60 L318.06,420.60 L318.39,420.60 L318.71,420.60 L319.04,420.60 L319.37,420.60 L319.70,420.60 L320.03,420.60 L320.35,420.60 L320.68,420.60 L321.01,420.60 L321.34,420.60 L321.66,420.60 L321.99,420.60 L322.32,420.60 L322.65,420.60 L322.97,420.60 L323.30,420.60 L323.63,420.60 L323.96,420.60 L324.28,420.60 L324.61,420.60 L324.94,420.60 L325.27,420.60 L325.60,420.60 L325.92,420.60 L326.25,420.60 L326.58,420.60 L326.91,420.60 L327.23,420.60 L327.56,420.59 L327.89,420.59 L328.22,420.59 L328.54,420.59 L328.87,420.59 L329.20,420.59 L329.53,420.59 L329.86,420.59 L330.18,420.59 L330.51,420.59 L330.84,420.59 L331.17,420.59 L331.49,420.58 L331.82,420.58 L332.15,420.58 L332.48,420.58 L332.80,420.58 L333.13,420.58 L333.46,420.58 L333.79,420.57 L334.12,420.57 L334.44,420.57 L334.77,420.57 L335.10,420.56 L335.43,420.56 L335.75,420.56 L336.08,420.55 L336.41,420.55 L336.74,420.54 L337.06,420.54 L337.39,420.53 L337.72,420.53 L338.05,420.52 L338.38,420.52 L338.70,420.51 L339.03,420.50 L339.36,420.50 L339.69,420.49 L340.01,420.48 L340.34,420.47 L340.67,420.46 L341.00,420.45 L341.32,420.44 L341.65,420.43 L341.98,420.41 L342.31,420.40 L342.64,420.38 L342.96,420.37 L343.29,420.35 L343.62,420.33 L343.95,420.31 L344.27,420.29 L344.60,420.27 L344.93,420.24 L345.26,420.22 L345.58,420.19 L345.91,420.16 L346.24,420.13 L346.57,420.10 L346.90,420.07 L347.22,420.03 L347.55,419.99 L347.88,419.95 L348.21,419.90 L348.53,419.86 L348.86,419.81 L349.19,419.76 L349.52,419.70 L349.84,419.64 L350.17,419.58 L350.50,419.51 L350.83,419.44 L351.15,419.37 L351.48,419.29 L351.81,419.21 L352.14,419.12 L352.47,419.03 L352.79,418.94 L353.12,418.83 L353.45,418.73 L353.78,418.62 L354.10,418.50 L354.43,418.37 L354.76,418.24 L355.09,418.10 L355.41,417.96 L355.74,417.80 L356.07,417.64 L356.40,417.48 L356.73,417.30 L357.05,417.12 L357.38,416.92 L357.71,416.72 L358.04,416.51 L358.36,416.28 L358.69,416.05 L359.02,415.81 L359.35,415.55 L359.67,415.29 L360.00,415.01 L360.33,414.72 L360.66,414.42 L360.99,414.11 L361.31,413.78 L361.64,413.44 L361.97,413.08 L362.30,412.71 L362.62,412.32 L362.95,411.92 L363.28,411.51 L363.61,411.08 L363.93,410.63 L364.26,410.16 L364.59,409.68 L364.92,409.17 L365.25,408.65 L365.57,408.12 L365.90,407.56 L366.23,406.98 L366.56,406.38 L366.88,405.77 L367.21,405.13 L367.54,404.47 L367.87,403.79 L368.19,403.09 L368.52,402.37 L368.85,401.62 L369.18,400.85 L369.51,400.06 L369.83,399.24 L370.16,398.41 L370.49,397.54 L370.82,396.66 L371.14,395.75 L371.47,394.81 L371.80,393.85 L372.13,392.87 L372.45,391.86 L372.78,390.83 L373.11,389.77 L373.44,388.69 L373.77,387.58 L374.09,386.45 L374.42,385.29 L374.75,384.11 L375.08,382.91 L375.40,381.68 L375.73,380.42 L376.06,379.14 L376.39,377.84 L376.71,376.52 L377.04,375.17 L377.37,373.80 L377.70,372.41 L378.02,370.99 L378.35,369.56 L378.68,368.10 L379.01,366.63 L379.34,365.13 L379.66,363.62 L379.99,362.09 L380.32,360.54 L380.65,358.97 L380.97,357.39 L381.30,355.79 L381.63,354.18 L381.96,352.56 L382.28,350.93 L382.61,349.28 L382.94,347.63 L383.27,345.97 L383.60,344.30 L383.92,342.62 L384.25,340.94 L384.58,339.25 L384.91,337.56 L385.23,335.87 L385.56,334.19 L385.89,332.50 L386.22,330.81 L386.54,329.13 L386.87,327.46 L387.20,325.79 L387.53,324.13 L387.86,322.48 L388.18,320.85 L388.51,319.22 L388.84,317.61 L389.17,316.02 L389.49,314.45 L389.82,312.89 L390.15,311.36 L390.48,309.84 L390.80,308.35 L391.13,306.89 L391.46,305.45 L391.79,304.05 L392.12,302.67 L392.44,301.32 L392.77,300.01 L393.10,298.73 L393.43,297.48 L393.75,296.28 L394.08,295.11 L394.41,293.98 L394.74,292.89 L395.06,291.84 L395.39,290.84 L395.72,289.88 L396.05,288.97 L396.38,288.10 L396.70,287.28 L397.03,286.51 L397.36,285.79 L397.69,285.11 L398.01,284.49 L398.34,283.93 L398.67,283.41 L399.00,282.95 L399.32,282.54 L399.65,282.18 L399.98,281.88 L400.31,281.63 L400.63,281.44 L400.96,281.31 L401.29,281.22 L401.62,281.20 L401.95,281.23 L402.27,281.32 L402.60,281.46 L402.93,281.66 L403.26,281.91 L403.58,282.22 L403.91,282.58 L404.24,282.99 L404.57,283.46 L404.89,283.99 L405.22,284.56 L405.55,285.19 L405.88,285.86 L406.21,286.59 L406.53,287.37 L406.86,288.19 L407.19,289.06 L407.52,289.98 L407.84,290.95 L408.17,291.95 L408.50,293.01 L408.83,294.10 L409.15,295.23 L409.48,296.41 L409.81,297.62 L410.14,298.87 L410.47,300.15 L410.79,301.47 L411.12,302.82 L411.45,304.20 L411.78,305.61 L412.10,307.05 L412.43,308.52 L412.76,310.01 L413.09,311.52 L413.41,313.06 L413.74,314.62 L414.07,316.20 L414.40,317.79 L414.73,319.40 L415.05,321.03 L415.38,322.66 L415.71,324.31 L416.04,325.97 L416.36,327.64 L416.69,329.32 L417.02,331.00 L417.35,332.68 L417.67,334.37 L418.00,336.06 L418.33,337.75 L418.66,339.44 L418.99,341.12 L419.31,342.80 L419.64,344.48 L419.97,346.15 L420.30,347.81 L420.62,349.47 L420.95,351.11 L421.28,352.74 L421.61,354.36 L421.93,355.97 L422.26,357.56 L422.59,359.14 L422.92,360.71 L423.25,362.25 L423.57,363.78 L423.90,365.30 L424.23,366.79 L424.56,368.26 L424.88,369.72 L425.21,371.15 L425.54,372.56 L425.87,373.95 L426.19,375.32 L426.52,376.66 L426.85,377.99 L427.18,379.29 L427.50,380.56 L427.83,381.81 L428.16,383.04 L428.49,384.24 L428.82,385.42 L429.14,386.58 L429.47,387.71 L429.80,388.81 L430.13,389.89 L430.45,390.95 L430.78,391.98 L431.11,392.98 L431.44,393.96 L431.76,394.92 L432.09,395.85 L432.42,396.76 L432.75,397.64 L433.08,398.50 L433.40,399.34 L433.73,400.15 L434.06,400.94 L434.39,401.70 L434.71,402.45 L435.04,403.17 L435.37,403.87 L435.70,404.54 L436.02,405.20 L436.35,405.84 L436.68,406.45 L437.01,407.05 L437.34,407.62 L437.66,408.18 L437.99,408.71 L438.32,409.23 L438.65,409.73 L438.97,410.21 L439.30,410.68 L439.63,411.12 L439.96,411.55 L440.28,411.97 L440.61,412.37 L440.94,412.75 L441.27,413.12 L441.60,413.47 L441.92,413.82 L442.25,414.14 L442.58,414.45 L442.91,414.76 L443.23,415.04 L443.56,415.32 L443.89,415.58 L444.22,415.84 L444.54,416.08 L444.87,416.31 L445.20,416.53 L445.53,416.74 L445.86,416.94 L446.18,417.14 L446.51,417.32 L446.84,417.50 L447.17,417.66 L447.49,417.82 L447.82,417.97 L448.15,418.12 L448.48,418.25 L448.80,418.39 L449.13,418.51 L449.46,418.63 L449.79,418.74 L450.12,418.85 L450.44,418.95 L450.77,419.04 L451.10,419.13 L451.43,419.22 L451.75,419.30 L452.08,419.38 L452.41,419.45 L452.74,419.52 L453.06,419.59 L453.39,419.65 L453.72,419.71 L454.05,419.76 L454.37,419.81 L454.70,419.86 L455.03,419.91 L455.36,419.95 L455.69,419.99 L456.01,420.03 L456.34,420.07 L456.67,420.10 L457.00,420.14 L457.32,420.17 L457.65,420.19 L457.98,420.22 L458.31,420.25 L458.63,420.27 L458.96,420.29 L459.29,420.31 L459.62,420.33 L459.95,420.35 L460.27,420.37 L460.60,420.38 L460.93,420.40 L461.26,420.41 L461.58,420.43 L461.91,420.44 L462.24,420.45 L462.57,420.46 L462.89,420.47 L463.22,420.48 L463.55,420.49 L463.88,420.50 L464.21,420.50 L464.53,420.51 L464.86,420.52 L465.19,420.52 L465.52,420.53 L465.84,420.54 L466.17,420.54 L466.50,420.54 L466.83,420.55 L467.15,420.55 L467.48,420.56 L467.81,420.56 L468.14,420.56 L468.47,420.57 L468.79,420.57 L469.12,420.57 L469.45,420.57 L469.78,420.58 L470.10,420.58 L470.43,420.58 L470.76,420.58 L471.09,420.58 L471.41,420.58 L471.74,420.59 L472.07,420.59 L472.40,420.59 L472.73,420.59 L473.05,420.59 L473.38,420.59 L473.71,420.59 L474.04,420.59 L474.36,420.59 L474.69,420.59 L475.02,420.59 L475.35,420.59 L475.67,420.59 L476.00,420.60 L476.33,420.60 L476.66,420.60 L476.98,420.60 L477.31,420.60 L477.64,420.60 L477.97,420.60 L478.30,420.60 L478.62,420.60 L478.95,420.60 L479.28,420.60 L479.61,420.60 L479.93,420.60 L480.26,420.60 L480.59,420.60 L480.92,420.60 L481.24,420.60 L481.57,420.60 L481.90,420.60 L482.23,420.60 L482.56,420.60 L482.88,420.60 L483.21,420.60 L483.54,420.60 L483.87,420.60 L484.19,420.60 L484.52,420.60 L484.85,420.60 L485.18,420.60 L485.50,420.60 L485.83,420.60 L486.16,420.60 L486.49,420.60 L486.82,420.60 L487.14,420.60 L487.47,420.60 L487.80,420.60 L488.13,420.60 L488.45,420.60 L488.78,420.60 L489.11,420.60 L489.44,420.60 L489.76,420.60 L490.09,420.60 L490.42,420.60 L490.75,420.60 L491.08,420.60 L491.40,420.60 L491.73,420.60 L492.06,420.60 L492.39,420.60 L492.71,420.60 L493.04,420.60 L493.37,420.60 L493.70,420.60 L494.02,420.60 L494.35,420.60 L494.68,420.60 L495.01,420.60 L495.34,420.60 L495.66,420.60 L495.99,420.60 L496.32,420.60 L496.65,420.60 L496.97,420.60 L497.30,420.60 L497.63,420.60 L497.96,420.60 L498.28,420.60 L498.61,420.60 L498.94,420.60 L499.27,420.60 L499.60,420.60 L499.92,420.60 L500.25,420.60 L500.58,420.60 L500.91,420.60 L501.23,420.60 L501.56,420.60 L501.89,420.60 L502.22,420.60 L502.54,420.60 L502.87,420.60 L503.20,420.60 L503.53,420.60 L503.85,420.60 L504.18,420.60 L504.51,420.60 L504.84,420.60 L505.17,420.60 L505.49,420.60 L505.82,420.60 L506.15,420.60 L506.48,420.60 L506.80,420.60 L507.13,420.60 L507.46,420.60 L507.79,420.60 L508.11,420.60 L508.44,420.60 L508.77,420.60 L509.10,420.60 L509.43,420.60 L509.75,420.60 L510.08,420.60 L510.41,420.60 L510.74,420.60 L511.06,420.60 L511.39,420.60 L511.72,420.60 L512.05,420.60 L512.37,420.60 L512.70,420.60 L513.03,420.60 L513.36,420.60 L513.69,420.60 L514.01,420.60 L514.34,420.60 L514.67,420.60 L515.00,420.60 L515.32,420.60 L515.65,420.60 L515.98,420.60 L516.31,420.60 L516.63,420.60 L516.96,420.60 L517.29,420.60 L517.62,420.60 L517.95,420.60 L518.27,420.60 L518.60,420.60 L518.93,420.60 L519.26,420.60 L519.58,420.60 L519.91,420.60 L520.24,420.60 L520.57,420.60 L520.89,420.60 L521.22,420.60 L521.55,420.60 L521.88,420.60 L522.21,420.60 L522.53,420.60 L522.86,420.60 L523.19,420.60 L523.52,420.60 L523.84,420.60 L524.17,420.60 L524.50,420.60 L524.83,420.60 L525.15,420.60 L525.48,420.60 L525.81,420.60 L526.14,420.60 L526.47,420.60 L526.79,420.60 L527.12,420.60 L527.45,420.60 L527.78,420.60 L528.10,420.60 L528.43,420.60 L528.76,420.60 L529.09,420.60 L529.41,420.60 L529.74,420.60 L530.07,420.60 L530.40,420.60 L530.72,420.60 L531.05,420.60 L531.38,420.60 L531.71,420.60 L532.04,420.60 L532.36,420.60 L532.69,420.60 L533.02,420.60 L533.35,420.60 L533.67,420.60 L534.00,420.60 L534.33,420.60 L534.66,420.60 L534.98,420.60 L535.31,420.60 L535.64,420.60 L535.97,420.60 L536.30,420.60 L536.62,420.60 L536.95,420.60 L537.28,420.60 L537.61,420.60 L537.93,420.60 L538.26,420.60 L538.59,420.60 L538.92,420.60 L539.24,420.60 L539.57,420.60 L539.90,420.60" fill="none" stroke="#3030ff" stroke-width="1.5" stroke-linejoin="round" />
<path d="M310.85,420.60 L311.18,420.60 L311.51,420.60 L311.83,420.60 L312.16,420.60 L312.49,420.60 L312.82,420.60 L313.14,420.60 L313.47,420.60 L313.80,420.60 L314.13,420.60 L314.45,420.60 L314.78,420.60 L315.11,420.60 L315.44,420.60 L315.77,420.60 L316.09,420.60 L316.42,420.60 L316.75,420.60 L317.08,420.60 L317.40,420.60 L317.73,420.60 L318.06,420.60 L318.39,420.60 L318.71,420.60 L319.04,420.60 L319.37,420.60 L319.70,420.60 L320.03,420.60 L320.35,420.60 L320.68,420.60 L321.01,420.60 L321.34,420.60 L321.66,420.60 L321.99,420.60 L322.32,420.60 L322.65,420.60 L322.97,420.60 L323.30,420.60 L323.63,420.60 L323.96,420.60 L324.28,420.60 L324.61,420.60 L324.94,420.60 L325.27,420.60 L325.60,420.60 L325.92,420.60 L326.25,420.60 L326.58,420.60 L326.91,420.60 L327.23,420.60 L327.56,420.60 L327.89,420.60 L328.22,420.60 L328.54,420.60 L328.87,420.60 L329.20,420.60 L329.53,420.60 L329.86,420.60 L330.18,420.60 L330.51,420.60 L330.84,420.60 L331.17,420.60 L331.49,420.60 L331.82,420.60 L332.15,420.60 L332.48,420.60 L332.80,420.60 L333.13,420.60 L333.46,420.60 L333.79,420.60 L334.12,420.60 L334.44,420.60 L334.77,420.60 L335.10,420.60 L335.43,420.60 L335.75,420.60 L336.08,420.60 L336.41,420.60 L336.74,420.60 L337.06,420.60 L337.39,420.60 L337.72,420.60 L338.05,420.60 L338.38,420.60 L338.70,420.60 L339.03,420.60 L339.36,420.60 L339.69,420.60 L340.01,420.60 L340.34,420.60 L340.67,420.60 L341.00,420.60 L341.32,420.60 L341.65,420.60 L341.98,420.60 L342.31,420.60 L342.64,420.60 L342.96,420.60 L343.29,420.60 L343.62,420.60 L343.95,420.60 L344.27,420.60 L344.60,420.60 L344.93,420.60 L345.26,420.60 L345.58,420.60 L345.91,420.60 L346.24,420.60 L346.57,420.60 L346.90,420.60 L347.22,420.60 L347.55,420.60 L347.88,420.60 L348.21,420.60 L348.53,420.60 L348.86,420.60 L349.19,420.60 L349.52,420.60 L349.84,420.60 L350.17,420.60 L350.50,420.60 L350.83,420.60 L351.15,420.60 L351.48,420.60 L351.81,420.60 L352.14,420.60 L352.47,420.60 L352.79,420.60 L353.12,420.60 L353.45,420.60 L353.78,420.60 L354.10,420.60 L354.43,420.60 L354.76,420.60 L355.09,420.60 L355.41,420.60 L355.74,420.60 L356.07,420.60 L356.40,420.60 L356.73,420.60 L357.05,420.60 L357.38,420.60 L357.71,420.60 L358.04,420.60 L358.36,420.60 L358.69,420.60 L359.02,420.60 L359.35,420.60 L359.67,420.60 L360.00,420.60 L360.33,420.60 L360.66,420.60 L360.99,420.60 L361.31,420.60 L361.64,420.60 L361.97,420.60 L362.30,420.60 L362.62,420.60 L362.95,420.60 L363.28,420.60 L363.61,420.60 L363.93,420.60 L364.26,420.60 L364.59,420.60 L364.92,420.60 L365.25,420.60 L365.57,420.60 L365.90,420.60 L366.23,420.60 L366.56,420.60 L366.88,420.60 L367.21,420.60 L367.54,420.60 L367.87,420.60 L368.19,420.60 L368.52,420.60 L368.85,420.60 L369.18,420.60 L369.51,420.60 L369.83,420.60 L370.16,420.60 L370.49,420.60 L370.82,420.60 L371.14,420.60 L371.47,420.60 L371.80,420.60 L372.13,420.60 L372.45,420.60 L372.78,420.60 L373.11,420.60 L373.44,420.60 L373.77,420.60 L374.09,420.60 L374.42,420.60 L374.75,420.59 L375.08,420.59 L375.40,420.59 L375.73,420.59 L376.06,420.59 L376.39,420.59 L376.71,420.59 L377.04,420.59 L377.37,420.59 L377.70,420.59 L378.02,420.59 L378.35,420.59 L378.68,420.59 L379.01,420.58 L379.34,420.58 L379.66,420.58 L379.99,420.58 L380.32,420.58 L380.65,420.58 L380.97,420.58 L381.30,420.57 L381.63,420.57 L381.96,420.57 L382.28,420.57 L382.61,420.56 L382.94,420.56 L383.27,420.56 L383.60,420.56 L383.92,420.55 L384.25,420.55 L384.58,420.55 L384.91,420.54 L385.23,420.54 L385.56,420.53 L385.89,420.53 L386.22,420.52 L386.54,420.52 L386.87,420.51 L387.20,420.51 L387.53,420.50 L387.86,420.49 L388.18,420.49 L388.51,420.48 L388.84,420.47 L389.17,420.46 L389.49,420.45 L389.82,420.44 L390.15,420.43 L390.48,420.42 L390.80,420.41 L391.13,420.39 L391.46,420.38 L391.79,420.37 L392.12,420.35 L392.44,420.34 L392.77,420.32 L393.10,420.30 L393.43,420.28 L393.75,420.26 L394.08,420.24 L394.41,420.22 L394.74,420.20 L395.06,420.18 L395.39,420.15 L395.72,420.12 L396.05,420.10 L396.38,420.07 L396.70,420.03 L397.03,420.00 L397.36,419.97 L397.69,419.93 L398.01,419.89 L398.34,419.86 L398.67,419.81 L399.00,419.77 L399.32,419.73 L399.65,419.68 L399.98,419.63 L400.31,419.58 L400.63,419.52 L400.96,419.47 L401.29,419.41 L401.62,419.34 L401.95,419.28 L402.27,419.21 L402.60,419.14 L402.93,419.07 L403.26,418.99 L403.58,418.91 L403.91,418.83 L404.24,418.75 L404.57,418.66 L404.89,418.56 L405.22,418.47 L405.55,418.37 L405.88,418.26 L406.21,418.16 L406.53,418.05 L406.86,417.93 L407.19,417.81 L407.52,417.69 L407.84,417.56 L408.17,417.43 L408.50,417.29 L408.83,417.15 L409.15,417.00 L409.48,416.85 L409.81,416.70 L410.14,416.54 L410.47,416.37 L410.79,416.20 L411.12,416.03 L411.45,415.85 L411.78,415.66 L412.10,415.47 L412.43,415.27 L412.76,415.07 L413.09,414.87 L413.41,414.65 L413.74,414.44 L414.07,414.21 L414.40,413.99 L414.73,413.75 L415.05,413.51 L415.38,413.27 L415.71,413.02 L416.04,412.76 L416.36,412.50 L416.69,412.24 L417.02,411.96 L417.35,411.69 L417.67,411.41 L418.00,411.12 L418.33,410.83 L418.66,410.53 L418.99,410.23 L419.31,409.92 L419.64,409.61 L419.97,409.29 L420.30,408.97 L420.62,408.64 L420.95,408.31 L421.28,407.98 L421.61,407.64 L421.93,407.30 L422.26,406.95 L422.59,406.61 L422.92,406.25 L423.25,405.90 L423.57,405.54 L423.90,405.18 L424.23,404.82 L424.56,404.45 L424.88,404.08 L425.21,403.72 L425.54,403.35 L425.87,402.97 L426.19,402.60 L426.52,402.23 L426.85,401.86 L427.18,401.48 L427.50,401.11 L427.83,400.74 L428.16,400.36 L428.49,399.99 L428.82,399.62 L429.14,399.26 L429.47,398.89 L429.80,398.53 L430.13,398.17 L430.45,397.81 L430.78,397.46 L431.11,397.11 L431.44,396.76 L431.76,396.42 L432.09,396.09 L432.42,395.76 L432.75,395.43 L433.08,395.11 L433.40,394.80 L433.73,394.49 L434.06,394.19 L434.39,393.90 L434.71,393.61 L435.04,393.33 L435.37,393.06 L435.70,392.80 L436.02,392.55 L436.35,392.30 L436.68,392.07 L437.01,391.84 L437.34,391.62 L437.66,391.42 L437.99,391.22 L438.32,391.04 L438.65,390.86 L438.97,390.70 L439.30,390.54 L439.63,390.40 L439.96,390.27 L440.28,390.15 L440.61,390.04 L440.94,389.94 L441.27,389.86 L441.60,389.78 L441.92,389.72 L442.25,389.68 L442.58,389.64 L442.91,389.61 L443.23,389.60 L443.56,389.60 L443.89,389.61 L444.22,389.64 L444.54,389.67 L444.87,389.72 L445.20,389.78 L445.53,389.86 L445.86,389.94 L446.18,390.04 L446.51,390.15 L446.84,390.27 L447.17,390.40 L447.49,390.54 L447.82,390.69 L448.15,390.86 L448.48,391.03 L448.80,391.22 L449.13,391.42 L449.46,391.62 L449.79,391.84 L450.12,392.06 L450.44,392.30 L450.77,392.54 L451.10,392.80 L451.43,393.06 L451.75,393.33 L452.08,393.61 L452.41,393.89 L452.74,394.19 L453.06,394.49 L453.39,394.79 L453.72,395.11 L454.05,395.43 L454.37,395.75 L454.70,396.08 L455.03,396.42 L455.36,396.76 L455.69,397.11 L456.01,397.45 L456.34,397.81 L456.67,398.16 L457.00,398.52 L457.32,398.89 L457.65,399.25 L457.98,399.62 L458.31,399.99 L458.63,400.36 L458.96,400.73 L459.29,401.10 L459.62,401.48 L459.95,401.85 L460.27,402.22 L460.60,402.60 L460.93,402.97 L461.26,403.34 L461.58,403.71 L461.91,404.08 L462.24,404.45 L462.57,404.81 L462.89,405.17 L463.22,405.54 L463.55,405.89 L463.88,406.25 L464.21,406.60 L464.53,406.95 L464.86,407.29 L465.19,407.64 L465.52,407.97 L465.84,408.31 L466.17,408.64 L466.50,408.96 L466.83,409.29 L467.15,409.60 L467.48,409.91 L467.81,410.22 L468.14,410.52 L468.47,410.82 L468.79,411.11 L469.12,411.40 L469.45,411.68 L469.78,411.96 L470.10,412.23 L470.43,412.50 L470.76,412.76 L471.09,413.01 L471.41,413.27 L471.74,413.51 L472.07,413.75 L472.40,413.98 L472.73,414.21 L473.05,414.43 L473.38,414.65 L473.71,414.86 L474.04,415.07 L474.36,415.27 L474.69,415.47 L475.02,415.66 L475.35,415.84 L475.67,416.02 L476.00,416.20 L476.33,416.37 L476.66,416.53 L476.98,416.69 L477.31,416.85 L477.64,417.00 L477.97,417.15 L478.30,417.29 L478.62,417.42 L478.95,417.56 L479.28,417.69 L479.61,417.81 L479.93,417.93 L480.26,418.04 L480.59,418.16 L480.92,418.26 L481.24,418.37 L481.57,418.47 L481.90,418.56 L482.23,418.66 L482.56,418.74 L482.88,418.83 L483.21,418.91 L483.54,418.99 L483.87,419.07 L484.19,419.14 L484.52,419.21 L484.85,419.28 L485.18,419.34 L485.50,419.41 L485.83,419.46 L486.16,419.52 L486.49,419.58 L486.82,419.63 L487.14,419.68 L487.47,419.72 L487.80,419.77 L488.13,419.81 L488.45,419.85 L488.78,419.89 L489.11,419.93 L489.44,419.97 L489.76,420.00 L490.09,420.03 L490.42,420.07 L490.75,420.09 L491.08,420.12 L491.40,420.15 L491.73,420.18 L492.06,420.20 L492.39,420.22 L492.71,420.24 L493.04,420.26 L493.37,420.28 L493.70,420.30 L494.02,420.32 L494.35,420.34 L494.68,420.35 L495.01,420.37 L495.34,420.38 L495.66,420.39 L495.99,420.41 L496.32,420.42 L496.65,420.43 L496.97,420.44 L497.30,420.45 L497.63,420.46 L497.96,420.47 L498.28,420.48 L498.61,420.49 L498.94,420.49 L499.27,420.50 L499.60,420.51 L499.92,420.51 L500.25,420.52 L500.58,420.52 L500.91,420.53 L501.23,420.53 L501.56,420.54 L501.89,420.54 L502.22,420.55 L502.54,420.55 L502.87,420.55 L503.20,420.56 L503.53,420.56 L503.85,420.56 L504.18,420.56 L504.51,420.57 L504.84,420.57 L505.17,420.57 L505.49,420.57 L505.82,420.58 L506.15,420.58 L506.48,420.58 L506.80,420.58 L507.13,420.58 L507.46,420.58 L507.79,420.58 L508.11,420.59 L508.44,420.59 L508.77,420.59 L509.10,420.59 L509.43,420.59 L509.75,420.59 L510.08,420.59 L510.41,420.59 L510.74,420.59 L511.06,420.59 L511.39,420.59 L511.72,420.59 L512.05,420.59 L512.37,420.60 L512.70,420.60 L513.03,420.60 L513.36,420.60 L513.69,420.60 L514.01,420.60 L514.34,420.60 L514.67,420.60 L515.00,420.60 L515.32,420.60 L515.65,420.60 L515.98,420.60 L516.31,420.60 L516.63,420.60 L516.96,420.60 L517.29,420.60 L517.62,420.60 L517.95,420.60 L518.27,420.60 L518.60,420.60 L518.93,420.60 L519.26,420.60 L519.58,420.60 L519.91,420.60 L520.24,420.60 L520.57,420.60 L520.89,420.60 L521.22,420.60 L521.55,420.60 L521.88,420.60 L522.21,420.60 L522.53,420.60 L522.86,420.60 L523.19,420.60 L523.52,420.60 L523.84,420.60 L524.17,420.60 L524.50,420.60 L524.83,420.60 L525.15,420.60 L525.48,420.60 L525.81,420.60 L526.14,420.60 L526.47,420.60 L526.79,420.60 L527.12,420.60 L527.45,420.60 L527.78,420.60 L528.10,420.60 L528.43,420.60 L528.76,420.60 L529.09,420.60 L529.41,420.60 L529.74,420.60 L530.07,420.60 L530.40,420.60 L530.72,420.60 L531.05,420.60 L531.38,420.60 L531.71,420.60 L532.04,420.60 L532.36,420.60 L532.69,420.60 L533.02,420.60 L533.35,420.60 L533.67,420.60 L534.00,420.60 L534.33,420.60 L534.66,420.60 L534.98,420.60 L535.31,420.60 L535.64,420.60 L535.97,420.60 L536.30,420.60 L536.62,420.60 L536.95,420.60 L537.28,420.60 L537.61,420.60 L537.93,420.60 L538.26,420.60 L538.59,420.60 L538.92,420.60 L539.24,420.60 L539.57,420.60 L539.90,420.60" fill="none" stroke="#ff20ff" stroke-width="1.7" stroke-linejoin="round" />
<rect x="310.05" y="243.5" width="230.65000000000003" height="184.5" fill="none" stroke="#2b2b2b" stroke-width="1.6"/>
<line x1="310.05" y1="428.0" x2="310.05" y2="424.5" stroke="#2b2b2b" stroke-width="1.3"/>
<text x="310.05" y="441.00" font-size="10.8" text-anchor="middle" >526</text>
<line x1="324.47" y1="428.0" x2="324.47" y2="426.2" stroke="#2b2b2b" stroke-width="1.3"/>
<line x1="338.88" y1="428.0" x2="338.88" y2="424.5" stroke="#2b2b2b" stroke-width="1.3"/>
<text x="338.88" y="441.00" font-size="10.8" text-anchor="middle" >527</text>
<line x1="353.30" y1="428.0" x2="353.30" y2="426.2" stroke="#2b2b2b" stroke-width="1.3"/>
<line x1="367.71" y1="428.0" x2="367.71" y2="424.5" stroke="#2b2b2b" stroke-width="1.3"/>
<text x="367.71" y="441.00" font-size="10.8" text-anchor="middle" >528</text>
<line x1="382.12" y1="428.0" x2="382.12" y2="426.2" stroke="#2b2b2b" stroke-width="1.3"/>
<line x1="396.54" y1="428.0" x2="396.54" y2="424.5" stroke="#2b2b2b" stroke-width="1.3"/>
<text x="396.54" y="441.00" font-size="10.8" text-anchor="middle" >529</text>
<line x1="410.96" y1="428.0" x2="410.96" y2="426.2" stroke="#2b2b2b" stroke-width="1.3"/>
<line x1="425.37" y1="428.0" x2="425.37" y2="424.5" stroke="#2b2b2b" stroke-width="1.3"/>
<text x="425.37" y="441.00" font-size="10.8" text-anchor="middle" >530</text>
<line x1="439.78" y1="428.0" x2="439.78" y2="426.2" stroke="#2b2b2b" stroke-width="1.3"/>
<line x1="454.20" y1="428.0" x2="454.20" y2="424.5" stroke="#2b2b2b" stroke-width="1.3"/>
<text x="454.20" y="441.00" font-size="10.8" text-anchor="middle" >531</text>
<line x1="468.62" y1="428.0" x2="468.62" y2="426.2" stroke="#2b2b2b" stroke-width="1.3"/>
<line x1="483.03" y1="428.0" x2="483.03" y2="424.5" stroke="#2b2b2b" stroke-width="1.3"/>
<text x="483.03" y="441.00" font-size="10.8" text-anchor="middle" >532</text>
<line x1="497.44" y1="428.0" x2="497.44" y2="426.2" stroke="#2b2b2b" stroke-width="1.3"/>
<line x1="511.86" y1="428.0" x2="511.86" y2="424.5" stroke="#2b2b2b" stroke-width="1.3"/>
<text x="511.86" y="441.00" font-size="10.8" text-anchor="middle" >533</text>
<line x1="526.27" y1="428.0" x2="526.27" y2="426.2" stroke="#2b2b2b" stroke-width="1.3"/>
<line x1="540.69" y1="428.0" x2="540.69" y2="424.5" stroke="#2b2b2b" stroke-width="1.3"/>
<text x="540.69" y="441.00" font-size="10.8" text-anchor="middle" >534</text>
<text x="425.40" y="461.90" font-size="14.5" text-anchor="middle" >Binding Energy (eV)</text>
<text x="0" y="0" font-size="15" text-anchor="middle" transform="translate(294.00,341.40) rotate(-90)">Intensity (a.u.)</text>
<text x="332.10" y="267.00" font-size="22" text-anchor="middle" >(d)</text>
<line x1="464.9" y1="256.0" x2="488.5" y2="256.0" stroke="#111" stroke-width="1.4"/>
<text transform="translate(490.8,259.1) scale(0.93,1)" x="0" y="0" font-size="11.4">Exp.O1s</text>
<line x1="464.9" y1="268.5" x2="488.5" y2="268.5" stroke="#ff2020" stroke-width="1.4"/>
<text transform="translate(490.8,272.2) scale(0.93,1)" x="0" y="0" font-size="11.4">Peak Sum</text>
<line x1="464.9" y1="282.2" x2="488.5" y2="282.2" stroke="#2020ff" stroke-width="1.4"/>
<text transform="translate(490.8,285.5) scale(0.93,1)" x="0" y="0" font-size="11.4">O</text>
<text x="497.8" y="289.5" font-size="10.3" letter-spacing="1.0">I</text>
<line x1="464.9" y1="299.1" x2="488.5" y2="299.1" stroke="#ff20ff" stroke-width="1.4"/>
<text transform="translate(490.8,302.7) scale(0.93,1)" x="0" y="0" font-size="11.4">O</text>
<text x="497.8" y="307.0" font-size="10.3" letter-spacing="1.0">II</text>
</g></svg></body></html>
